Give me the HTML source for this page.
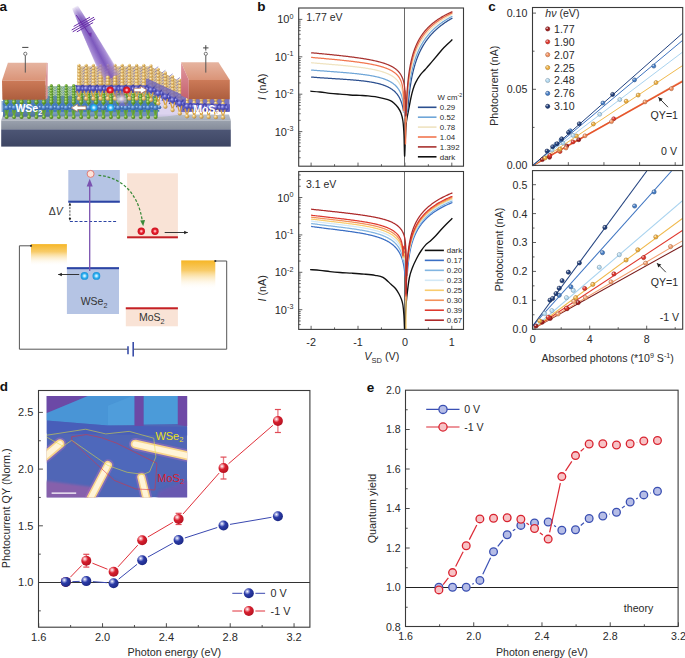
<!DOCTYPE html>
<html><head><meta charset="utf-8"><title>Figure</title>
<style>html,body{margin:0;padding:0;background:#fff;width:685px;height:658px;overflow:hidden}
text{font-family:"Liberation Sans", sans-serif}</style></head>
<body>
<svg width="685" height="658" viewBox="0 0 685 658" style="display:block;font-family:'Liberation Sans', sans-serif">
<defs>
<radialGradient id="sphR" cx="0.35" cy="0.32" r="0.75"><stop offset="0" stop-color="#ffffff"/><stop offset="0.18" stop-color="#f4a0a8"/><stop offset="0.42" stop-color="#d8202e"/><stop offset="1" stop-color="#b01020"/></radialGradient>
<radialGradient id="sphB" cx="0.35" cy="0.32" r="0.75"><stop offset="0" stop-color="#ffffff"/><stop offset="0.18" stop-color="#a0a8e0"/><stop offset="0.42" stop-color="#2c3ca8"/><stop offset="1" stop-color="#1a2680"/></radialGradient><filter id="blur1" x="-20%" y="-20%" width="140%" height="140%"><feGaussianBlur stdDeviation="1.2"/></filter><filter id="blur2" x="-30%" y="-30%" width="160%" height="160%"><feGaussianBlur stdDeviation="2.2"/></filter><filter id="blur05"><feGaussianBlur stdDeviation="0.5"/></filter><radialGradient id="gG" cx="0.35" cy="0.3" r="0.8"><stop offset="0" stop-color="#c4e88c"/><stop offset="0.45" stop-color="#6aa42e"/><stop offset="1" stop-color="#3e7418"/></radialGradient><radialGradient id="gB" cx="0.35" cy="0.3" r="0.8"><stop offset="0" stop-color="#b0d0f8"/><stop offset="0.45" stop-color="#4c82c8"/><stop offset="1" stop-color="#2a5090"/></radialGradient><radialGradient id="gO" cx="0.35" cy="0.3" r="0.8"><stop offset="0" stop-color="#fff2c8"/><stop offset="0.45" stop-color="#e2b866"/><stop offset="1" stop-color="#a87a30"/></radialGradient><radialGradient id="gM" cx="0.35" cy="0.3" r="0.8"><stop offset="0" stop-color="#c0c0f8"/><stop offset="0.45" stop-color="#5a5ac4"/><stop offset="1" stop-color="#3a3a9c"/></radialGradient><radialGradient id="gRed" cx="0.5" cy="0.5" r="0.5"><stop offset="0" stop-color="#ffe0e0"/><stop offset="0.25" stop-color="#ff9098"/><stop offset="0.5" stop-color="#e8202e"/><stop offset="1" stop-color="#c8101e"/></radialGradient><radialGradient id="gCy" cx="0.5" cy="0.5" r="0.5"><stop offset="0" stop-color="#f0fcff"/><stop offset="0.3" stop-color="#a0e0ff"/><stop offset="0.6" stop-color="#30b0f0"/><stop offset="1" stop-color="#1890d8"/></radialGradient><linearGradient id="subTop" x1="0" y1="0" x2="0" y2="1"><stop offset="0" stop-color="#b9bfca"/><stop offset="1" stop-color="#a6adb9"/></linearGradient>
<linearGradient id="subF1" x1="0" y1="0" x2="0" y2="1"><stop offset="0" stop-color="#9aa1ad"/><stop offset="1" stop-color="#868d9b"/></linearGradient>
<linearGradient id="subF2" x1="0" y1="0" x2="0" y2="1"><stop offset="0" stop-color="#4d5675"/><stop offset="1" stop-color="#3d4563"/></linearGradient>
<linearGradient id="elTop" x1="0" y1="0" x2="0" y2="1"><stop offset="0" stop-color="#e6b4a0"/><stop offset="1" stop-color="#da9478"/></linearGradient>
<linearGradient id="elFront" x1="0" y1="0" x2="0" y2="1"><stop offset="0" stop-color="#cc7a58"/><stop offset="1" stop-color="#ad5e3e"/></linearGradient>
<linearGradient id="elSide" x1="0" y1="0" x2="0" y2="1"><stop offset="0" stop-color="#e29aa0"/><stop offset="1" stop-color="#c4606e"/></linearGradient>
<linearGradient id="beam" x1="0" y1="0" x2="1" y2="0"><stop offset="0" stop-color="#c0a8e0" stop-opacity="0"/><stop offset="0.2" stop-color="#a084d2" stop-opacity="0.72"/><stop offset="0.5" stop-color="#7c58bc" stop-opacity="0.95"/><stop offset="0.8" stop-color="#a084d2" stop-opacity="0.72"/><stop offset="1" stop-color="#c0a8e0" stop-opacity="0"/></linearGradient>
<linearGradient id="beamFade" x1="0" y1="0" x2="0" y2="1"><stop offset="0" stop-color="#fff" stop-opacity="1"/><stop offset="0.12" stop-color="#fff" stop-opacity="0"/></linearGradient>
<radialGradient id="glow" cx="0.5" cy="0.5" r="0.5"><stop offset="0" stop-color="#f4f0ff" stop-opacity="0.95"/><stop offset="1" stop-color="#d8d0f0" stop-opacity="0"/></radialGradient>
<linearGradient id="elecL" x1="0" y1="0" x2="0" y2="1"><stop offset="0" stop-color="#f6b626"/><stop offset="0.35" stop-color="#f8cc6a"/><stop offset="1" stop-color="#ffffff" stop-opacity="0"/></linearGradient><linearGradient id="bmg" gradientUnits="userSpaceOnUse" x1="0" y1="-1" x2="0" y2="16"><stop offset="0" stop-color="#000"/><stop offset="1" stop-color="#fff"/></linearGradient><mask id="bmask" maskUnits="userSpaceOnUse" x="-30" y="-10" width="60" height="130"><rect x="-30" y="-10" width="60" height="130" fill="url(#bmg)"/></mask>
</defs>
<rect x="0" y="0" width="685" height="658" fill="#ffffff"/>
<text x="257.20" y="11.20" font-size="13.5" text-anchor="start" fill="#111" font-weight="bold" style="" >b</text>
<line x1="298.70" y1="157.74" x2="300.70" y2="157.74" stroke="#3a3a3a" stroke-width="0.8" />
<line x1="298.70" y1="151.16" x2="300.70" y2="151.16" stroke="#3a3a3a" stroke-width="0.8" />
<line x1="298.70" y1="146.48" x2="300.70" y2="146.48" stroke="#3a3a3a" stroke-width="0.8" />
<line x1="298.70" y1="142.86" x2="300.70" y2="142.86" stroke="#3a3a3a" stroke-width="0.8" />
<line x1="298.70" y1="139.90" x2="300.70" y2="139.90" stroke="#3a3a3a" stroke-width="0.8" />
<line x1="298.70" y1="137.39" x2="300.70" y2="137.39" stroke="#3a3a3a" stroke-width="0.8" />
<line x1="298.70" y1="135.22" x2="300.70" y2="135.22" stroke="#3a3a3a" stroke-width="0.8" />
<line x1="298.70" y1="133.31" x2="300.70" y2="133.31" stroke="#3a3a3a" stroke-width="0.8" />
<line x1="298.70" y1="131.60" x2="302.30" y2="131.60" stroke="#3a3a3a" stroke-width="0.8" />
<line x1="298.70" y1="120.34" x2="300.70" y2="120.34" stroke="#3a3a3a" stroke-width="0.8" />
<line x1="298.70" y1="113.76" x2="300.70" y2="113.76" stroke="#3a3a3a" stroke-width="0.8" />
<line x1="298.70" y1="109.08" x2="300.70" y2="109.08" stroke="#3a3a3a" stroke-width="0.8" />
<line x1="298.70" y1="105.46" x2="300.70" y2="105.46" stroke="#3a3a3a" stroke-width="0.8" />
<line x1="298.70" y1="102.50" x2="300.70" y2="102.50" stroke="#3a3a3a" stroke-width="0.8" />
<line x1="298.70" y1="99.99" x2="300.70" y2="99.99" stroke="#3a3a3a" stroke-width="0.8" />
<line x1="298.70" y1="97.82" x2="300.70" y2="97.82" stroke="#3a3a3a" stroke-width="0.8" />
<line x1="298.70" y1="95.91" x2="300.70" y2="95.91" stroke="#3a3a3a" stroke-width="0.8" />
<line x1="298.70" y1="94.20" x2="302.30" y2="94.20" stroke="#3a3a3a" stroke-width="0.8" />
<line x1="298.70" y1="82.94" x2="300.70" y2="82.94" stroke="#3a3a3a" stroke-width="0.8" />
<line x1="298.70" y1="76.36" x2="300.70" y2="76.36" stroke="#3a3a3a" stroke-width="0.8" />
<line x1="298.70" y1="71.68" x2="300.70" y2="71.68" stroke="#3a3a3a" stroke-width="0.8" />
<line x1="298.70" y1="68.06" x2="300.70" y2="68.06" stroke="#3a3a3a" stroke-width="0.8" />
<line x1="298.70" y1="65.10" x2="300.70" y2="65.10" stroke="#3a3a3a" stroke-width="0.8" />
<line x1="298.70" y1="62.59" x2="300.70" y2="62.59" stroke="#3a3a3a" stroke-width="0.8" />
<line x1="298.70" y1="60.42" x2="300.70" y2="60.42" stroke="#3a3a3a" stroke-width="0.8" />
<line x1="298.70" y1="58.51" x2="300.70" y2="58.51" stroke="#3a3a3a" stroke-width="0.8" />
<line x1="298.70" y1="56.80" x2="302.30" y2="56.80" stroke="#3a3a3a" stroke-width="0.8" />
<line x1="298.70" y1="45.54" x2="300.70" y2="45.54" stroke="#3a3a3a" stroke-width="0.8" />
<line x1="298.70" y1="38.96" x2="300.70" y2="38.96" stroke="#3a3a3a" stroke-width="0.8" />
<line x1="298.70" y1="34.28" x2="300.70" y2="34.28" stroke="#3a3a3a" stroke-width="0.8" />
<line x1="298.70" y1="30.66" x2="300.70" y2="30.66" stroke="#3a3a3a" stroke-width="0.8" />
<line x1="298.70" y1="27.70" x2="300.70" y2="27.70" stroke="#3a3a3a" stroke-width="0.8" />
<line x1="298.70" y1="25.19" x2="300.70" y2="25.19" stroke="#3a3a3a" stroke-width="0.8" />
<line x1="298.70" y1="23.02" x2="300.70" y2="23.02" stroke="#3a3a3a" stroke-width="0.8" />
<line x1="298.70" y1="21.11" x2="300.70" y2="21.11" stroke="#3a3a3a" stroke-width="0.8" />
<line x1="298.70" y1="19.40" x2="302.30" y2="19.40" stroke="#3a3a3a" stroke-width="0.8" />
<text x="293.4" y="23.40" font-size="11" text-anchor="end" fill="#2a2a2a">10<tspan dy="-4.6" font-size="7.2">0</tspan></text>
<text x="293.4" y="60.80" font-size="11" text-anchor="end" fill="#2a2a2a">10<tspan dy="-4.6" font-size="7.2">-1</tspan></text>
<text x="293.4" y="98.20" font-size="11" text-anchor="end" fill="#2a2a2a">10<tspan dy="-4.6" font-size="7.2">-2</tspan></text>
<text x="293.4" y="135.60" font-size="11" text-anchor="end" fill="#2a2a2a">10<tspan dy="-4.6" font-size="7.2">-3</tspan></text>
<line x1="311.10" y1="166.20" x2="311.10" y2="162.60" stroke="#3a3a3a" stroke-width="0.8" />
<line x1="334.55" y1="166.20" x2="334.55" y2="164.20" stroke="#3a3a3a" stroke-width="0.8" />
<line x1="358.00" y1="166.20" x2="358.00" y2="162.60" stroke="#3a3a3a" stroke-width="0.8" />
<line x1="381.45" y1="166.20" x2="381.45" y2="164.20" stroke="#3a3a3a" stroke-width="0.8" />
<line x1="404.90" y1="166.20" x2="404.90" y2="162.60" stroke="#3a3a3a" stroke-width="0.8" />
<line x1="428.35" y1="166.20" x2="428.35" y2="164.20" stroke="#3a3a3a" stroke-width="0.8" />
<line x1="451.80" y1="166.20" x2="451.80" y2="162.60" stroke="#3a3a3a" stroke-width="0.8" />
<line x1="404.50" y1="8.00" x2="404.50" y2="166.20" stroke="#6a6a6a" stroke-width="1.0" />
<line x1="298.70" y1="324.58" x2="300.70" y2="324.58" stroke="#3a3a3a" stroke-width="0.8" />
<line x1="298.70" y1="320.96" x2="300.70" y2="320.96" stroke="#3a3a3a" stroke-width="0.8" />
<line x1="298.70" y1="318.00" x2="300.70" y2="318.00" stroke="#3a3a3a" stroke-width="0.8" />
<line x1="298.70" y1="315.49" x2="300.70" y2="315.49" stroke="#3a3a3a" stroke-width="0.8" />
<line x1="298.70" y1="313.32" x2="300.70" y2="313.32" stroke="#3a3a3a" stroke-width="0.8" />
<line x1="298.70" y1="311.41" x2="300.70" y2="311.41" stroke="#3a3a3a" stroke-width="0.8" />
<line x1="298.70" y1="309.70" x2="302.30" y2="309.70" stroke="#3a3a3a" stroke-width="0.8" />
<line x1="298.70" y1="298.44" x2="300.70" y2="298.44" stroke="#3a3a3a" stroke-width="0.8" />
<line x1="298.70" y1="291.86" x2="300.70" y2="291.86" stroke="#3a3a3a" stroke-width="0.8" />
<line x1="298.70" y1="287.18" x2="300.70" y2="287.18" stroke="#3a3a3a" stroke-width="0.8" />
<line x1="298.70" y1="283.56" x2="300.70" y2="283.56" stroke="#3a3a3a" stroke-width="0.8" />
<line x1="298.70" y1="280.60" x2="300.70" y2="280.60" stroke="#3a3a3a" stroke-width="0.8" />
<line x1="298.70" y1="278.09" x2="300.70" y2="278.09" stroke="#3a3a3a" stroke-width="0.8" />
<line x1="298.70" y1="275.92" x2="300.70" y2="275.92" stroke="#3a3a3a" stroke-width="0.8" />
<line x1="298.70" y1="274.01" x2="300.70" y2="274.01" stroke="#3a3a3a" stroke-width="0.8" />
<line x1="298.70" y1="272.30" x2="302.30" y2="272.30" stroke="#3a3a3a" stroke-width="0.8" />
<line x1="298.70" y1="261.04" x2="300.70" y2="261.04" stroke="#3a3a3a" stroke-width="0.8" />
<line x1="298.70" y1="254.46" x2="300.70" y2="254.46" stroke="#3a3a3a" stroke-width="0.8" />
<line x1="298.70" y1="249.78" x2="300.70" y2="249.78" stroke="#3a3a3a" stroke-width="0.8" />
<line x1="298.70" y1="246.16" x2="300.70" y2="246.16" stroke="#3a3a3a" stroke-width="0.8" />
<line x1="298.70" y1="243.20" x2="300.70" y2="243.20" stroke="#3a3a3a" stroke-width="0.8" />
<line x1="298.70" y1="240.69" x2="300.70" y2="240.69" stroke="#3a3a3a" stroke-width="0.8" />
<line x1="298.70" y1="238.52" x2="300.70" y2="238.52" stroke="#3a3a3a" stroke-width="0.8" />
<line x1="298.70" y1="236.61" x2="300.70" y2="236.61" stroke="#3a3a3a" stroke-width="0.8" />
<line x1="298.70" y1="234.90" x2="302.30" y2="234.90" stroke="#3a3a3a" stroke-width="0.8" />
<line x1="298.70" y1="223.64" x2="300.70" y2="223.64" stroke="#3a3a3a" stroke-width="0.8" />
<line x1="298.70" y1="217.06" x2="300.70" y2="217.06" stroke="#3a3a3a" stroke-width="0.8" />
<line x1="298.70" y1="212.38" x2="300.70" y2="212.38" stroke="#3a3a3a" stroke-width="0.8" />
<line x1="298.70" y1="208.76" x2="300.70" y2="208.76" stroke="#3a3a3a" stroke-width="0.8" />
<line x1="298.70" y1="205.80" x2="300.70" y2="205.80" stroke="#3a3a3a" stroke-width="0.8" />
<line x1="298.70" y1="203.29" x2="300.70" y2="203.29" stroke="#3a3a3a" stroke-width="0.8" />
<line x1="298.70" y1="201.12" x2="300.70" y2="201.12" stroke="#3a3a3a" stroke-width="0.8" />
<line x1="298.70" y1="199.21" x2="300.70" y2="199.21" stroke="#3a3a3a" stroke-width="0.8" />
<line x1="298.70" y1="197.50" x2="302.30" y2="197.50" stroke="#3a3a3a" stroke-width="0.8" />
<line x1="298.70" y1="186.24" x2="300.70" y2="186.24" stroke="#3a3a3a" stroke-width="0.8" />
<line x1="298.70" y1="179.66" x2="300.70" y2="179.66" stroke="#3a3a3a" stroke-width="0.8" />
<line x1="298.70" y1="174.98" x2="300.70" y2="174.98" stroke="#3a3a3a" stroke-width="0.8" />
<text x="293.4" y="201.50" font-size="11" text-anchor="end" fill="#2a2a2a">10<tspan dy="-4.6" font-size="7.2">0</tspan></text>
<text x="293.4" y="238.90" font-size="11" text-anchor="end" fill="#2a2a2a">10<tspan dy="-4.6" font-size="7.2">-1</tspan></text>
<text x="293.4" y="276.30" font-size="11" text-anchor="end" fill="#2a2a2a">10<tspan dy="-4.6" font-size="7.2">-2</tspan></text>
<text x="293.4" y="313.70" font-size="11" text-anchor="end" fill="#2a2a2a">10<tspan dy="-4.6" font-size="7.2">-3</tspan></text>
<line x1="311.10" y1="329.40" x2="311.10" y2="325.80" stroke="#3a3a3a" stroke-width="0.8" />
<line x1="334.55" y1="329.40" x2="334.55" y2="327.40" stroke="#3a3a3a" stroke-width="0.8" />
<line x1="358.00" y1="329.40" x2="358.00" y2="325.80" stroke="#3a3a3a" stroke-width="0.8" />
<line x1="381.45" y1="329.40" x2="381.45" y2="327.40" stroke="#3a3a3a" stroke-width="0.8" />
<line x1="404.90" y1="329.40" x2="404.90" y2="325.80" stroke="#3a3a3a" stroke-width="0.8" />
<line x1="428.35" y1="329.40" x2="428.35" y2="327.40" stroke="#3a3a3a" stroke-width="0.8" />
<line x1="451.80" y1="329.40" x2="451.80" y2="325.80" stroke="#3a3a3a" stroke-width="0.8" />
<line x1="404.50" y1="171.50" x2="404.50" y2="329.40" stroke="#6a6a6a" stroke-width="1.0" />
<path d="M310.30,91.20 C311.92,91.33 316.72,91.65 320.00,92.00 C323.28,92.35 326.67,92.93 330.00,93.30 C333.33,93.67 336.67,93.92 340.00,94.20 C343.33,94.48 346.67,94.80 350.00,95.00 C353.33,95.20 357.00,95.27 360.00,95.40 C363.00,95.53 365.50,95.58 368.00,95.80 C370.50,96.02 372.33,96.23 375.00,96.70 C377.67,97.17 381.43,97.95 384.00,98.60 C386.57,99.25 388.72,99.83 390.40,100.60 C392.08,101.37 392.83,102.05 394.10,103.20 C395.37,104.35 396.85,105.87 398.00,107.50 C399.15,109.13 400.18,110.75 401.00,113.00 C401.82,115.25 402.40,117.33 402.90,121.00 C403.40,124.67 403.72,129.17 404.00,135.00 C404.28,140.83 404.38,155.17 404.60,156.00 C404.82,156.83 405.00,145.67 405.30,140.00 C405.60,134.33 405.85,127.00 406.40,122.00 C406.95,117.00 407.87,113.92 408.60,110.00 C409.33,106.08 410.07,101.92 410.80,98.50 C411.53,95.08 412.20,92.15 413.00,89.50 C413.80,86.85 414.35,85.07 415.60,82.60 C416.85,80.13 418.93,76.83 420.50,74.70 C422.07,72.57 423.75,71.22 425.00,69.80 C426.25,68.38 426.80,67.60 428.00,66.20 C429.20,64.80 430.60,63.27 432.20,61.40 C433.80,59.53 435.63,57.32 437.60,55.00 C439.57,52.68 441.53,50.07 444.00,47.50 C446.47,44.93 451.00,40.92 452.40,39.60" stroke="#111" stroke-width="1.35" fill="none" />
<path d="M311.10,77.07 L312.19,77.15 L313.27,77.23 L314.34,77.31 L315.40,77.39 L316.46,77.47 L317.50,77.54 L318.54,77.62 L319.57,77.69 L320.59,77.76 L321.61,77.83 L322.61,77.90 L323.61,77.96 L324.60,78.03 L325.58,78.10 L326.56,78.16 L327.52,78.22 L328.48,78.29 L329.43,78.35 L330.38,78.41 L331.31,78.47 L332.24,78.53 L333.16,78.59 L334.07,78.64 L334.97,78.70 L335.87,78.76 L336.76,78.82 L337.64,78.87 L338.51,78.93 L339.38,78.99 L340.24,79.05 L341.09,79.10 L341.93,79.16 L342.77,79.21 L343.60,79.27 L344.42,79.33 L345.23,79.38 L346.04,79.44 L346.84,79.50 L347.63,79.56 L348.42,79.61 L349.20,79.67 L349.97,79.73 L350.73,79.79 L351.49,79.85 L352.24,79.91 L352.98,79.97 L353.72,80.03 L354.45,80.10 L355.17,80.16 L355.89,80.22 L356.60,80.29 L357.30,80.36 L358.00,80.42 L358.68,80.49 L359.37,80.56 L360.04,80.63 L360.71,80.70 L361.37,80.77 L362.03,80.84 L362.68,80.92 L363.32,80.99 L363.96,81.07 L364.59,81.15 L365.21,81.22 L365.83,81.30 L366.44,81.39 L367.05,81.47 L367.65,81.55 L368.24,81.64 L368.83,81.73 L369.41,81.82 L369.98,81.91 L370.55,82.00 L371.11,82.09 L371.67,82.19 L372.22,82.29 L372.76,82.38 L373.30,82.48 L373.83,82.59 L374.36,82.69 L374.88,82.80 L375.39,82.91 L375.90,83.02 L376.41,83.13 L376.90,83.24 L377.40,83.36 L377.88,83.47 L378.36,83.59 L378.84,83.72 L379.31,83.84 L379.77,83.97 L380.23,84.09 L380.68,84.22 L381.13,84.36 L381.57,84.49 L382.01,84.63 L382.44,84.77 L382.87,84.91 L383.29,85.05 L383.71,85.20 L384.12,85.35 L384.53,85.50 L384.93,85.65 L385.32,85.81 L385.71,85.97 L386.10,86.13 L386.48,86.30 L386.85,86.46 L387.23,86.63 L387.59,86.80 L387.95,86.98 L388.31,87.15 L388.66,87.33 L389.01,87.52 L389.35,87.70 L389.69,87.89 L390.02,88.08 L390.35,88.28 L390.67,88.47 L390.99,88.67 L391.30,88.88 L391.61,89.08 L391.92,89.29 L392.22,89.50 L392.51,89.72 L392.80,89.94 L393.09,90.16 L393.37,90.38 L393.65,90.61 L393.93,90.84 L394.20,91.08 L394.46,91.32 L394.73,91.56 L394.98,91.80 L395.24,92.05 L395.49,92.30 L395.73,92.56 L395.97,92.82 L396.21,93.08 L396.44,93.35 L396.67,93.62 L396.90,93.89 L397.12,94.17 L397.34,94.45 L397.55,94.74 L397.76,95.03 L397.96,95.32 L398.17,95.62 L398.37,95.92 L398.56,96.22 L398.75,96.53 L398.94,96.85 L399.12,97.17 L399.30,97.49 L399.48,97.82 L399.65,98.15 L399.82,98.49 L399.99,98.83 L400.15,99.17 L400.31,99.52 L400.47,99.88 L400.62,100.24 L400.77,100.61 L400.92,100.98 L401.06,101.35 L401.20,101.73 L401.34,102.12 L401.47,102.51 L401.60,102.91 L401.73,103.31 L401.86,103.72 L401.98,104.14 L402.10,104.56 L402.21,104.98 L402.33,105.42 L402.44,105.86 L402.55,106.30 L402.65,106.75 L402.75,107.21 L402.85,107.68 L402.95,108.15 L403.04,108.63 L403.14,109.12 L403.23,109.61 L403.31,110.11 L403.40,110.63 L403.48,111.14 L403.56,111.67 L405.40,112.00 L407.74,111.26 L407.82,110.18 L407.89,109.12 L407.97,108.06 L408.05,107.02 L408.13,105.99 L408.21,104.97 L408.30,103.96 L408.38,102.96 L408.47,101.97 L408.56,100.99 L408.65,100.02 L408.75,99.06 L408.84,98.11 L408.94,97.18 L409.04,96.25 L409.14,95.33 L409.24,94.42 L409.35,93.51 L409.45,92.62 L409.56,91.74 L409.67,90.86 L409.78,90.00 L409.90,89.14 L410.01,88.29 L410.13,87.45 L410.25,86.61 L410.37,85.79 L410.50,84.97 L410.63,84.16 L410.75,83.35 L410.89,82.56 L411.02,81.77 L411.15,80.99 L411.29,80.22 L411.43,79.45 L411.57,78.69 L411.72,77.94 L411.86,77.19 L412.01,76.45 L412.16,75.72 L412.32,74.99 L412.47,74.27 L412.63,73.56 L412.79,72.85 L412.95,72.15 L413.12,71.45 L413.28,70.77 L413.45,70.08 L413.63,69.40 L413.80,68.73 L413.98,68.07 L414.16,67.41 L414.34,66.75 L414.52,66.10 L414.71,65.46 L414.90,64.82 L415.09,64.19 L415.29,63.56 L415.48,62.94 L415.68,62.32 L415.89,61.71 L416.09,61.10 L416.30,60.50 L416.51,59.90 L416.72,59.30 L416.94,58.72 L417.15,58.13 L417.38,57.55 L417.60,56.98 L417.82,56.41 L418.05,55.84 L418.29,55.28 L418.52,54.72 L418.76,54.17 L419.00,53.62 L419.24,53.08 L419.49,52.54 L419.74,52.00 L419.99,51.47 L420.24,50.95 L420.50,50.42 L420.76,49.90 L421.02,49.39 L421.29,48.88 L421.56,48.37 L421.83,47.86 L422.11,47.36 L422.38,46.87 L422.66,46.37 L422.95,45.88 L423.24,45.40 L423.53,44.91 L423.82,44.44 L424.12,43.96 L424.42,43.49 L424.72,43.02 L425.02,42.55 L425.33,42.09 L425.64,41.63 L425.96,41.18 L426.28,40.73 L426.60,40.28 L426.93,39.83 L427.25,39.39 L427.59,38.95 L427.92,38.51 L428.26,38.08 L428.60,37.65 L428.94,37.22 L429.29,36.79 L429.64,36.37 L430.00,35.95 L430.36,35.53 L430.72,35.12 L431.08,34.71 L431.45,34.30 L431.82,33.90 L432.20,33.49 L432.58,33.09 L432.96,32.70 L433.35,32.30 L433.74,31.91 L434.13,31.52 L434.53,31.13 L434.93,30.75 L435.33,30.36 L435.74,29.98 L436.15,29.60 L436.56,29.23 L436.98,28.86 L437.41,28.49 L437.83,28.12 L438.26,27.75 L438.69,27.39 L439.13,27.03 L439.57,26.67 L440.02,26.31 L440.46,25.95 L440.92,25.60 L441.37,25.25 L441.83,24.90 L442.30,24.56 L442.76,24.21 L443.24,23.87 L443.71,23.53 L444.19,23.19 L444.67,22.85 L445.16,22.52 L445.65,22.19 L446.15,21.86 L446.65,21.53 L447.15,21.20 L447.66,20.88 L448.17,20.55 L448.69,20.23 L449.21,19.91 L449.73,19.60 L450.26,19.28 L450.79,18.97 L451.32,18.65 L451.87,18.34 L452.41,18.03" stroke="#2b4f8f" stroke-width="1.25" fill="none" stroke-linejoin="round"/>
<path d="M311.10,70.02 L312.19,70.11 L313.27,70.19 L314.34,70.28 L315.40,70.36 L316.46,70.44 L317.50,70.53 L318.54,70.61 L319.57,70.69 L320.59,70.76 L321.61,70.84 L322.61,70.92 L323.61,70.99 L324.60,71.07 L325.58,71.14 L326.56,71.21 L327.52,71.29 L328.48,71.36 L329.43,71.43 L330.38,71.50 L331.31,71.57 L332.24,71.64 L333.16,71.71 L334.07,71.78 L334.97,71.85 L335.87,71.92 L336.76,71.98 L337.64,72.05 L338.51,72.12 L339.38,72.19 L340.24,72.25 L341.09,72.32 L341.93,72.39 L342.77,72.46 L343.60,72.52 L344.42,72.59 L345.23,72.66 L346.04,72.73 L346.84,72.80 L347.63,72.86 L348.42,72.93 L349.20,73.00 L349.97,73.07 L350.73,73.14 L351.49,73.21 L352.24,73.28 L352.98,73.36 L353.72,73.43 L354.45,73.50 L355.17,73.57 L355.89,73.65 L356.60,73.72 L357.30,73.80 L358.00,73.87 L358.68,73.95 L359.37,74.03 L360.04,74.11 L360.71,74.18 L361.37,74.27 L362.03,74.35 L362.68,74.43 L363.32,74.51 L363.96,74.60 L364.59,74.68 L365.21,74.77 L365.83,74.85 L366.44,74.94 L367.05,75.03 L367.65,75.12 L368.24,75.21 L368.83,75.31 L369.41,75.40 L369.98,75.50 L370.55,75.60 L371.11,75.69 L371.67,75.79 L372.22,75.89 L372.76,76.00 L373.30,76.10 L373.83,76.21 L374.36,76.31 L374.88,76.42 L375.39,76.53 L375.90,76.64 L376.41,76.76 L376.90,76.87 L377.40,76.99 L377.88,77.11 L378.36,77.23 L378.84,77.35 L379.31,77.47 L379.77,77.60 L380.23,77.73 L380.68,77.85 L381.13,77.98 L381.57,78.12 L382.01,78.25 L382.44,78.39 L382.87,78.53 L383.29,78.67 L383.71,78.81 L384.12,78.95 L384.53,79.10 L384.93,79.25 L385.32,79.40 L385.71,79.55 L386.10,79.71 L386.48,79.87 L386.85,80.03 L387.23,80.19 L387.59,80.35 L387.95,80.52 L388.31,80.69 L388.66,80.86 L389.01,81.03 L389.35,81.21 L389.69,81.39 L390.02,81.57 L390.35,81.75 L390.67,81.94 L390.99,82.13 L391.30,82.32 L391.61,82.51 L391.92,82.71 L392.22,82.91 L392.51,83.11 L392.80,83.31 L393.09,83.52 L393.37,83.73 L393.65,83.95 L393.93,84.16 L394.20,84.38 L394.46,84.61 L394.73,84.83 L394.98,85.06 L395.24,85.29 L395.49,85.53 L395.73,85.77 L395.97,86.01 L396.21,86.26 L396.44,86.51 L396.67,86.76 L396.90,87.02 L397.12,87.28 L397.34,87.54 L397.55,87.81 L397.76,88.08 L397.96,88.36 L398.17,88.64 L398.37,88.92 L398.56,89.21 L398.75,89.50 L398.94,89.80 L399.12,90.10 L399.30,90.41 L399.48,90.72 L399.65,91.03 L399.82,91.36 L399.99,91.68 L400.15,92.02 L400.31,92.35 L400.47,92.70 L400.62,93.05 L400.77,93.40 L400.92,93.76 L401.06,94.13 L401.20,94.51 L401.34,94.89 L401.47,95.28 L401.60,95.68 L401.73,96.09 L401.86,96.51 L401.98,96.94 L402.10,97.37 L402.21,97.82 L402.33,98.28 L402.44,98.76 L402.55,99.24 L402.65,99.75 L402.75,100.27 L402.85,100.82 L402.95,101.38 L403.04,101.98 L403.14,102.61 L403.23,103.29 L403.31,104.02 L403.40,104.83 L403.48,105.76 L403.56,106.90 L403.64,108.47 L403.71,111.95 L403.79,110.45 L403.86,109.13 L403.92,108.64 L403.99,108.45 L404.18,108.63 L404.24,108.82 L404.29,109.05 L404.35,109.32 L404.40,109.62 L404.45,109.94 L404.50,110.29 L404.55,110.66 L404.59,111.05 L404.64,111.46 L404.68,111.89 L404.72,112.33 L404.76,112.79 L404.80,113.27 L404.83,113.77 L404.87,114.28 L404.90,114.82 L404.93,115.36 L404.96,115.93 L404.99,116.51 L405.02,117.11 L405.04,117.73 L405.40,118.00 L406.34,117.97 L406.38,117.17 L406.43,116.36 L406.47,115.56 L406.52,114.75 L406.56,113.95 L406.61,113.14 L406.66,112.34 L406.71,111.54 L406.76,110.74 L406.82,109.93 L406.87,109.14 L406.93,108.34 L406.98,107.54 L407.04,106.75 L407.10,105.95 L407.16,105.16 L407.23,104.37 L407.29,103.59 L407.35,102.80 L407.42,102.02 L407.49,101.24 L407.56,100.46 L407.63,99.69 L407.70,98.91 L407.77,98.14 L407.85,97.38 L407.93,96.61 L408.01,95.85 L408.08,95.10 L408.17,94.34 L408.25,93.59 L408.33,92.85 L408.42,92.10 L408.51,91.36 L408.59,90.63 L408.69,89.89 L408.78,89.16 L408.87,88.44 L408.97,87.71 L409.06,87.00 L409.16,86.28 L409.26,85.57 L409.36,84.86 L409.47,84.16 L409.57,83.46 L409.68,82.77 L409.79,82.07 L409.90,81.39 L410.01,80.70 L410.12,80.02 L410.24,79.35 L410.36,78.67 L410.47,78.01 L410.60,77.34 L410.72,76.68 L410.84,76.03 L410.97,75.37 L411.10,74.73 L411.23,74.08 L411.36,73.44 L411.49,72.81 L411.63,72.17 L411.77,71.55 L411.90,70.92 L412.05,70.30 L412.19,69.68 L412.33,69.07 L412.48,68.46 L412.63,67.86 L412.78,67.26 L412.94,66.66 L413.09,66.07 L413.25,65.48 L413.41,64.89 L413.57,64.31 L413.73,63.73 L413.90,63.16 L414.07,62.59 L414.24,62.02 L414.41,61.46 L414.59,60.90 L414.76,60.34 L414.94,59.79 L415.12,59.24 L415.31,58.69 L415.49,58.15 L415.68,57.62 L415.87,57.08 L416.07,56.55 L416.26,56.02 L416.46,55.50 L416.66,54.98 L416.86,54.46 L417.07,53.95 L417.28,53.44 L417.49,52.93 L417.70,52.42 L417.91,51.92 L418.13,51.43 L418.35,50.93 L418.57,50.44 L418.80,49.95 L419.03,49.47 L419.26,48.99 L419.49,48.51 L419.73,48.03 L419.97,47.56 L420.21,47.09 L420.45,46.63 L420.70,46.16 L420.95,45.70 L421.20,45.25 L421.46,44.79 L421.71,44.34 L421.98,43.89 L422.24,43.45 L422.51,43.01 L422.78,42.57 L423.05,42.13 L423.32,41.69 L423.60,41.26 L423.88,40.83 L424.17,40.41 L424.45,39.99 L424.74,39.57 L425.04,39.15 L425.33,38.73 L425.63,38.32 L425.93,37.91 L426.24,37.50 L426.55,37.10 L426.86,36.69 L427.17,36.29 L427.49,35.90 L427.81,35.50 L428.14,35.11 L428.47,34.72 L428.80,34.33 L429.13,33.95 L429.47,33.56 L429.81,33.18 L430.15,32.80 L430.50,32.43 L430.85,32.05 L431.20,31.68 L431.56,31.31 L431.92,30.95 L432.28,30.58 L432.65,30.22 L433.02,29.86 L433.40,29.50 L433.77,29.15 L434.15,28.79 L434.54,28.44 L434.93,28.09 L435.32,27.74 L435.71,27.40 L436.11,27.05 L436.51,26.71 L436.92,26.37 L437.33,26.03 L437.74,25.70 L438.16,25.36 L438.58,25.03 L439.00,24.70 L439.43,24.37 L439.86,24.05 L440.29,23.72 L440.73,23.40 L441.17,23.08 L441.62,22.76 L442.07,22.44 L442.52,22.13 L442.98,21.82 L443.44,21.50 L443.91,21.19 L444.37,20.89 L444.85,20.58 L445.32,20.28 L445.80,19.97 L446.29,19.67 L446.78,19.37 L447.27,19.07 L447.76,18.78 L448.26,18.48 L448.77,18.19 L449.28,17.90 L449.79,17.61 L450.30,17.32 L450.82,17.03 L451.35,16.75 L451.88,16.46 L452.41,16.18" stroke="#6fa6d8" stroke-width="1.25" fill="none" stroke-linejoin="round"/>
<path d="M311.10,62.72 L312.19,62.82 L313.27,62.91 L314.34,63.00 L315.40,63.09 L316.46,63.18 L317.50,63.27 L318.54,63.35 L319.57,63.44 L320.59,63.53 L321.61,63.61 L322.61,63.70 L323.61,63.78 L324.60,63.86 L325.58,63.95 L326.56,64.03 L327.52,64.11 L328.48,64.19 L329.43,64.27 L330.38,64.36 L331.31,64.44 L332.24,64.52 L333.16,64.60 L334.07,64.68 L334.97,64.75 L335.87,64.83 L336.76,64.91 L337.64,64.99 L338.51,65.07 L339.38,65.15 L340.24,65.23 L341.09,65.31 L341.93,65.39 L342.77,65.47 L343.60,65.54 L344.42,65.62 L345.23,65.70 L346.04,65.78 L346.84,65.86 L347.63,65.94 L348.42,66.02 L349.20,66.10 L349.97,66.18 L350.73,66.26 L351.49,66.35 L352.24,66.43 L352.98,66.51 L353.72,66.59 L354.45,66.67 L355.17,66.76 L355.89,66.84 L356.60,66.93 L357.30,67.01 L358.00,67.10 L358.68,67.18 L359.37,67.27 L360.04,67.36 L360.71,67.45 L361.37,67.54 L362.03,67.63 L362.68,67.72 L363.32,67.81 L363.96,67.90 L364.59,67.99 L365.21,68.09 L365.83,68.18 L366.44,68.28 L367.05,68.37 L367.65,68.47 L368.24,68.57 L368.83,68.67 L369.41,68.77 L369.98,68.87 L370.55,68.97 L371.11,69.07 L371.67,69.18 L372.22,69.28 L372.76,69.39 L373.30,69.50 L373.83,69.61 L374.36,69.72 L374.88,69.83 L375.39,69.94 L375.90,70.05 L376.41,70.17 L376.90,70.28 L377.40,70.40 L377.88,70.52 L378.36,70.64 L378.84,70.76 L379.31,70.89 L379.77,71.01 L380.23,71.14 L380.68,71.26 L381.13,71.39 L381.57,71.52 L382.01,71.65 L382.44,71.79 L382.87,71.92 L383.29,72.06 L383.71,72.20 L384.12,72.34 L384.53,72.48 L384.93,72.62 L385.32,72.77 L385.71,72.92 L386.10,73.06 L386.48,73.21 L386.85,73.37 L387.23,73.52 L387.59,73.68 L387.95,73.84 L388.31,74.00 L388.66,74.16 L389.01,74.32 L389.35,74.49 L389.69,74.66 L390.02,74.83 L390.35,75.00 L390.67,75.17 L390.99,75.35 L391.30,75.53 L391.61,75.71 L391.92,75.90 L392.22,76.08 L392.51,76.27 L392.80,76.46 L393.09,76.66 L393.37,76.85 L393.65,77.05 L393.93,77.25 L394.20,77.46 L394.46,77.66 L394.73,77.87 L394.98,78.09 L395.24,78.30 L395.49,78.52 L395.73,78.74 L395.97,78.97 L396.21,79.20 L396.44,79.43 L396.67,79.67 L396.90,79.90 L397.12,80.15 L397.34,80.39 L397.55,80.64 L397.76,80.90 L397.96,81.15 L398.17,81.42 L398.37,81.68 L398.56,81.95 L398.75,82.23 L398.94,82.51 L399.12,82.79 L399.30,83.08 L399.48,83.38 L399.65,83.68 L399.82,83.98 L399.99,84.29 L400.15,84.61 L400.31,84.94 L400.47,85.27 L400.62,85.61 L400.77,85.95 L400.92,86.30 L401.06,86.67 L401.20,87.04 L401.34,87.42 L401.47,87.81 L401.60,88.21 L401.73,88.62 L401.86,89.05 L401.98,89.49 L402.10,89.94 L402.21,90.41 L402.33,90.90 L402.44,91.41 L402.55,91.94 L402.65,92.50 L402.75,93.09 L402.85,93.72 L402.95,94.38 L403.04,95.10 L403.14,95.88 L403.23,96.75 L403.31,97.72 L403.40,98.84 L403.48,100.20 L403.56,101.96 L403.64,104.60 L403.71,111.12 L403.79,107.50 L403.86,104.23 L403.92,102.65 L403.99,101.67 L404.06,100.99 L404.12,100.51 L404.18,100.16 L404.24,99.91 L404.29,99.73 L404.40,99.54 L404.59,99.61 L404.68,99.81 L404.76,100.09 L404.80,100.26 L404.83,100.45 L404.87,100.65 L404.90,100.87 L404.93,101.11 L404.96,101.36 L404.99,101.63 L405.02,101.91 L405.04,102.21 L405.07,102.52 L405.09,102.85 L405.11,103.19 L405.14,103.55 L405.16,103.92 L405.18,104.31 L405.19,104.72 L405.21,105.14 L405.23,105.58 L405.24,106.04 L405.26,106.52 L405.27,107.02 L405.28,107.54 L405.29,108.08 L405.31,108.65 L405.32,109.24 L405.33,109.85 L405.33,110.50 L405.34,111.17 L405.35,111.88 L405.36,112.63 L405.36,113.41 L405.37,114.24 L405.37,115.11 L405.38,116.04 L405.38,117.02 L405.38,118.07 L405.39,119.19 L405.39,120.40 L405.39,121.70 L405.40,122.00 L406.01,121.96 L406.05,120.97 L406.08,119.98 L406.11,119.00 L406.15,118.03 L406.19,117.07 L406.22,116.12 L406.26,115.17 L406.30,114.23 L406.34,113.30 L406.38,112.37 L406.43,111.45 L406.47,110.54 L406.52,109.63 L406.56,108.73 L406.61,107.84 L406.66,106.95 L406.71,106.07 L406.76,105.20 L406.82,104.33 L406.87,103.47 L406.93,102.61 L406.98,101.76 L407.04,100.92 L407.10,100.08 L407.16,99.25 L407.23,98.42 L407.29,97.60 L407.35,96.78 L407.42,95.97 L407.49,95.17 L407.56,94.37 L407.63,93.58 L407.70,92.79 L407.77,92.01 L407.85,91.23 L407.93,90.46 L408.01,89.70 L408.08,88.94 L408.17,88.18 L408.25,87.43 L408.33,86.69 L408.42,85.95 L408.51,85.21 L408.59,84.48 L408.69,83.76 L408.78,83.04 L408.87,82.33 L408.97,81.62 L409.06,80.92 L409.16,80.22 L409.26,79.53 L409.36,78.84 L409.47,78.15 L409.57,77.47 L409.68,76.80 L409.79,76.13 L409.90,75.47 L410.01,74.81 L410.12,74.15 L410.24,73.50 L410.36,72.86 L410.47,72.22 L410.60,71.58 L410.72,70.95 L410.84,70.32 L410.97,69.70 L411.10,69.08 L411.23,68.46 L411.36,67.85 L411.49,67.25 L411.63,66.65 L411.77,66.05 L411.90,65.46 L412.05,64.87 L412.19,64.28 L412.33,63.70 L412.48,63.13 L412.63,62.55 L412.78,61.99 L412.94,61.42 L413.09,60.86 L413.25,60.30 L413.41,59.75 L413.57,59.20 L413.73,58.66 L413.90,58.12 L414.07,57.58 L414.24,57.05 L414.41,56.52 L414.59,55.99 L414.76,55.47 L414.94,54.95 L415.12,54.43 L415.31,53.92 L415.49,53.41 L415.68,52.91 L415.87,52.41 L416.07,51.91 L416.26,51.42 L416.46,50.92 L416.66,50.44 L416.86,49.95 L417.07,49.47 L417.28,48.99 L417.49,48.52 L417.70,48.05 L417.91,47.58 L418.13,47.11 L418.35,46.65 L418.57,46.19 L418.80,45.74 L419.03,45.28 L419.26,44.83 L419.49,44.39 L419.73,43.94 L419.97,43.50 L420.21,43.06 L420.45,42.63 L420.70,42.20 L420.95,41.77 L421.20,41.34 L421.46,40.92 L421.71,40.49 L421.98,40.08 L422.24,39.66 L422.51,39.25 L422.78,38.84 L423.05,38.43 L423.32,38.02 L423.60,37.62 L423.88,37.22 L424.17,36.83 L424.45,36.43 L424.74,36.04 L425.04,35.65 L425.33,35.26 L425.63,34.88 L425.93,34.49 L426.24,34.11 L426.55,33.74 L426.86,33.36 L427.17,32.99 L427.49,32.62 L427.81,32.25 L428.14,31.88 L428.47,31.52 L428.80,31.16 L429.13,30.80 L429.47,30.44 L429.81,30.09 L430.15,29.74 L430.50,29.38 L430.85,29.04 L431.20,28.69 L431.56,28.35 L431.92,28.00 L432.28,27.66 L432.65,27.33 L433.02,26.99 L433.40,26.66 L433.77,26.32 L434.15,26.00 L434.54,25.67 L434.93,25.34 L435.32,25.02 L435.71,24.70 L436.11,24.38 L436.51,24.06 L436.92,23.74 L437.33,23.43 L437.74,23.11 L438.16,22.80 L438.58,22.49 L439.00,22.19 L439.43,21.88 L439.86,21.58 L440.29,21.28 L440.73,20.98 L441.17,20.68 L441.62,20.38 L442.07,20.09 L442.52,19.79 L442.98,19.50 L443.44,19.21 L443.91,18.92 L444.37,18.64 L444.85,18.35 L445.32,18.07 L445.80,17.78 L446.29,17.50 L446.78,17.23 L447.27,16.95 L447.76,16.67 L448.26,16.40 L448.77,16.13 L449.28,15.85 L449.79,15.59 L450.30,15.32 L450.82,15.05 L451.35,14.79 L451.88,14.52 L452.41,14.26" stroke="#efe3c0" stroke-width="1.25" fill="none" stroke-linejoin="round"/>
<path d="M311.10,57.38 L312.19,57.47 L313.27,57.57 L314.34,57.66 L315.40,57.76 L316.46,57.85 L317.50,57.94 L318.54,58.04 L319.57,58.13 L320.59,58.22 L321.61,58.31 L322.61,58.40 L323.61,58.49 L324.60,58.58 L325.58,58.67 L326.56,58.76 L327.52,58.85 L328.48,58.94 L329.43,59.03 L330.38,59.12 L331.31,59.20 L332.24,59.29 L333.16,59.38 L334.07,59.47 L334.97,59.55 L335.87,59.64 L336.76,59.73 L337.64,59.82 L338.51,59.90 L339.38,59.99 L340.24,60.08 L341.09,60.16 L341.93,60.25 L342.77,60.34 L343.60,60.43 L344.42,60.51 L345.23,60.60 L346.04,60.69 L346.84,60.78 L347.63,60.86 L348.42,60.95 L349.20,61.04 L349.97,61.13 L350.73,61.22 L351.49,61.31 L352.24,61.40 L352.98,61.49 L353.72,61.58 L354.45,61.67 L355.17,61.76 L355.89,61.85 L356.60,61.94 L357.30,62.04 L358.00,62.13 L358.68,62.22 L359.37,62.32 L360.04,62.41 L360.71,62.51 L361.37,62.60 L362.03,62.70 L362.68,62.79 L363.32,62.89 L363.96,62.99 L364.59,63.09 L365.21,63.19 L365.83,63.29 L366.44,63.39 L367.05,63.49 L367.65,63.59 L368.24,63.69 L368.83,63.80 L369.41,63.90 L369.98,64.01 L370.55,64.11 L371.11,64.22 L371.67,64.33 L372.22,64.44 L372.76,64.54 L373.30,64.65 L373.83,64.77 L374.36,64.88 L374.88,64.99 L375.39,65.11 L375.90,65.22 L376.41,65.34 L376.90,65.45 L377.40,65.57 L377.88,65.69 L378.36,65.81 L378.84,65.93 L379.31,66.06 L379.77,66.18 L380.23,66.30 L380.68,66.43 L381.13,66.56 L381.57,66.69 L382.01,66.82 L382.44,66.95 L382.87,67.08 L383.29,67.21 L383.71,67.35 L384.12,67.49 L384.53,67.62 L384.93,67.76 L385.32,67.91 L385.71,68.05 L386.10,68.19 L386.48,68.34 L386.85,68.48 L387.23,68.63 L387.59,68.78 L387.95,68.94 L388.31,69.09 L388.66,69.24 L389.01,69.40 L389.35,69.56 L389.69,69.72 L390.02,69.88 L390.35,70.05 L390.67,70.21 L390.99,70.38 L391.30,70.55 L391.61,70.73 L391.92,70.90 L392.22,71.08 L392.51,71.26 L392.80,71.44 L393.09,71.62 L393.37,71.81 L393.65,71.99 L393.93,72.18 L394.20,72.38 L394.46,72.57 L394.73,72.77 L394.98,72.97 L395.24,73.18 L395.49,73.38 L395.73,73.59 L395.97,73.81 L396.21,74.02 L396.44,74.24 L396.67,74.46 L396.90,74.69 L397.12,74.92 L397.34,75.15 L397.55,75.39 L397.76,75.63 L397.96,75.87 L398.17,76.12 L398.37,76.37 L398.56,76.63 L398.75,76.89 L398.94,77.16 L399.12,77.43 L399.30,77.71 L399.48,77.99 L399.65,78.28 L399.82,78.57 L399.99,78.87 L400.15,79.18 L400.31,79.50 L400.47,79.82 L400.62,80.15 L400.77,80.49 L400.92,80.83 L401.06,81.19 L401.20,81.56 L401.34,81.94 L401.47,82.33 L401.60,82.73 L401.73,83.14 L401.86,83.58 L401.98,84.03 L402.10,84.49 L402.21,84.98 L402.33,85.49 L402.44,86.03 L402.55,86.59 L402.65,87.19 L402.75,87.83 L402.85,88.51 L402.95,89.25 L403.04,90.06 L403.14,90.95 L403.23,91.95 L403.31,93.09 L403.40,94.45 L403.48,96.12 L403.56,98.34 L403.64,101.77 L403.71,110.52 L403.79,105.34 L403.86,100.64 L403.92,98.26 L403.99,96.69 L404.06,95.55 L404.12,94.66 L404.18,93.96 L404.24,93.38 L404.29,92.89 L404.35,92.49 L404.40,92.15 L404.45,91.86 L404.50,91.61 L404.55,91.40 L404.59,91.22 L404.68,90.95 L404.76,90.78 L404.93,90.66 L405.04,90.82 L405.09,90.98 L405.14,91.18 L405.18,91.43 L405.21,91.72 L405.23,91.88 L405.24,92.06 L405.26,92.24 L405.27,92.44 L405.28,92.65 L405.29,92.87 L405.31,93.11 L405.32,93.36 L405.33,93.62 L405.33,93.90 L405.34,94.19 L405.35,94.50 L405.36,94.83 L405.36,95.18 L405.37,95.55 L405.37,95.94 L405.38,96.36 L405.38,96.81 L405.38,97.29 L405.39,97.80 L405.39,98.35 L405.39,98.95 L405.39,99.61 L405.40,100.32 L405.40,101.12 L405.40,102.01 L405.40,103.02 L405.40,104.18 L405.40,105.56 L405.40,107.24 L405.40,109.38 L405.40,112.28 L405.40,116.22 L405.40,106.47 L405.40,144.00 L405.60,143.48 L405.62,141.94 L405.64,140.42 L405.65,138.93 L405.67,137.48 L405.69,136.05 L405.71,134.65 L405.73,133.28 L405.75,131.93 L405.77,130.60 L405.80,129.30 L405.82,128.02 L405.84,126.76 L405.87,125.52 L405.90,124.29 L405.93,123.09 L405.95,121.90 L405.98,120.73 L406.01,119.58 L406.05,118.44 L406.08,117.32 L406.11,116.22 L406.15,115.12 L406.19,114.04 L406.22,112.98 L406.26,111.93 L406.30,110.89 L406.34,109.86 L406.38,108.85 L406.43,107.85 L406.47,106.86 L406.52,105.88 L406.56,104.91 L406.61,103.95 L406.66,103.00 L406.71,102.07 L406.76,101.14 L406.82,100.22 L406.87,99.31 L406.93,98.41 L406.98,97.52 L407.04,96.64 L407.10,95.77 L407.16,94.91 L407.23,94.06 L407.29,93.21 L407.35,92.37 L407.42,91.54 L407.49,90.72 L407.56,89.91 L407.63,89.10 L407.70,88.30 L407.77,87.51 L407.85,86.73 L407.93,85.95 L408.01,85.18 L408.08,84.42 L408.17,83.66 L408.25,82.91 L408.33,82.17 L408.42,81.43 L408.51,80.70 L408.59,79.98 L408.69,79.26 L408.78,78.55 L408.87,77.85 L408.97,77.15 L409.06,76.46 L409.16,75.77 L409.26,75.09 L409.36,74.42 L409.47,73.75 L409.57,73.08 L409.68,72.43 L409.79,71.77 L409.90,71.13 L410.01,70.48 L410.12,69.85 L410.24,69.22 L410.36,68.59 L410.47,67.97 L410.60,67.35 L410.72,66.74 L410.84,66.13 L410.97,65.53 L411.10,64.93 L411.23,64.34 L411.36,63.75 L411.49,63.17 L411.63,62.59 L411.77,62.02 L411.90,61.45 L412.05,60.88 L412.19,60.32 L412.33,59.76 L412.48,59.21 L412.63,58.66 L412.78,58.12 L412.94,57.58 L413.09,57.04 L413.25,56.51 L413.41,55.98 L413.57,55.46 L413.73,54.94 L413.90,54.42 L414.07,53.91 L414.24,53.40 L414.41,52.89 L414.59,52.39 L414.76,51.90 L414.94,51.40 L415.12,50.91 L415.31,50.42 L415.49,49.94 L415.68,49.46 L415.87,48.98 L416.07,48.51 L416.26,48.04 L416.46,47.57 L416.66,47.11 L416.86,46.65 L417.07,46.19 L417.28,45.74 L417.49,45.28 L417.70,44.84 L417.91,44.39 L418.13,43.95 L418.35,43.51 L418.57,43.08 L418.80,42.64 L419.03,42.21 L419.26,41.79 L419.49,41.36 L419.73,40.94 L419.97,40.52 L420.21,40.11 L420.45,39.70 L420.70,39.29 L420.95,38.88 L421.20,38.47 L421.46,38.07 L421.71,37.67 L421.98,37.28 L422.24,36.88 L422.51,36.49 L422.78,36.10 L423.05,35.72 L423.32,35.33 L423.60,34.95 L423.88,34.57 L424.17,34.20 L424.45,33.82 L424.74,33.45 L425.04,33.08 L425.33,32.72 L425.63,32.35 L425.93,31.99 L426.24,31.63 L426.55,31.27 L426.86,30.92 L427.17,30.56 L427.49,30.21 L427.81,29.86 L428.14,29.52 L428.47,29.17 L428.80,28.83 L429.13,28.49 L429.47,28.15 L429.81,27.82 L430.15,27.48 L430.50,27.15 L430.85,26.82 L431.20,26.49 L431.56,26.17 L431.92,25.85 L432.28,25.52 L432.65,25.20 L433.02,24.89 L433.40,24.57 L433.77,24.26 L434.15,23.94 L434.54,23.63 L434.93,23.33 L435.32,23.02 L435.71,22.71 L436.11,22.41 L436.51,22.11 L436.92,21.81 L437.33,21.51 L437.74,21.22 L438.16,20.92 L438.58,20.63 L439.00,20.34 L439.43,20.05 L439.86,19.77 L440.29,19.48 L440.73,19.20 L441.17,18.91 L441.62,18.63 L442.07,18.35 L442.52,18.08 L442.98,17.80 L443.44,17.53 L443.91,17.26 L444.37,16.98 L444.85,16.71 L445.32,16.45 L445.80,16.18 L446.29,15.92 L446.78,15.65 L447.27,15.39 L447.76,15.13 L448.26,14.87 L448.77,14.61 L449.28,14.36 L449.79,14.10 L450.30,13.85 L450.82,13.60 L451.35,13.35 L451.88,13.10 L452.41,12.85" stroke="#f2764f" stroke-width="1.25" fill="none" stroke-linejoin="round"/>
<path d="M311.10,52.76 L312.17,52.85 L313.23,52.95 L314.28,53.05 L315.32,53.14 L316.35,53.24 L317.38,53.33 L318.40,53.43 L319.41,53.52 L320.41,53.62 L321.41,53.71 L322.39,53.81 L323.37,53.90 L324.34,54.00 L325.31,54.09 L326.26,54.18 L327.21,54.27 L328.15,54.37 L329.08,54.46 L330.00,54.55 L330.92,54.65 L331.83,54.74 L332.73,54.83 L333.62,54.92 L334.51,55.01 L335.39,55.11 L336.26,55.20 L337.13,55.29 L337.98,55.38 L338.83,55.47 L339.67,55.57 L340.51,55.66 L341.34,55.75 L342.16,55.84 L342.97,55.93 L343.77,56.03 L344.57,56.12 L345.36,56.21 L346.15,56.30 L346.93,56.40 L347.70,56.49 L348.46,56.58 L349.22,56.67 L349.97,56.77 L350.71,56.86 L351.45,56.95 L352.18,57.05 L352.90,57.14 L353.61,57.24 L354.32,57.33 L355.02,57.43 L355.72,57.52 L356.41,57.62 L357.09,57.71 L357.77,57.81 L358.44,57.90 L359.10,58.00 L359.76,58.10 L360.41,58.19 L361.05,58.29 L361.69,58.39 L362.32,58.49 L362.94,58.59 L363.56,58.68 L364.17,58.78 L364.78,58.88 L365.38,58.98 L365.97,59.08 L366.56,59.19 L367.14,59.29 L367.71,59.39 L368.28,59.49 L368.85,59.59 L369.40,59.70 L369.95,59.80 L370.50,59.91 L371.04,60.01 L371.57,60.12 L372.10,60.22 L372.62,60.33 L373.14,60.44 L373.65,60.55 L374.15,60.66 L374.65,60.76 L375.15,60.87 L375.64,60.99 L376.12,61.10 L376.59,61.21 L377.07,61.32 L377.53,61.43 L377.99,61.55 L378.45,61.66 L378.90,61.78 L379.34,61.89 L379.78,62.01 L380.22,62.13 L380.65,62.25 L381.07,62.37 L381.49,62.49 L381.90,62.61 L382.31,62.73 L382.71,62.85 L383.11,62.97 L383.51,63.10 L383.89,63.22 L384.28,63.35 L384.66,63.47 L385.03,63.60 L385.40,63.73 L385.76,63.86 L386.12,63.99 L386.48,64.12 L386.83,64.25 L387.17,64.39 L387.52,64.52 L387.85,64.66 L388.18,64.79 L388.51,64.93 L388.84,65.07 L389.15,65.21 L389.47,65.35 L389.78,65.49 L390.08,65.64 L390.39,65.78 L390.68,65.92 L390.98,66.07 L391.27,66.22 L391.55,66.37 L391.83,66.52 L392.11,66.67 L392.38,66.82 L392.65,66.98 L392.92,67.13 L393.18,67.29 L393.44,67.45 L393.69,67.61 L393.94,67.77 L394.19,67.93 L394.43,68.09 L394.67,68.26 L394.91,68.42 L395.14,68.59 L395.37,68.76 L395.60,68.93 L395.82,69.11 L396.04,69.28 L396.25,69.46 L396.47,69.63 L396.68,69.81 L396.88,69.99 L397.09,70.18 L397.29,70.36 L397.48,70.55 L397.68,70.74 L397.87,70.93 L398.06,71.12 L398.24,71.31 L398.42,71.51 L398.60,71.71 L398.78,71.91 L398.95,72.11 L399.13,72.32 L399.29,72.52 L399.46,72.73 L399.62,72.94 L399.78,73.16 L399.94,73.37 L400.10,73.59 L400.25,73.81 L400.40,74.04 L400.54,74.26 L400.69,74.49 L400.83,74.72 L400.97,74.96 L401.11,75.20 L401.24,75.44 L401.38,75.68 L401.50,75.92 L401.63,76.17 L401.76,76.43 L401.88,76.68 L402.00,76.94 L402.12,77.20 L402.23,77.47 L402.34,77.74 L402.45,78.01 L402.56,78.29 L402.67,78.57 L402.77,78.85 L402.87,79.14 L402.97,79.43 L403.07,79.73 L403.16,80.03 L403.25,80.34 L403.34,80.65 L403.43,80.96 L403.51,81.28 L403.60,81.61 L403.68,81.94 L403.76,82.28 L403.83,82.62 L403.91,82.97 L403.98,83.32 L404.05,83.68 L404.11,84.05 L404.18,84.42 L404.24,84.80 L404.30,85.19 L404.36,85.59 L404.42,85.99 L404.47,86.40 L404.53,86.82 L404.58,87.25 L404.63,87.68 L404.68,88.13 L404.72,88.59 L404.76,89.05 L404.81,89.53 L404.85,90.02 L404.88,90.52 L404.92,91.03 L404.95,91.56 L404.99,92.10 L405.02,92.65 L405.05,93.22 L405.08,93.81 L405.10,94.41 L405.13,95.03 L405.15,95.67 L405.17,96.33 L405.20,97.01 L405.22,97.72 L405.23,98.45 L405.25,99.20 L405.27,99.99 L405.28,100.81 L405.29,101.65 L405.31,102.54 L405.32,103.46 L405.33,104.43 L405.34,105.45 L405.35,106.51 L405.36,107.64 L405.36,108.83 L405.37,110.09 L405.37,111.43 L405.38,112.87 L405.38,114.41 L405.40,116.00 L406.08,115.03 L406.11,113.81 L406.15,112.61 L406.19,111.43 L406.22,110.27 L406.26,109.13 L406.30,108.01 L406.34,106.90 L406.38,105.81 L406.43,104.74 L406.47,103.68 L406.52,102.63 L406.56,101.61 L406.61,100.59 L406.66,99.59 L406.71,98.60 L406.76,97.63 L406.82,96.67 L406.87,95.72 L406.93,94.79 L406.98,93.87 L407.04,92.95 L407.10,92.05 L407.16,91.16 L407.23,90.29 L407.29,89.42 L407.35,88.56 L407.42,87.71 L407.49,86.88 L407.56,86.05 L407.63,85.23 L407.70,84.42 L407.77,83.62 L407.85,82.83 L407.93,82.05 L408.01,81.28 L408.08,80.51 L408.17,79.76 L408.25,79.01 L408.33,78.27 L408.42,77.54 L408.51,76.81 L408.59,76.09 L408.69,75.38 L408.78,74.68 L408.87,73.98 L408.97,73.29 L409.06,72.61 L409.16,71.93 L409.26,71.26 L409.36,70.60 L409.47,69.94 L409.57,69.29 L409.68,68.65 L409.79,68.01 L409.90,67.38 L410.01,66.75 L410.12,66.13 L410.24,65.51 L410.36,64.90 L410.47,64.30 L410.60,63.70 L410.72,63.11 L410.84,62.52 L410.97,61.93 L411.10,61.36 L411.23,60.78 L411.36,60.21 L411.49,59.65 L411.63,59.09 L411.77,58.54 L411.90,57.99 L412.05,57.44 L412.19,56.90 L412.33,56.36 L412.48,55.83 L412.63,55.30 L412.78,54.78 L412.94,54.26 L413.09,53.75 L413.25,53.23 L413.41,52.73 L413.57,52.22 L413.73,51.73 L413.90,51.23 L414.07,50.74 L414.24,50.25 L414.41,49.77 L414.59,49.29 L414.76,48.81 L414.94,48.34 L415.12,47.87 L415.31,47.40 L415.49,46.94 L415.68,46.48 L415.87,46.02 L416.07,45.57 L416.26,45.12 L416.46,44.67 L416.66,44.23 L416.86,43.79 L417.07,43.36 L417.28,42.92 L417.49,42.49 L417.70,42.06 L417.91,41.64 L418.13,41.22 L418.35,40.80 L418.57,40.39 L418.80,39.97 L419.03,39.56 L419.26,39.16 L419.49,38.75 L419.73,38.35 L419.97,37.95 L420.21,37.56 L420.45,37.16 L420.70,36.77 L420.95,36.39 L421.20,36.00 L421.46,35.62 L421.71,35.24 L421.98,34.86 L422.24,34.48 L422.51,34.11 L422.78,33.74 L423.05,33.37 L423.32,33.01 L423.60,32.65 L423.88,32.29 L424.17,31.93 L424.45,31.57 L424.74,31.22 L425.04,30.87 L425.33,30.52 L425.63,30.17 L425.93,29.83 L426.24,29.48 L426.55,29.14 L426.86,28.81 L427.17,28.47 L427.49,28.14 L427.81,27.80 L428.14,27.47 L428.47,27.15 L428.80,26.82 L429.13,26.50 L429.47,26.18 L429.81,25.86 L430.15,25.54 L430.50,25.22 L430.85,24.91 L431.20,24.60 L431.56,24.29 L431.92,23.98 L432.28,23.68 L432.65,23.37 L433.02,23.07 L433.40,22.77 L433.77,22.47 L434.15,22.17 L434.54,21.88 L434.93,21.59 L435.32,21.29 L435.71,21.00 L436.11,20.72 L436.51,20.43 L436.92,20.15 L437.33,19.86 L437.74,19.58 L438.16,19.30 L438.58,19.02 L439.00,18.75 L439.43,18.47 L439.86,18.20 L440.29,17.93 L440.73,17.66 L441.17,17.39 L441.62,17.13 L442.07,16.86 L442.52,16.60 L442.98,16.34 L443.44,16.07 L443.91,15.82 L444.37,15.56 L444.85,15.30 L445.32,15.05 L445.80,14.80 L446.29,14.54 L446.78,14.29 L447.27,14.04 L447.76,13.80 L448.26,13.55 L448.77,13.31 L449.28,13.06 L449.79,12.82 L450.30,12.58 L450.82,12.34 L451.35,12.11 L451.88,11.87 L452.41,11.64" stroke="#a8322f" stroke-width="1.25" fill="none" stroke-linejoin="round"/>
<path d="M310.10,269.60 C311.75,269.72 316.68,269.97 320.00,270.30 C323.32,270.63 326.67,271.23 330.00,271.60 C333.33,271.97 336.33,272.23 340.00,272.50 C343.67,272.77 348.00,272.93 352.00,273.20 C356.00,273.47 360.17,273.75 364.00,274.10 C367.83,274.45 371.83,274.77 375.00,275.30 C378.17,275.83 380.33,275.80 383.00,277.30 C385.67,278.80 388.92,282.43 391.00,284.30 C393.08,286.17 394.18,286.92 395.50,288.50 C396.82,290.08 397.90,291.97 398.90,293.80 C399.90,295.63 400.83,297.63 401.50,299.50 C402.17,301.37 402.50,302.42 402.90,305.00 C403.30,307.58 403.63,311.00 403.90,315.00 C404.17,319.00 404.40,326.67 404.50,329.00" stroke="#111" stroke-width="1.35" fill="none" />
<path d="M405.00,329.00 C405.10,326.17 405.30,317.33 405.60,312.00 C405.90,306.67 406.18,302.67 406.80,297.00 C407.42,291.33 408.35,282.92 409.30,278.00 C410.25,273.08 411.30,270.72 412.50,267.50 C413.70,264.28 415.08,261.45 416.50,258.70 C417.92,255.95 419.40,253.38 421.00,251.00 C422.60,248.62 424.58,246.03 426.10,244.40 C427.62,242.77 428.62,242.52 430.10,241.20 C431.58,239.88 433.28,238.28 435.00,236.50 C436.72,234.72 438.57,232.50 440.40,230.50 C442.23,228.50 444.00,226.53 446.00,224.50 C448.00,222.47 451.33,219.33 452.40,218.30" stroke="#111" stroke-width="1.35" fill="none" />
<path d="M311.10,226.45 L312.21,226.60 L313.32,226.75 L314.41,226.90 L315.50,227.04 L316.57,227.18 L317.64,227.32 L318.71,227.46 L319.76,227.60 L320.80,227.74 L321.84,227.87 L322.87,228.00 L323.89,228.13 L324.90,228.26 L325.90,228.39 L326.90,228.51 L327.88,228.64 L328.86,228.76 L329.83,228.88 L330.80,229.00 L331.75,229.12 L332.70,229.24 L333.64,229.36 L334.57,229.47 L335.49,229.59 L336.41,229.70 L337.32,229.82 L338.22,229.93 L339.11,230.05 L339.99,230.16 L340.87,230.27 L341.74,230.38 L342.60,230.49 L343.46,230.61 L344.31,230.72 L345.15,230.83 L345.98,230.94 L346.80,231.05 L347.62,231.16 L348.43,231.27 L349.23,231.38 L350.03,231.50 L350.82,231.61 L351.60,231.72 L352.37,231.83 L353.14,231.95 L353.90,232.06 L354.65,232.17 L355.40,232.29 L356.14,232.40 L356.87,232.52 L357.59,232.64 L358.31,232.75 L359.02,232.87 L359.73,232.99 L360.42,233.11 L361.11,233.23 L361.80,233.35 L362.47,233.48 L363.14,233.60 L363.81,233.72 L364.47,233.85 L365.12,233.98 L365.76,234.11 L366.40,234.24 L367.03,234.37 L367.65,234.50 L368.27,234.64 L368.88,234.77 L369.49,234.91 L370.09,235.05 L370.68,235.19 L371.27,235.33 L371.85,235.47 L372.42,235.62 L372.99,235.77 L373.55,235.91 L374.11,236.06 L374.66,236.22 L375.20,236.37 L375.74,236.53 L376.27,236.69 L376.80,236.85 L377.32,237.01 L377.83,237.17 L378.34,237.34 L378.85,237.51 L379.34,237.68 L379.83,237.85 L380.32,238.03 L380.80,238.21 L381.27,238.39 L381.74,238.57 L382.21,238.75 L382.66,238.94 L383.12,239.13 L383.56,239.32 L384.00,239.52 L384.44,239.71 L384.87,239.91 L385.29,240.12 L385.71,240.32 L386.13,240.53 L386.54,240.74 L386.94,240.95 L387.34,241.17 L387.73,241.39 L388.12,241.61 L388.51,241.83 L388.89,242.06 L389.26,242.29 L389.63,242.53 L389.99,242.76 L390.35,243.00 L390.70,243.25 L391.05,243.49 L391.39,243.74 L391.73,244.00 L392.07,244.25 L392.40,244.51 L392.72,244.77 L393.04,245.04 L393.35,245.31 L393.66,245.58 L393.97,245.86 L394.27,246.14 L394.57,246.42 L394.86,246.71 L395.14,247.00 L395.43,247.30 L395.70,247.59 L395.98,247.90 L396.24,248.20 L396.51,248.51 L396.77,248.83 L397.02,249.15 L397.27,249.47 L397.52,249.79 L397.76,250.13 L398.00,250.46 L398.23,250.80 L398.46,251.14 L398.68,251.49 L398.90,251.84 L399.12,252.20 L399.33,252.56 L399.53,252.93 L399.74,253.30 L399.93,253.67 L400.13,254.05 L400.32,254.44 L400.50,254.83 L400.69,255.22 L400.86,255.62 L401.04,256.03 L401.21,256.44 L401.37,256.85 L401.53,257.28 L401.69,257.70 L401.84,258.14 L401.99,258.57 L402.14,259.02 L402.28,259.47 L402.42,259.92 L402.55,260.38 L402.69,260.85 L402.81,261.33 L402.94,261.81 L403.06,262.29 L403.17,262.79 L403.29,263.29 L403.40,263.79 L403.50,264.31 L403.61,264.83 L403.71,265.36 L403.80,265.89 L403.90,266.44 L403.99,266.99 L404.08,267.55 L404.16,268.11 L404.24,268.69 L404.32,269.27 L404.40,269.87 L404.47,270.47 L404.54,271.08 L404.61,271.70 L404.68,272.32 L404.74,272.96 L404.80,273.61 L404.86,274.27 L404.92,274.94 L404.97,275.62 L406.00,276.00 L407.27,275.28 L407.32,274.48 L407.37,273.69 L407.42,272.92 L407.48,272.15 L407.53,271.39 L407.59,270.64 L407.64,269.89 L407.70,269.16 L407.76,268.43 L407.82,267.72 L407.89,267.01 L407.95,266.30 L408.02,265.61 L408.08,264.92 L408.15,264.24 L408.22,263.57 L408.29,262.90 L408.37,262.24 L408.44,261.59 L408.52,260.95 L408.60,260.31 L408.68,259.67 L408.76,259.05 L408.85,258.43 L408.93,257.81 L409.02,257.20 L409.11,256.60 L409.20,256.00 L409.29,255.41 L409.39,254.83 L409.49,254.24 L409.58,253.67 L409.68,253.10 L409.79,252.53 L409.89,251.97 L410.00,251.42 L410.11,250.87 L410.22,250.32 L410.33,249.78 L410.45,249.25 L410.56,248.72 L410.68,248.19 L410.80,247.67 L410.93,247.15 L411.05,246.63 L411.18,246.13 L411.31,245.62 L411.44,245.12 L411.58,244.62 L411.71,244.13 L411.85,243.64 L411.99,243.16 L412.14,242.67 L412.28,242.20 L412.43,241.72 L412.58,241.25 L412.74,240.79 L412.89,240.32 L413.05,239.87 L413.21,239.41 L413.37,238.96 L413.54,238.51 L413.70,238.06 L413.87,237.62 L414.05,237.18 L414.22,236.75 L414.40,236.32 L414.58,235.89 L414.76,235.46 L414.94,235.04 L415.13,234.62 L415.32,234.20 L415.51,233.79 L415.71,233.38 L415.91,232.97 L416.11,232.56 L416.31,232.16 L416.52,231.76 L416.72,231.37 L416.93,230.97 L417.15,230.58 L417.36,230.19 L417.58,229.81 L417.81,229.42 L418.03,229.04 L418.26,228.66 L418.49,228.29 L418.72,227.92 L418.96,227.55 L419.19,227.18 L419.44,226.81 L419.68,226.45 L419.93,226.09 L420.18,225.73 L420.43,225.38 L420.68,225.02 L420.94,224.67 L421.20,224.32 L421.47,223.98 L421.74,223.63 L422.01,223.29 L422.28,222.95 L422.56,222.61 L422.84,222.27 L423.12,221.94 L423.40,221.61 L423.69,221.28 L423.98,220.95 L424.28,220.63 L424.58,220.30 L424.88,219.98 L425.18,219.66 L425.49,219.35 L425.80,219.03 L426.11,218.72 L426.43,218.41 L426.75,218.10 L427.07,217.79 L427.40,217.48 L427.73,217.18 L428.06,216.88 L428.40,216.58 L428.74,216.28 L429.08,215.98 L429.42,215.69 L429.77,215.40 L430.13,215.11 L430.48,214.82 L430.84,214.53 L431.21,214.24 L431.57,213.96 L431.94,213.68 L432.32,213.39 L432.69,213.12 L433.07,212.84 L433.46,212.56 L433.84,212.29 L434.23,212.01 L434.63,211.74 L435.03,211.47 L435.43,211.21 L435.83,210.94 L436.24,210.67 L436.66,210.41 L437.07,210.15 L437.49,209.89 L437.91,209.63 L438.34,209.37 L438.77,209.12 L439.21,208.86 L439.65,208.61 L440.09,208.36 L440.53,208.11 L440.98,207.86 L441.44,207.61 L441.89,207.36 L442.35,207.12 L442.82,206.88 L443.29,206.64 L443.76,206.39 L444.24,206.16 L444.72,205.92 L445.20,205.68 L445.69,205.45 L446.18,205.21 L446.68,204.98 L447.18,204.75 L447.69,204.52 L448.19,204.29 L448.71,204.06 L449.22,203.84 L449.74,203.61 L450.27,203.39 L450.80,203.17 L451.33,202.95 L451.87,202.73 L452.41,202.51" stroke="#3b6fc4" stroke-width="1.25" fill="none" stroke-linejoin="round"/>
<path d="M311.10,223.51 L312.21,223.66 L313.32,223.80 L314.41,223.95 L315.50,224.09 L316.57,224.23 L317.64,224.36 L318.71,224.50 L319.76,224.63 L320.80,224.76 L321.84,224.89 L322.87,225.02 L323.89,225.14 L324.90,225.27 L325.90,225.39 L326.90,225.52 L327.88,225.64 L328.86,225.76 L329.83,225.88 L330.80,225.99 L331.75,226.11 L332.70,226.23 L333.64,226.34 L334.57,226.46 L335.49,226.57 L336.41,226.68 L337.32,226.79 L338.22,226.91 L339.11,227.02 L339.99,227.13 L340.87,227.24 L341.74,227.35 L342.60,227.46 L343.46,227.57 L344.31,227.68 L345.15,227.78 L345.98,227.89 L346.80,228.00 L347.62,228.11 L348.43,228.22 L349.23,228.33 L350.03,228.44 L350.82,228.55 L351.60,228.66 L352.37,228.77 L353.14,228.88 L353.90,228.99 L354.65,229.10 L355.40,229.21 L356.14,229.32 L356.87,229.43 L357.59,229.55 L358.31,229.66 L359.02,229.78 L359.73,229.89 L360.42,230.01 L361.11,230.12 L361.80,230.24 L362.47,230.36 L363.14,230.48 L363.81,230.60 L364.47,230.72 L365.12,230.85 L365.76,230.97 L366.40,231.09 L367.03,231.22 L367.65,231.35 L368.27,231.48 L368.88,231.61 L369.49,231.74 L370.09,231.87 L370.68,232.00 L371.27,232.14 L371.85,232.28 L372.42,232.41 L372.99,232.55 L373.55,232.70 L374.11,232.84 L374.66,232.98 L375.20,233.13 L375.74,233.28 L376.27,233.43 L376.80,233.58 L377.32,233.73 L377.83,233.89 L378.34,234.05 L378.85,234.21 L379.34,234.37 L379.83,234.53 L380.32,234.69 L380.80,234.86 L381.27,235.03 L381.74,235.20 L382.21,235.38 L382.66,235.55 L383.12,235.73 L383.56,235.91 L384.00,236.09 L384.44,236.28 L384.87,236.47 L385.29,236.66 L385.71,236.85 L386.13,237.04 L386.54,237.24 L386.94,237.44 L387.34,237.64 L387.73,237.85 L388.12,238.06 L388.51,238.27 L388.89,238.48 L389.26,238.70 L389.63,238.92 L389.99,239.14 L390.35,239.36 L390.70,239.59 L391.05,239.82 L391.39,240.05 L391.73,240.29 L392.07,240.53 L392.40,240.77 L392.72,241.02 L393.04,241.27 L393.35,241.52 L393.66,241.78 L393.97,242.04 L394.27,242.30 L394.57,242.57 L394.86,242.84 L395.14,243.12 L395.43,243.40 L395.70,243.68 L395.98,243.96 L396.24,244.25 L396.51,244.55 L396.77,244.85 L397.02,245.15 L397.27,245.46 L397.52,245.77 L397.76,246.08 L398.00,246.40 L398.23,246.73 L398.46,247.06 L398.68,247.39 L398.90,247.73 L399.12,248.08 L399.33,248.43 L399.53,248.79 L399.74,249.15 L399.93,249.52 L400.13,249.90 L400.32,250.28 L400.50,250.68 L400.69,251.07 L400.86,251.48 L401.04,251.90 L401.21,252.32 L401.37,252.76 L401.53,253.21 L401.69,253.67 L401.84,254.15 L401.99,254.65 L402.14,255.17 L402.28,255.72 L402.42,256.30 L402.55,256.94 L402.69,257.67 L402.81,258.58 L402.94,260.06 L403.06,260.51 L403.17,259.83 L403.40,259.85 L403.50,260.04 L403.61,260.28 L403.71,260.56 L403.80,260.88 L403.90,261.21 L403.99,261.57 L404.08,261.95 L404.16,262.34 L404.24,262.74 L404.32,263.16 L404.40,263.59 L404.47,264.04 L404.54,264.49 L404.61,264.96 L404.68,265.44 L404.74,265.93 L404.80,266.43 L404.86,266.94 L404.92,267.46 L404.97,267.99 L405.02,268.53 L405.07,269.08 L405.12,269.65 L405.17,270.23 L405.21,270.81 L405.25,271.41 L405.29,272.02 L405.33,272.65 L405.37,273.28 L405.41,273.93 L405.44,274.59 L405.47,275.27 L405.50,275.96 L405.53,276.66 L405.56,277.38 L406.00,278.00 L406.37,277.76 L406.39,277.33 L406.42,276.88 L406.44,276.44 L406.47,276.00 L406.49,275.55 L406.52,275.10 L406.55,274.64 L406.58,274.18 L406.61,273.73 L406.64,273.26 L406.67,272.80 L406.70,272.33 L406.74,271.86 L406.77,271.39 L406.81,270.92 L406.84,270.45 L406.88,269.97 L406.92,269.49 L406.96,269.01 L407.01,268.53 L407.05,268.05 L407.09,267.56 L407.14,267.08 L407.19,266.59 L407.23,266.10 L407.28,265.62 L407.33,265.13 L407.38,264.64 L407.44,264.15 L407.49,263.66 L407.55,263.17 L407.60,262.68 L407.66,262.19 L407.72,261.70 L407.78,261.21 L407.84,260.72 L407.91,260.23 L407.97,259.74 L408.04,259.25 L408.11,258.76 L408.18,258.28 L408.25,257.79 L408.32,257.31 L408.39,256.82 L408.47,256.34 L408.54,255.86 L408.62,255.38 L408.70,254.90 L408.78,254.42 L408.86,253.94 L408.95,253.47 L409.03,252.99 L409.12,252.52 L409.21,252.05 L409.30,251.58 L409.39,251.11 L409.49,250.65 L409.58,250.18 L409.68,249.72 L409.78,249.26 L409.88,248.80 L409.98,248.34 L410.08,247.89 L410.19,247.43 L410.30,246.98 L410.41,246.53 L410.52,246.08 L410.63,245.64 L410.74,245.19 L410.86,244.75 L410.98,244.31 L411.10,243.87 L411.22,243.44 L411.34,243.01 L411.47,242.57 L411.59,242.14 L411.72,241.72 L411.85,241.29 L411.99,240.87 L412.12,240.45 L412.26,240.03 L412.40,239.61 L412.54,239.19 L412.68,238.78 L412.82,238.37 L412.97,237.96 L413.12,237.56 L413.27,237.15 L413.42,236.75 L413.58,236.35 L413.74,235.95 L413.90,235.55 L414.06,235.16 L414.22,234.77 L414.39,234.38 L414.55,233.99 L414.72,233.60 L414.90,233.22 L415.07,232.84 L415.25,232.46 L415.43,232.08 L415.61,231.70 L415.79,231.33 L415.98,230.96 L416.17,230.59 L416.36,230.22 L416.55,229.85 L416.75,229.49 L416.95,229.13 L417.15,228.76 L417.35,228.41 L417.56,228.05 L417.76,227.70 L417.98,227.34 L418.19,226.99 L418.40,226.64 L418.62,226.30 L418.84,225.95 L419.07,225.61 L419.29,225.27 L419.52,224.93 L419.75,224.59 L419.99,224.25 L420.22,223.92 L420.46,223.59 L420.70,223.26 L420.95,222.93 L421.20,222.60 L421.45,222.28 L421.70,221.95 L421.96,221.63 L422.21,221.31 L422.48,220.99 L422.74,220.68 L423.01,220.36 L423.28,220.05 L423.55,219.74 L423.83,219.43 L424.11,219.12 L424.39,218.81 L424.67,218.51 L424.96,218.20 L425.25,217.90 L425.54,217.60 L425.84,217.30 L426.14,217.00 L426.44,216.71 L426.75,216.42 L427.06,216.12 L427.37,215.83 L427.69,215.54 L428.01,215.26 L428.33,214.97 L428.65,214.68 L428.98,214.40 L429.31,214.12 L429.65,213.84 L429.98,213.56 L430.32,213.28 L430.67,213.01 L431.02,212.73 L431.37,212.46 L431.72,212.19 L432.08,211.92 L432.44,211.65 L432.80,211.38 L433.17,211.11 L433.54,210.85 L433.92,210.59 L434.30,210.32 L434.68,210.06 L435.06,209.81 L435.45,209.55 L435.84,209.29 L436.24,209.04 L436.64,208.78 L437.04,208.53 L437.44,208.28 L437.85,208.03 L438.27,207.78 L438.68,207.53 L439.10,207.28 L439.53,207.04 L439.96,206.80 L440.39,206.55 L440.82,206.31 L441.26,206.07 L441.70,205.83 L442.15,205.59 L442.60,205.36 L443.05,205.12 L443.51,204.89 L443.97,204.66 L444.44,204.42 L444.91,204.19 L445.38,203.96 L445.86,203.74 L446.34,203.51 L446.82,203.28 L447.31,203.06 L447.80,202.83 L448.30,202.61 L448.80,202.39 L449.30,202.17 L449.81,201.95 L450.32,201.73 L450.84,201.51 L451.36,201.30 L451.88,201.08 L452.41,200.87" stroke="#82b5e1" stroke-width="1.25" fill="none" stroke-linejoin="round"/>
<path d="M311.10,221.10 L312.21,221.24 L313.32,221.38 L314.41,221.52 L315.50,221.66 L316.57,221.79 L317.64,221.92 L318.71,222.05 L319.76,222.18 L320.80,222.31 L321.84,222.44 L322.87,222.56 L323.89,222.69 L324.90,222.81 L325.90,222.93 L326.90,223.05 L327.88,223.17 L328.86,223.29 L329.83,223.40 L330.80,223.52 L331.75,223.63 L332.70,223.75 L333.64,223.86 L334.57,223.97 L335.49,224.08 L336.41,224.19 L337.32,224.30 L338.22,224.41 L339.11,224.52 L339.99,224.63 L340.87,224.74 L341.74,224.85 L342.60,224.96 L343.46,225.06 L344.31,225.17 L345.15,225.28 L345.98,225.38 L346.80,225.49 L347.62,225.60 L348.43,225.70 L349.23,225.81 L350.03,225.92 L350.82,226.03 L351.60,226.13 L352.37,226.24 L353.14,226.35 L353.90,226.46 L354.65,226.57 L355.40,226.67 L356.14,226.78 L356.87,226.89 L357.59,227.00 L358.31,227.12 L359.02,227.23 L359.73,227.34 L360.42,227.45 L361.11,227.57 L361.80,227.68 L362.47,227.80 L363.14,227.91 L363.81,228.03 L364.47,228.15 L365.12,228.27 L365.76,228.38 L366.40,228.51 L367.03,228.63 L367.65,228.75 L368.27,228.87 L368.88,229.00 L369.49,229.13 L370.09,229.25 L370.68,229.38 L371.27,229.51 L371.85,229.64 L372.42,229.78 L372.99,229.91 L373.55,230.04 L374.11,230.18 L374.66,230.32 L375.20,230.46 L375.74,230.60 L376.27,230.74 L376.80,230.89 L377.32,231.04 L377.83,231.18 L378.34,231.33 L378.85,231.48 L379.34,231.64 L379.83,231.79 L380.32,231.95 L380.80,232.11 L381.27,232.27 L381.74,232.43 L382.21,232.60 L382.66,232.76 L383.12,232.93 L383.56,233.10 L384.00,233.28 L384.44,233.45 L384.87,233.63 L385.29,233.81 L385.71,233.99 L386.13,234.17 L386.54,234.36 L386.94,234.55 L387.34,234.74 L387.73,234.93 L388.12,235.13 L388.51,235.33 L388.89,235.53 L389.26,235.74 L389.63,235.94 L389.99,236.15 L390.35,236.36 L390.70,236.58 L391.05,236.80 L391.39,237.02 L391.73,237.24 L392.07,237.47 L392.40,237.70 L392.72,237.93 L393.04,238.17 L393.35,238.41 L393.66,238.65 L393.97,238.90 L394.27,239.15 L394.57,239.40 L394.86,239.66 L395.14,239.92 L395.43,240.18 L395.70,240.45 L395.98,240.72 L396.24,241.00 L396.51,241.28 L396.77,241.57 L397.02,241.86 L397.27,242.15 L397.52,242.45 L397.76,242.75 L398.00,243.06 L398.23,243.38 L398.46,243.70 L398.68,244.02 L398.90,244.35 L399.12,244.69 L399.33,245.03 L399.53,245.38 L399.74,245.74 L399.93,246.11 L400.13,246.48 L400.32,246.86 L400.50,247.26 L400.69,247.66 L400.86,248.07 L401.04,248.50 L401.21,248.94 L401.37,249.39 L401.53,249.86 L401.69,250.35 L401.84,250.87 L401.99,251.42 L402.14,252.00 L402.28,252.63 L402.42,253.32 L402.55,254.11 L402.69,255.05 L402.81,256.32 L402.94,258.63 L403.06,259.04 L403.17,257.40 L403.29,256.84 L403.40,256.60 L403.61,256.53 L403.80,256.74 L403.90,256.91 L403.99,257.11 L404.08,257.34 L404.16,257.58 L404.24,257.85 L404.32,258.13 L404.40,258.43 L404.47,258.74 L404.54,259.07 L404.61,259.41 L404.68,259.77 L404.74,260.13 L404.80,260.51 L404.86,260.90 L404.92,261.30 L404.97,261.71 L405.02,262.13 L405.07,262.56 L405.12,263.00 L405.17,263.46 L405.21,263.92 L405.25,264.40 L405.29,264.88 L405.33,265.38 L405.37,265.89 L405.41,266.41 L405.44,266.94 L405.47,267.49 L405.50,268.05 L405.53,268.62 L405.56,269.20 L405.59,269.79 L405.61,270.40 L405.64,271.03 L405.66,271.66 L405.68,272.32 L405.70,272.98 L405.72,273.67 L405.74,274.37 L405.76,275.08 L405.78,275.82 L405.79,276.57 L405.81,277.35 L405.82,278.14 L405.84,278.95 L405.85,279.79 L405.86,280.65 L405.87,281.53 L405.88,282.44 L405.89,283.38 L405.90,284.34 L406.00,285.00 L406.19,284.75 L406.20,284.17 L406.22,283.60 L406.24,283.03 L406.25,282.46 L406.27,281.89 L406.29,281.33 L406.31,280.77 L406.33,280.21 L406.35,279.66 L406.37,279.11 L406.39,278.55 L406.42,278.00 L406.44,277.45 L406.47,276.91 L406.49,276.36 L406.52,275.81 L406.55,275.27 L406.58,274.72 L406.61,274.18 L406.64,273.63 L406.67,273.09 L406.70,272.55 L406.74,272.01 L406.77,271.47 L406.81,270.93 L406.84,270.39 L406.88,269.85 L406.92,269.31 L406.96,268.77 L407.01,268.23 L407.05,267.70 L407.09,267.16 L407.14,266.63 L407.19,266.09 L407.23,265.56 L407.28,265.03 L407.33,264.50 L407.38,263.97 L407.44,263.44 L407.49,262.92 L407.55,262.39 L407.60,261.87 L407.66,261.34 L407.72,260.82 L407.78,260.30 L407.84,259.78 L407.91,259.27 L407.97,258.75 L408.04,258.24 L408.11,257.73 L408.18,257.22 L408.25,256.71 L408.32,256.20 L408.39,255.70 L408.47,255.20 L408.54,254.70 L408.62,254.20 L408.70,253.70 L408.78,253.21 L408.86,252.72 L408.95,252.23 L409.03,251.74 L409.12,251.26 L409.21,250.77 L409.30,250.29 L409.39,249.81 L409.49,249.34 L409.58,248.86 L409.68,248.39 L409.78,247.92 L409.88,247.45 L409.98,246.99 L410.08,246.52 L410.19,246.06 L410.30,245.60 L410.41,245.15 L410.52,244.69 L410.63,244.24 L410.74,243.79 L410.86,243.35 L410.98,242.90 L411.10,242.46 L411.22,242.02 L411.34,241.58 L411.47,241.15 L411.59,240.72 L411.72,240.28 L411.85,239.86 L411.99,239.43 L412.12,239.01 L412.26,238.59 L412.40,238.17 L412.54,237.75 L412.68,237.34 L412.82,236.92 L412.97,236.51 L413.12,236.11 L413.27,235.70 L413.42,235.30 L413.58,234.90 L413.74,234.50 L413.90,234.10 L414.06,233.71 L414.22,233.31 L414.39,232.92 L414.55,232.54 L414.72,232.15 L414.90,231.77 L415.07,231.38 L415.25,231.00 L415.43,230.63 L415.61,230.25 L415.79,229.88 L415.98,229.51 L416.17,229.14 L416.36,228.77 L416.55,228.41 L416.75,228.04 L416.95,227.68 L417.15,227.32 L417.35,226.97 L417.56,226.61 L417.76,226.26 L417.98,225.91 L418.19,225.56 L418.40,225.21 L418.62,224.86 L418.84,224.52 L419.07,224.18 L419.29,223.84 L419.52,223.50 L419.75,223.17 L419.99,222.83 L420.22,222.50 L420.46,222.17 L420.70,221.84 L420.95,221.51 L421.20,221.19 L421.45,220.86 L421.70,220.54 L421.96,220.22 L422.21,219.90 L422.48,219.59 L422.74,219.27 L423.01,218.96 L423.28,218.65 L423.55,218.34 L423.83,218.03 L424.11,217.72 L424.39,217.42 L424.67,217.11 L424.96,216.81 L425.25,216.51 L425.54,216.21 L425.84,215.91 L426.14,215.62 L426.44,215.33 L426.75,215.03 L427.06,214.74 L427.37,214.45 L427.69,214.16 L428.01,213.88 L428.33,213.59 L428.65,213.31 L428.98,213.03 L429.31,212.75 L429.65,212.47 L429.98,212.19 L430.32,211.91 L430.67,211.64 L431.02,211.37 L431.37,211.09 L431.72,210.82 L432.08,210.56 L432.44,210.29 L432.80,210.02 L433.17,209.76 L433.54,209.49 L433.92,209.23 L434.30,208.97 L434.68,208.71 L435.06,208.45 L435.45,208.19 L435.84,207.94 L436.24,207.68 L436.64,207.43 L437.04,207.18 L437.44,206.93 L437.85,206.68 L438.27,206.43 L438.68,206.18 L439.10,205.94 L439.53,205.69 L439.96,205.45 L440.39,205.21 L440.82,204.97 L441.26,204.73 L441.70,204.49 L442.15,204.25 L442.60,204.01 L443.05,203.78 L443.51,203.54 L443.97,203.31 L444.44,203.08 L444.91,202.85 L445.38,202.62 L445.86,202.39 L446.34,202.16 L446.82,201.94 L447.31,201.71 L447.80,201.49 L448.30,201.27 L448.80,201.04 L449.30,200.82 L449.81,200.60 L450.32,200.39 L450.84,200.17 L451.36,199.95 L451.88,199.74 L452.41,199.52" stroke="#d2e8f6" stroke-width="1.25" fill="none" stroke-linejoin="round"/>
<path d="M311.10,219.03 L312.21,219.17 L313.32,219.30 L314.41,219.44 L315.50,219.57 L316.57,219.70 L317.64,219.83 L318.71,219.96 L319.76,220.09 L320.80,220.21 L321.84,220.33 L322.87,220.46 L323.89,220.58 L324.90,220.70 L325.90,220.82 L326.90,220.93 L327.88,221.05 L328.86,221.17 L329.83,221.28 L330.80,221.39 L331.75,221.51 L332.70,221.62 L333.64,221.73 L334.57,221.84 L335.49,221.95 L336.41,222.06 L337.32,222.17 L338.22,222.28 L339.11,222.38 L339.99,222.49 L340.87,222.60 L341.74,222.70 L342.60,222.81 L343.46,222.92 L344.31,223.02 L345.15,223.13 L345.98,223.23 L346.80,223.34 L347.62,223.44 L348.43,223.55 L349.23,223.65 L350.03,223.76 L350.82,223.87 L351.60,223.97 L352.37,224.08 L353.14,224.18 L353.90,224.29 L354.65,224.40 L355.40,224.50 L356.14,224.61 L356.87,224.72 L357.59,224.83 L358.31,224.93 L359.02,225.04 L359.73,225.15 L360.42,225.26 L361.11,225.37 L361.80,225.49 L362.47,225.60 L363.14,225.71 L363.81,225.82 L364.47,225.94 L365.12,226.05 L365.76,226.17 L366.40,226.29 L367.03,226.40 L367.65,226.52 L368.27,226.64 L368.88,226.76 L369.49,226.89 L370.09,227.01 L370.68,227.13 L371.27,227.26 L371.85,227.39 L372.42,227.51 L372.99,227.64 L373.55,227.77 L374.11,227.90 L374.66,228.04 L375.20,228.17 L375.74,228.31 L376.27,228.44 L376.80,228.58 L377.32,228.72 L377.83,228.86 L378.34,229.01 L378.85,229.15 L379.34,229.30 L379.83,229.45 L380.32,229.60 L380.80,229.75 L381.27,229.90 L381.74,230.06 L382.21,230.21 L382.66,230.37 L383.12,230.53 L383.56,230.70 L384.00,230.86 L384.44,231.03 L384.87,231.20 L385.29,231.37 L385.71,231.54 L386.13,231.71 L386.54,231.89 L386.94,232.07 L387.34,232.25 L387.73,232.44 L388.12,232.62 L388.51,232.81 L388.89,233.00 L389.26,233.20 L389.63,233.39 L389.99,233.59 L390.35,233.79 L390.70,234.00 L391.05,234.20 L391.39,234.41 L391.73,234.63 L392.07,234.84 L392.40,235.06 L392.72,235.28 L393.04,235.51 L393.35,235.74 L393.66,235.97 L393.97,236.20 L394.27,236.44 L394.57,236.68 L394.86,236.93 L395.14,237.18 L395.43,237.43 L395.70,237.69 L395.98,237.95 L396.24,238.21 L396.51,238.48 L396.77,238.76 L397.02,239.03 L397.27,239.32 L397.52,239.61 L397.76,239.90 L398.00,240.20 L398.23,240.50 L398.46,240.81 L398.68,241.13 L398.90,241.45 L399.12,241.78 L399.33,242.12 L399.53,242.46 L399.74,242.82 L399.93,243.18 L400.13,243.55 L400.32,243.93 L400.50,244.32 L400.69,244.73 L400.86,245.15 L401.04,245.58 L401.21,246.03 L401.37,246.50 L401.53,246.99 L401.69,247.51 L401.84,248.06 L401.99,248.64 L402.14,249.28 L402.28,249.98 L402.42,250.76 L402.55,251.68 L402.69,252.81 L402.81,254.38 L402.94,257.40 L403.06,257.78 L403.17,255.31 L403.29,254.34 L403.40,253.81 L403.50,253.50 L403.61,253.32 L403.80,253.20 L403.99,253.29 L404.16,253.50 L404.32,253.82 L404.40,254.00 L404.47,254.21 L404.54,254.42 L404.61,254.66 L404.68,254.90 L404.74,255.16 L404.80,255.44 L404.86,255.72 L404.92,256.02 L404.97,256.32 L405.02,256.64 L405.07,256.97 L405.12,257.31 L405.17,257.65 L405.21,258.01 L405.25,258.38 L405.29,258.76 L405.33,259.15 L405.37,259.56 L405.41,259.97 L405.44,260.39 L405.47,260.82 L405.50,261.27 L405.53,261.72 L405.56,262.19 L405.59,262.67 L405.61,263.16 L405.64,263.66 L405.66,264.17 L405.68,264.70 L405.70,265.24 L405.72,265.80 L405.74,266.36 L405.76,266.95 L405.78,267.55 L405.79,268.16 L405.81,268.79 L405.82,269.44 L405.84,270.10 L405.85,270.79 L405.86,271.49 L405.87,272.22 L405.88,272.96 L405.89,273.73 L405.90,274.52 L405.91,275.34 L405.92,276.18 L405.93,277.05 L405.93,277.95 L405.94,278.89 L405.95,279.85 L405.95,280.86 L405.96,281.90 L405.96,282.98 L405.97,284.11 L405.97,285.29 L405.97,286.52 L405.98,287.81 L405.98,289.16 L405.98,290.59 L405.99,292.09 L405.99,293.67 L405.99,295.36 L405.99,297.15 L405.99,299.07 L405.99,301.13 L406.00,303.36 L406.00,305.78 L406.00,308.43 L406.00,311.36 L406.00,314.63 L406.00,318.34 L406.00,322.62 L406.00,327.67 L406.00,329.00 L406.00,327.79 L406.00,324.93 L406.00,322.37 L406.00,320.06 L406.01,317.94 L406.01,315.99 L406.01,314.18 L406.01,312.49 L406.01,310.90 L406.01,309.41 L406.02,308.00 L406.02,306.66 L406.02,305.39 L406.03,304.17 L406.03,303.01 L406.04,301.89 L406.04,300.81 L406.05,299.77 L406.05,298.77 L406.06,297.79 L406.07,296.85 L406.07,295.93 L406.08,295.04 L406.09,294.17 L406.10,293.32 L406.11,292.49 L406.12,291.68 L406.13,290.89 L406.14,290.10 L406.15,289.34 L406.16,288.58 L406.18,287.84 L406.19,287.11 L406.20,286.39 L406.22,285.68 L406.24,284.97 L406.25,284.28 L406.27,283.59 L406.29,282.91 L406.31,282.24 L406.33,281.57 L406.35,280.91 L406.37,280.26 L406.39,279.61 L406.42,278.96 L406.44,278.32 L406.47,277.69 L406.49,277.05 L406.52,276.43 L406.55,275.80 L406.58,275.18 L406.61,274.56 L406.64,273.95 L406.67,273.34 L406.70,272.73 L406.74,272.13 L406.77,271.53 L406.81,270.93 L406.84,270.33 L406.88,269.74 L406.92,269.15 L406.96,268.56 L407.01,267.98 L407.05,267.40 L407.09,266.82 L407.14,266.24 L407.19,265.67 L407.23,265.10 L407.28,264.53 L407.33,263.96 L407.38,263.40 L407.44,262.84 L407.49,262.28 L407.55,261.72 L407.60,261.17 L407.66,260.62 L407.72,260.07 L407.78,259.53 L407.84,258.98 L407.91,258.44 L407.97,257.91 L408.04,257.37 L408.11,256.84 L408.18,256.31 L408.25,255.78 L408.32,255.26 L408.39,254.74 L408.47,254.22 L408.54,253.71 L408.62,253.19 L408.70,252.68 L408.78,252.17 L408.86,251.67 L408.95,251.17 L409.03,250.67 L409.12,250.17 L409.21,249.68 L409.30,249.19 L409.39,248.70 L409.49,248.21 L409.58,247.73 L409.68,247.25 L409.78,246.77 L409.88,246.30 L409.98,245.82 L410.08,245.35 L410.19,244.89 L410.30,244.42 L410.41,243.96 L410.52,243.50 L410.63,243.05 L410.74,242.59 L410.86,242.14 L410.98,241.69 L411.10,241.25 L411.22,240.80 L411.34,240.36 L411.47,239.93 L411.59,239.49 L411.72,239.06 L411.85,238.63 L411.99,238.20 L412.12,237.77 L412.26,237.35 L412.40,236.93 L412.54,236.51 L412.68,236.10 L412.82,235.68 L412.97,235.27 L413.12,234.86 L413.27,234.46 L413.42,234.05 L413.58,233.65 L413.74,233.25 L413.90,232.85 L414.06,232.46 L414.22,232.07 L414.39,231.68 L414.55,231.29 L414.72,230.90 L414.90,230.52 L415.07,230.14 L415.25,229.76 L415.43,229.38 L415.61,229.01 L415.79,228.64 L415.98,228.27 L416.17,227.90 L416.36,227.53 L416.55,227.17 L416.75,226.81 L416.95,226.45 L417.15,226.09 L417.35,225.73 L417.56,225.38 L417.76,225.03 L417.98,224.68 L418.19,224.33 L418.40,223.98 L418.62,223.64 L418.84,223.30 L419.07,222.95 L419.29,222.62 L419.52,222.28 L419.75,221.94 L419.99,221.61 L420.22,221.28 L420.46,220.95 L420.70,220.62 L420.95,220.30 L421.20,219.97 L421.45,219.65 L421.70,219.33 L421.96,219.01 L422.21,218.70 L422.48,218.38 L422.74,218.07 L423.01,217.76 L423.28,217.45 L423.55,217.14 L423.83,216.83 L424.11,216.52 L424.39,216.22 L424.67,215.92 L424.96,215.62 L425.25,215.32 L425.54,215.02 L425.84,214.73 L426.14,214.43 L426.44,214.14 L426.75,213.85 L427.06,213.56 L427.37,213.27 L427.69,212.98 L428.01,212.70 L428.33,212.41 L428.65,212.13 L428.98,211.85 L429.31,211.57 L429.65,211.29 L429.98,211.02 L430.32,210.74 L430.67,210.47 L431.02,210.20 L431.37,209.93 L431.72,209.66 L432.08,209.39 L432.44,209.12 L432.80,208.86 L433.17,208.59 L433.54,208.33 L433.92,208.07 L434.30,207.81 L434.68,207.55 L435.06,207.29 L435.45,207.03 L435.84,206.78 L436.24,206.52 L436.64,206.27 L437.04,206.02 L437.44,205.77 L437.85,205.52 L438.27,205.27 L438.68,205.03 L439.10,204.78 L439.53,204.54 L439.96,204.29 L440.39,204.05 L440.82,203.81 L441.26,203.57 L441.70,203.33 L442.15,203.10 L442.60,202.86 L443.05,202.63 L443.51,202.39 L443.97,202.16 L444.44,201.93 L444.91,201.70 L445.38,201.47 L445.86,201.24 L446.34,201.01 L446.82,200.79 L447.31,200.56 L447.80,200.34 L448.30,200.11 L448.80,199.89 L449.30,199.67 L449.81,199.45 L450.32,199.23 L450.84,199.01 L451.36,198.80 L451.88,198.58 L452.41,198.37" stroke="#f9cc6e" stroke-width="1.25" fill="none" stroke-linejoin="round"/>
<path d="M311.10,217.13 L312.21,217.27 L313.32,217.40 L314.41,217.53 L315.50,217.66 L316.57,217.79 L317.64,217.91 L318.71,218.04 L319.76,218.16 L320.80,218.29 L321.84,218.41 L322.87,218.53 L323.89,218.65 L324.90,218.76 L325.90,218.88 L326.90,219.00 L327.88,219.11 L328.86,219.22 L329.83,219.34 L330.80,219.45 L331.75,219.56 L332.70,219.67 L333.64,219.78 L334.57,219.89 L335.49,220.00 L336.41,220.10 L337.32,220.21 L338.22,220.32 L339.11,220.42 L339.99,220.53 L340.87,220.64 L341.74,220.74 L342.60,220.85 L343.46,220.95 L344.31,221.05 L345.15,221.16 L345.98,221.26 L346.80,221.37 L347.62,221.47 L348.43,221.57 L349.23,221.68 L350.03,221.78 L350.82,221.88 L351.60,221.99 L352.37,222.09 L353.14,222.20 L353.90,222.30 L354.65,222.41 L355.40,222.51 L356.14,222.62 L356.87,222.72 L357.59,222.83 L358.31,222.93 L359.02,223.04 L359.73,223.15 L360.42,223.26 L361.11,223.36 L361.80,223.47 L362.47,223.58 L363.14,223.69 L363.81,223.80 L364.47,223.91 L365.12,224.03 L365.76,224.14 L366.40,224.25 L367.03,224.37 L367.65,224.48 L368.27,224.60 L368.88,224.72 L369.49,224.83 L370.09,224.95 L370.68,225.07 L371.27,225.20 L371.85,225.32 L372.42,225.44 L372.99,225.56 L373.55,225.69 L374.11,225.82 L374.66,225.95 L375.20,226.07 L375.74,226.20 L376.27,226.34 L376.80,226.47 L377.32,226.60 L377.83,226.74 L378.34,226.88 L378.85,227.02 L379.34,227.16 L379.83,227.30 L380.32,227.44 L380.80,227.59 L381.27,227.73 L381.74,227.88 L382.21,228.03 L382.66,228.18 L383.12,228.33 L383.56,228.49 L384.00,228.65 L384.44,228.80 L384.87,228.97 L385.29,229.13 L385.71,229.29 L386.13,229.46 L386.54,229.63 L386.94,229.80 L387.34,229.97 L387.73,230.15 L388.12,230.32 L388.51,230.50 L388.89,230.69 L389.26,230.87 L389.63,231.06 L389.99,231.25 L390.35,231.44 L390.70,231.63 L391.05,231.83 L391.39,232.03 L391.73,232.23 L392.07,232.44 L392.40,232.64 L392.72,232.86 L393.04,233.07 L393.35,233.29 L393.66,233.51 L393.97,233.73 L394.27,233.96 L394.57,234.19 L394.86,234.42 L395.14,234.66 L395.43,234.91 L395.70,235.15 L395.98,235.40 L396.24,235.66 L396.51,235.92 L396.77,236.18 L397.02,236.45 L397.27,236.72 L397.52,237.00 L397.76,237.28 L398.00,237.57 L398.23,237.87 L398.46,238.17 L398.68,238.48 L398.90,238.79 L399.12,239.12 L399.33,239.45 L399.53,239.79 L399.74,240.14 L399.93,240.49 L400.13,240.86 L400.32,241.24 L400.50,241.64 L400.69,242.04 L400.86,242.47 L401.04,242.91 L401.21,243.37 L401.37,243.85 L401.53,244.36 L401.69,244.90 L401.84,245.48 L401.99,246.10 L402.14,246.79 L402.28,247.55 L402.42,248.42 L402.55,249.45 L402.69,250.75 L402.81,252.60 L402.94,256.27 L403.06,256.63 L403.17,253.40 L403.29,252.05 L403.40,251.26 L403.50,250.74 L403.61,250.38 L403.71,250.13 L403.80,249.96 L403.99,249.78 L404.16,249.77 L404.32,249.86 L404.47,250.05 L404.61,250.30 L404.74,250.61 L404.80,250.79 L404.86,250.98 L404.92,251.18 L404.97,251.39 L405.02,251.61 L405.07,251.84 L405.12,252.08 L405.17,252.34 L405.21,252.60 L405.25,252.87 L405.29,253.15 L405.33,253.45 L405.37,253.75 L405.41,254.06 L405.44,254.38 L405.47,254.71 L405.50,255.05 L405.53,255.40 L405.56,255.76 L405.59,256.13 L405.61,256.51 L405.64,256.90 L405.66,257.31 L405.68,257.72 L405.70,258.14 L405.72,258.58 L405.74,259.03 L405.76,259.49 L405.78,259.96 L405.79,260.45 L405.81,260.95 L405.82,261.46 L405.84,261.99 L405.85,262.54 L405.86,263.10 L405.87,263.68 L405.88,264.27 L405.89,264.89 L405.90,265.52 L405.91,266.17 L405.92,266.85 L405.93,267.55 L405.93,268.27 L405.94,269.02 L405.95,269.80 L405.95,270.60 L405.96,271.44 L405.96,272.31 L405.97,273.22 L405.97,274.17 L405.97,275.16 L405.98,276.20 L405.98,277.29 L405.98,278.43 L405.99,279.64 L405.99,280.92 L405.99,282.28 L405.99,283.73 L405.99,285.28 L405.99,286.94 L406.00,288.73 L406.00,290.69 L406.00,292.82 L406.00,295.19 L406.00,297.83 L406.00,300.00 L406.08,298.80 L406.09,297.74 L406.10,296.71 L406.11,295.70 L406.12,294.72 L406.13,293.77 L406.14,292.83 L406.15,291.91 L406.16,291.01 L406.18,290.13 L406.19,289.27 L406.20,288.42 L406.22,287.58 L406.24,286.76 L406.25,285.95 L406.27,285.15 L406.29,284.36 L406.31,283.58 L406.33,282.82 L406.35,282.06 L406.37,281.31 L406.39,280.57 L406.42,279.84 L406.44,279.12 L406.47,278.40 L406.49,277.69 L406.52,276.99 L406.55,276.29 L406.58,275.60 L406.61,274.92 L406.64,274.24 L406.67,273.57 L406.70,272.90 L406.74,272.24 L406.77,271.58 L406.81,270.93 L406.84,270.29 L406.88,269.64 L406.92,269.01 L406.96,268.37 L407.01,267.75 L407.05,267.12 L407.09,266.50 L407.14,265.89 L407.19,265.28 L407.23,264.67 L407.28,264.07 L407.33,263.47 L407.38,262.87 L407.44,262.28 L407.49,261.69 L407.55,261.11 L407.60,260.53 L407.66,259.96 L407.72,259.38 L407.78,258.81 L407.84,258.25 L407.91,257.69 L407.97,257.13 L408.04,256.58 L408.11,256.03 L408.18,255.48 L408.25,254.94 L408.32,254.39 L408.39,253.86 L408.47,253.32 L408.54,252.79 L408.62,252.27 L408.70,251.74 L408.78,251.23 L408.86,250.71 L408.95,250.20 L409.03,249.69 L409.12,249.18 L409.21,248.67 L409.30,248.17 L409.39,247.68 L409.49,247.18 L409.58,246.69 L409.68,246.20 L409.78,245.72 L409.88,245.24 L409.98,244.76 L410.08,244.28 L410.19,243.81 L410.30,243.34 L410.41,242.88 L410.52,242.41 L410.63,241.95 L410.74,241.49 L410.86,241.04 L410.98,240.59 L411.10,240.14 L411.22,239.69 L411.34,239.25 L411.47,238.81 L411.59,238.37 L411.72,237.93 L411.85,237.50 L411.99,237.07 L412.12,236.64 L412.26,236.22 L412.40,235.80 L412.54,235.38 L412.68,234.96 L412.82,234.54 L412.97,234.13 L413.12,233.72 L413.27,233.32 L413.42,232.91 L413.58,232.51 L413.74,232.11 L413.90,231.71 L414.06,231.32 L414.22,230.93 L414.39,230.54 L414.55,230.15 L414.72,229.76 L414.90,229.38 L415.07,229.00 L415.25,228.62 L415.43,228.24 L415.61,227.87 L415.79,227.50 L415.98,227.13 L416.17,226.76 L416.36,226.40 L416.55,226.03 L416.75,225.67 L416.95,225.31 L417.15,224.96 L417.35,224.60 L417.56,224.25 L417.76,223.90 L417.98,223.55 L418.19,223.20 L418.40,222.86 L418.62,222.51 L418.84,222.17 L419.07,221.83 L419.29,221.49 L419.52,221.16 L419.75,220.83 L419.99,220.49 L420.22,220.16 L420.46,219.84 L420.70,219.51 L420.95,219.19 L421.20,218.86 L421.45,218.54 L421.70,218.22 L421.96,217.91 L422.21,217.59 L422.48,217.28 L422.74,216.96 L423.01,216.65 L423.28,216.34 L423.55,216.04 L423.83,215.73 L424.11,215.43 L424.39,215.12 L424.67,214.82 L424.96,214.52 L425.25,214.23 L425.54,213.93 L425.84,213.64 L426.14,213.34 L426.44,213.05 L426.75,212.76 L427.06,212.47 L427.37,212.19 L427.69,211.90 L428.01,211.62 L428.33,211.33 L428.65,211.05 L428.98,210.77 L429.31,210.49 L429.65,210.22 L429.98,209.94 L430.32,209.67 L430.67,209.40 L431.02,209.12 L431.37,208.85 L431.72,208.59 L432.08,208.32 L432.44,208.05 L432.80,207.79 L433.17,207.52 L433.54,207.26 L433.92,207.00 L434.30,206.74 L434.68,206.48 L435.06,206.23 L435.45,205.97 L435.84,205.72 L436.24,205.46 L436.64,205.21 L437.04,204.96 L437.44,204.71 L437.85,204.46 L438.27,204.21 L438.68,203.97 L439.10,203.72 L439.53,203.48 L439.96,203.24 L440.39,202.99 L440.82,202.75 L441.26,202.52 L441.70,202.28 L442.15,202.04 L442.60,201.80 L443.05,201.57 L443.51,201.34 L443.97,201.10 L444.44,200.87 L444.91,200.64 L445.38,200.41 L445.86,200.18 L446.34,199.96 L446.82,199.73 L447.31,199.50 L447.80,199.28 L448.30,199.06 L448.80,198.83 L449.30,198.61 L449.81,198.39 L450.32,198.17 L450.84,197.96 L451.36,197.74 L451.88,197.52 L452.41,197.31" stroke="#f3915a" stroke-width="1.25" fill="none" stroke-linejoin="round"/>
<path d="M311.10,215.24 L312.21,215.37 L313.32,215.50 L314.41,215.62 L315.50,215.75 L316.57,215.87 L317.64,216.00 L318.71,216.12 L319.76,216.24 L320.80,216.36 L321.84,216.48 L322.87,216.60 L323.89,216.71 L324.90,216.83 L325.90,216.94 L326.90,217.06 L327.88,217.17 L328.86,217.28 L329.83,217.39 L330.80,217.50 L331.75,217.61 L332.70,217.72 L333.64,217.83 L334.57,217.94 L335.49,218.04 L336.41,218.15 L337.32,218.25 L338.22,218.36 L339.11,218.46 L339.99,218.57 L340.87,218.67 L341.74,218.78 L342.60,218.88 L343.46,218.98 L344.31,219.09 L345.15,219.19 L345.98,219.29 L346.80,219.39 L347.62,219.50 L348.43,219.60 L349.23,219.70 L350.03,219.80 L350.82,219.90 L351.60,220.01 L352.37,220.11 L353.14,220.21 L353.90,220.31 L354.65,220.42 L355.40,220.52 L356.14,220.62 L356.87,220.73 L357.59,220.83 L358.31,220.93 L359.02,221.04 L359.73,221.14 L360.42,221.25 L361.11,221.35 L361.80,221.46 L362.47,221.57 L363.14,221.67 L363.81,221.78 L364.47,221.89 L365.12,222.00 L365.76,222.11 L366.40,222.22 L367.03,222.33 L367.65,222.44 L368.27,222.56 L368.88,222.67 L369.49,222.78 L370.09,222.90 L370.68,223.01 L371.27,223.13 L371.85,223.25 L372.42,223.37 L372.99,223.49 L373.55,223.61 L374.11,223.73 L374.66,223.85 L375.20,223.98 L375.74,224.10 L376.27,224.23 L376.80,224.36 L377.32,224.48 L377.83,224.61 L378.34,224.75 L378.85,224.88 L379.34,225.01 L379.83,225.15 L380.32,225.28 L380.80,225.42 L381.27,225.56 L381.74,225.70 L382.21,225.85 L382.66,225.99 L383.12,226.14 L383.56,226.28 L384.00,226.43 L384.44,226.58 L384.87,226.74 L385.29,226.89 L385.71,227.05 L386.13,227.20 L386.54,227.36 L386.94,227.53 L387.34,227.69 L387.73,227.86 L388.12,228.02 L388.51,228.20 L388.89,228.37 L389.26,228.54 L389.63,228.72 L389.99,228.90 L390.35,229.08 L390.70,229.27 L391.05,229.45 L391.39,229.64 L391.73,229.83 L392.07,230.03 L392.40,230.23 L392.72,230.43 L393.04,230.63 L393.35,230.84 L393.66,231.05 L393.97,231.26 L394.27,231.48 L394.57,231.70 L394.86,231.92 L395.14,232.15 L395.43,232.38 L395.70,232.62 L395.98,232.86 L396.24,233.10 L396.51,233.35 L396.77,233.60 L397.02,233.86 L397.27,234.12 L397.52,234.39 L397.76,234.67 L398.00,234.95 L398.23,235.23 L398.46,235.53 L398.68,235.83 L398.90,236.14 L399.12,236.45 L399.33,236.78 L399.53,237.11 L399.74,237.46 L399.93,237.81 L400.13,238.18 L400.32,238.56 L400.50,238.95 L400.69,239.36 L400.86,239.79 L401.04,240.24 L401.21,240.71 L401.37,241.20 L401.53,241.73 L401.69,242.29 L401.84,242.90 L401.99,243.56 L402.14,244.30 L402.28,245.12 L402.42,246.08 L402.55,247.22 L402.69,248.69 L402.81,250.82 L402.94,255.14 L403.06,255.47 L403.17,251.49 L403.29,249.76 L403.40,248.70 L403.50,247.97 L403.61,247.43 L403.71,247.02 L403.80,246.71 L403.90,246.47 L403.99,246.28 L404.16,246.03 L404.32,245.91 L404.47,245.89 L404.68,245.99 L404.86,246.23 L404.97,246.45 L405.07,246.71 L405.17,247.02 L405.21,247.18 L405.25,247.36 L405.29,247.54 L405.33,247.74 L405.37,247.94 L405.41,248.15 L405.44,248.37 L405.47,248.60 L405.50,248.84 L405.53,249.08 L405.56,249.33 L405.59,249.60 L405.61,249.87 L405.64,250.15 L405.66,250.44 L405.68,250.74 L405.70,251.05 L405.72,251.36 L405.74,251.69 L405.76,252.03 L405.78,252.38 L405.79,252.74 L405.81,253.11 L405.82,253.49 L405.84,253.88 L405.85,254.29 L405.86,254.70 L405.87,255.14 L405.88,255.58 L405.89,256.04 L405.90,256.52 L405.91,257.01 L405.92,257.52 L405.93,258.04 L405.93,258.59 L405.94,259.15 L405.95,259.74 L405.95,260.35 L405.96,260.98 L405.96,261.64 L405.97,262.33 L405.97,263.05 L405.97,263.80 L405.98,264.59 L405.98,265.41 L405.98,266.28 L405.99,267.20 L405.99,268.17 L405.99,269.21 L405.99,270.31 L405.99,271.48 L405.99,272.75 L406.00,274.11 L406.00,275.60 L406.00,277.22 L406.00,279.02 L406.00,281.03 L406.00,283.31 L406.00,285.93 L406.00,289.04 L406.00,292.81 L406.00,296.00 L406.14,295.55 L406.15,294.49 L406.16,293.44 L406.18,292.42 L406.19,291.42 L406.20,290.44 L406.22,289.48 L406.24,288.54 L406.25,287.61 L406.27,286.70 L406.29,285.81 L406.31,284.93 L406.33,284.06 L406.35,283.21 L406.37,282.37 L406.39,281.54 L406.42,280.72 L406.44,279.91 L406.47,279.11 L406.49,278.33 L406.52,277.55 L406.55,276.78 L406.58,276.02 L406.61,275.27 L406.64,274.53 L406.67,273.80 L406.70,273.07 L406.74,272.35 L406.77,271.64 L406.81,270.94 L406.84,270.24 L406.88,269.55 L406.92,268.86 L406.96,268.19 L407.01,267.51 L407.05,266.85 L407.09,266.19 L407.14,265.53 L407.19,264.89 L407.23,264.24 L407.28,263.61 L407.33,262.98 L407.38,262.35 L407.44,261.73 L407.49,261.11 L407.55,260.50 L407.60,259.89 L407.66,259.29 L407.72,258.70 L407.78,258.10 L407.84,257.52 L407.91,256.93 L407.97,256.36 L408.04,255.78 L408.11,255.21 L408.18,254.65 L408.25,254.09 L408.32,253.53 L408.39,252.98 L408.47,252.43 L408.54,251.88 L408.62,251.34 L408.70,250.81 L408.78,250.28 L408.86,249.75 L408.95,249.22 L409.03,248.70 L409.12,248.18 L409.21,247.67 L409.30,247.16 L409.39,246.66 L409.49,246.15 L409.58,245.65 L409.68,245.16 L409.78,244.67 L409.88,244.18 L409.98,243.69 L410.08,243.21 L410.19,242.73 L410.30,242.26 L410.41,241.79 L410.52,241.32 L410.63,240.85 L410.74,240.39 L410.86,239.93 L410.98,239.48 L411.10,239.03 L411.22,238.58 L411.34,238.13 L411.47,237.69 L411.59,237.24 L411.72,236.81 L411.85,236.37 L411.99,235.94 L412.12,235.51 L412.26,235.08 L412.40,234.66 L412.54,234.24 L412.68,233.82 L412.82,233.41 L412.97,232.99 L413.12,232.58 L413.27,232.18 L413.42,231.77 L413.58,231.37 L413.74,230.97 L413.90,230.57 L414.06,230.18 L414.22,229.78 L414.39,229.39 L414.55,229.01 L414.72,228.62 L414.90,228.24 L415.07,227.86 L415.25,227.48 L415.43,227.11 L415.61,226.73 L415.79,226.36 L415.98,225.99 L416.17,225.62 L416.36,225.26 L416.55,224.90 L416.75,224.54 L416.95,224.18 L417.15,223.82 L417.35,223.47 L417.56,223.12 L417.76,222.77 L417.98,222.42 L418.19,222.07 L418.40,221.73 L418.62,221.39 L418.84,221.05 L419.07,220.71 L419.29,220.37 L419.52,220.04 L419.75,219.71 L419.99,219.38 L420.22,219.05 L420.46,218.72 L420.70,218.40 L420.95,218.07 L421.20,217.75 L421.45,217.43 L421.70,217.11 L421.96,216.80 L422.21,216.48 L422.48,216.17 L422.74,215.86 L423.01,215.55 L423.28,215.24 L423.55,214.94 L423.83,214.63 L424.11,214.33 L424.39,214.03 L424.67,213.73 L424.96,213.43 L425.25,213.13 L425.54,212.84 L425.84,212.55 L426.14,212.25 L426.44,211.96 L426.75,211.68 L427.06,211.39 L427.37,211.10 L427.69,210.82 L428.01,210.53 L428.33,210.25 L428.65,209.97 L428.98,209.69 L429.31,209.42 L429.65,209.14 L429.98,208.87 L430.32,208.59 L430.67,208.32 L431.02,208.05 L431.37,207.78 L431.72,207.51 L432.08,207.25 L432.44,206.98 L432.80,206.72 L433.17,206.46 L433.54,206.19 L433.92,205.93 L434.30,205.68 L434.68,205.42 L435.06,205.16 L435.45,204.91 L435.84,204.65 L436.24,204.40 L436.64,204.15 L437.04,203.90 L437.44,203.65 L437.85,203.40 L438.27,203.15 L438.68,202.91 L439.10,202.66 L439.53,202.42 L439.96,202.18 L440.39,201.94 L440.82,201.70 L441.26,201.46 L441.70,201.22 L442.15,200.98 L442.60,200.75 L443.05,200.51 L443.51,200.28 L443.97,200.05 L444.44,199.82 L444.91,199.58 L445.38,199.36 L445.86,199.13 L446.34,198.90 L446.82,198.67 L447.31,198.45 L447.80,198.22 L448.30,198.00 L448.80,197.78 L449.30,197.56 L449.81,197.34 L450.32,197.12 L450.84,196.90 L451.36,196.68 L451.88,196.46 L452.41,196.25" stroke="#de3a2e" stroke-width="1.25" fill="none" stroke-linejoin="round"/>
<path d="M311.10,209.20 L312.16,209.31 L313.22,209.43 L314.26,209.54 L315.30,209.65 L316.33,209.76 L317.35,209.87 L318.36,209.98 L319.37,210.08 L320.37,210.19 L321.36,210.30 L322.34,210.40 L323.31,210.50 L324.28,210.61 L325.23,210.71 L326.19,210.81 L327.13,210.91 L328.06,211.01 L328.99,211.12 L329.91,211.21 L330.82,211.31 L331.73,211.41 L332.62,211.51 L333.51,211.61 L334.40,211.70 L335.27,211.80 L336.14,211.90 L337.00,211.99 L337.85,212.09 L338.69,212.18 L339.53,212.28 L340.36,212.37 L341.19,212.46 L342.00,212.56 L342.81,212.65 L343.61,212.74 L344.41,212.83 L345.20,212.93 L345.98,213.02 L346.75,213.11 L347.52,213.20 L348.28,213.29 L349.03,213.38 L349.78,213.47 L350.51,213.56 L351.25,213.65 L351.97,213.74 L352.69,213.84 L353.40,213.93 L354.11,214.02 L354.81,214.11 L355.50,214.20 L356.18,214.29 L356.86,214.37 L357.54,214.46 L358.20,214.55 L358.86,214.64 L359.51,214.73 L360.16,214.82 L360.80,214.91 L361.44,215.00 L362.06,215.10 L362.68,215.19 L363.30,215.28 L363.91,215.37 L364.51,215.46 L365.11,215.55 L365.70,215.64 L366.28,215.73 L366.86,215.82 L367.43,215.91 L368.00,216.01 L368.56,216.10 L369.11,216.19 L369.66,216.28 L370.21,216.38 L370.74,216.47 L371.27,216.56 L371.80,216.66 L372.32,216.75 L372.83,216.85 L373.34,216.94 L373.84,217.04 L374.34,217.13 L374.83,217.23 L375.32,217.32 L375.80,217.42 L376.27,217.52 L376.74,217.62 L377.20,217.72 L377.66,217.81 L378.12,217.91 L378.56,218.01 L379.01,218.11 L379.44,218.21 L379.88,218.32 L380.30,218.42 L380.72,218.52 L381.14,218.62 L381.55,218.73 L381.96,218.83 L382.36,218.93 L382.76,219.04 L383.15,219.15 L383.54,219.25 L383.92,219.36 L384.30,219.47 L384.67,219.58 L385.04,219.69 L385.40,219.80 L385.76,219.91 L386.11,220.02 L386.46,220.13 L386.81,220.24 L387.15,220.36 L387.48,220.47 L387.81,220.59 L388.14,220.71 L388.46,220.82 L388.78,220.94 L389.09,221.06 L389.40,221.18 L389.71,221.30 L390.01,221.42 L390.31,221.54 L390.60,221.67 L390.89,221.79 L391.18,221.92 L391.46,222.04 L391.74,222.17 L392.01,222.30 L392.28,222.43 L392.55,222.56 L392.81,222.69 L393.07,222.83 L393.33,222.96 L393.58,223.10 L393.83,223.23 L394.08,223.37 L394.32,223.51 L394.56,223.65 L394.80,223.79 L395.03,223.93 L395.26,224.08 L395.49,224.22 L395.71,224.37 L395.93,224.52 L396.15,224.66 L396.37,224.82 L396.58,224.97 L396.79,225.12 L397.00,225.28 L397.20,225.43 L397.40,225.59 L397.60,225.75 L397.80,225.91 L397.99,226.07 L398.18,226.24 L398.37,226.41 L398.55,226.57 L398.74,226.74 L398.92,226.92 L399.10,227.09 L399.27,227.26 L399.45,227.44 L399.62,227.62 L399.79,227.80 L399.95,227.98 L400.12,228.17 L400.28,228.36 L400.44,228.55 L400.59,228.74 L400.75,228.93 L400.90,229.13 L401.05,229.33 L401.20,229.53 L401.34,229.73 L401.49,229.94 L401.63,230.15 L401.77,230.36 L401.90,230.57 L402.04,230.79 L402.17,231.01 L402.30,231.23 L402.42,231.46 L402.55,231.69 L402.67,231.92 L402.79,232.15 L402.91,232.39 L403.02,232.63 L403.13,232.88 L403.25,233.13 L403.35,233.38 L403.46,233.64 L403.56,233.90 L403.66,234.16 L403.76,234.43 L403.86,234.71 L403.95,234.98 L404.04,235.27 L404.13,235.55 L404.22,235.84 L404.30,236.14 L404.38,236.44 L404.46,236.75 L404.54,237.06 L404.61,237.38 L404.68,237.71 L404.75,238.04 L404.82,238.38 L404.89,238.72 L404.95,239.07 L405.01,239.43 L405.07,239.80 L405.13,240.17 L405.18,240.55 L405.23,240.95 L405.28,241.35 L405.33,241.76 L405.38,242.18 L405.42,242.61 L405.46,243.05 L405.50,243.50 L405.54,243.96 L405.57,244.44 L405.61,244.93 L405.64,245.44 L405.67,245.96 L405.70,246.50 L405.73,247.05 L405.75,247.62 L405.78,248.21 L405.80,248.82 L405.82,249.46 L405.84,250.12 L405.86,250.80 L405.87,251.51 L405.89,252.26 L405.90,253.03 L405.91,253.84 L405.93,254.69 L405.94,255.59 L405.95,256.53 L405.95,257.53 L405.96,258.59 L405.97,259.71 L405.97,260.92 L405.98,262.21 L405.98,263.60 L405.99,265.12 L405.99,266.78 L405.99,268.62 L406.00,270.67 L406.00,273.00 L406.00,275.68 L406.00,278.84 L406.00,282.70 L406.00,287.61 L406.00,294.00 L406.25,292.92 L406.27,291.66 L406.29,290.42 L406.31,289.21 L406.33,288.02 L406.35,286.86 L406.37,285.72 L406.39,284.61 L406.42,283.51 L406.44,282.44 L406.47,281.39 L406.49,280.36 L406.52,279.34 L406.55,278.34 L406.58,277.36 L406.61,276.40 L406.64,275.46 L406.67,274.52 L406.70,273.61 L406.74,272.71 L406.77,271.82 L406.81,270.95 L406.84,270.09 L406.88,269.24 L406.92,268.41 L406.96,267.58 L407.01,266.77 L407.05,265.98 L407.09,265.19 L407.14,264.41 L407.19,263.64 L407.23,262.89 L407.28,262.14 L407.33,261.41 L407.38,260.68 L407.44,259.96 L407.49,259.25 L407.55,258.55 L407.60,257.86 L407.66,257.18 L407.72,256.51 L407.78,255.84 L407.84,255.18 L407.91,254.53 L407.97,253.89 L408.04,253.25 L408.11,252.62 L408.18,252.00 L408.25,251.38 L408.32,250.77 L408.39,250.17 L408.47,249.58 L408.54,248.99 L408.62,248.40 L408.70,247.83 L408.78,247.25 L408.86,246.69 L408.95,246.13 L409.03,245.57 L409.12,245.02 L409.21,244.48 L409.30,243.94 L409.39,243.41 L409.49,242.88 L409.58,242.35 L409.68,241.83 L409.78,241.32 L409.88,240.81 L409.98,240.31 L410.08,239.81 L410.19,239.31 L410.30,238.82 L410.41,238.33 L410.52,237.85 L410.63,237.37 L410.74,236.89 L410.86,236.42 L410.98,235.95 L411.10,235.49 L411.22,235.03 L411.34,234.57 L411.47,234.12 L411.59,233.67 L411.72,233.23 L411.85,232.79 L411.99,232.35 L412.12,231.91 L412.26,231.48 L412.40,231.05 L412.54,230.63 L412.68,230.21 L412.82,229.79 L412.97,229.37 L413.12,228.96 L413.27,228.55 L413.42,228.14 L413.58,227.74 L413.74,227.34 L413.90,226.94 L414.06,226.55 L414.22,226.15 L414.39,225.76 L414.55,225.38 L414.72,224.99 L414.90,224.61 L415.07,224.23 L415.25,223.85 L415.43,223.48 L415.61,223.11 L415.79,222.74 L415.98,222.37 L416.17,222.01 L416.36,221.65 L416.55,221.29 L416.75,220.93 L416.95,220.57 L417.15,220.22 L417.35,219.87 L417.56,219.52 L417.76,219.17 L417.98,218.83 L418.19,218.49 L418.40,218.15 L418.62,217.81 L418.84,217.47 L419.07,217.14 L419.29,216.81 L419.52,216.47 L419.75,216.15 L419.99,215.82 L420.22,215.50 L420.46,215.17 L420.70,214.85 L420.95,214.53 L421.20,214.22 L421.45,213.90 L421.70,213.59 L421.96,213.27 L422.21,212.96 L422.48,212.66 L422.74,212.35 L423.01,212.04 L423.28,211.74 L423.55,211.44 L423.83,211.14 L424.11,210.84 L424.39,210.54 L424.67,210.25 L424.96,209.95 L425.25,209.66 L425.54,209.37 L425.84,209.08 L426.14,208.79 L426.44,208.50 L426.75,208.22 L427.06,207.94 L427.37,207.65 L427.69,207.37 L428.01,207.09 L428.33,206.81 L428.65,206.54 L428.98,206.26 L429.31,205.99 L429.65,205.72 L429.98,205.44 L430.32,205.17 L430.67,204.91 L431.02,204.64 L431.37,204.37 L431.72,204.11 L432.08,203.84 L432.44,203.58 L432.80,203.32 L433.17,203.06 L433.54,202.80 L433.92,202.54 L434.30,202.29 L434.68,202.03 L435.06,201.78 L435.45,201.52 L435.84,201.27 L436.24,201.02 L436.64,200.77 L437.04,200.52 L437.44,200.27 L437.85,200.03 L438.27,199.78 L438.68,199.54 L439.10,199.29 L439.53,199.05 L439.96,198.81 L440.39,198.57 L440.82,198.33 L441.26,198.09 L441.70,197.86 L442.15,197.62 L442.60,197.39 L443.05,197.15 L443.51,196.92 L443.97,196.69 L444.44,196.45 L444.91,196.22 L445.38,195.99 L445.86,195.77 L446.34,195.54 L446.82,195.31 L447.31,195.09 L447.80,194.86 L448.30,194.64 L448.80,194.41 L449.30,194.19 L449.81,193.97 L450.32,193.75 L450.84,193.53 L451.36,193.31 L451.88,193.09 L452.41,192.88" stroke="#ad2a2a" stroke-width="1.25" fill="none" stroke-linejoin="round"/>
<rect x="298.70" y="8.00" width="164.80" height="158.20" fill="none" stroke="#3a3a3a" stroke-width="1.1" />
<rect x="298.70" y="171.50" width="164.80" height="157.90" fill="none" stroke="#3a3a3a" stroke-width="1.1" />
<text x="306.30" y="20.50" font-size="10.5" text-anchor="start" fill="#2a2a2a" font-weight="normal" style="" >1.77 eV</text>
<text x="306.00" y="188.30" font-size="10.5" text-anchor="start" fill="#2a2a2a" font-weight="normal" style="" >3.1 eV</text>
<text transform="translate(266.0,86.9) rotate(-90)" font-size="10.8" text-anchor="middle" fill="#2a2a2a"><tspan font-style="italic">I</tspan> (nA)</text>
<text transform="translate(266.0,288.3) rotate(-90)" font-size="10.8" text-anchor="middle" fill="#2a2a2a"><tspan font-style="italic">I</tspan> (nA)</text>
<text x="311.10" y="345.60" font-size="10.8" text-anchor="middle" fill="#2a2a2a" font-weight="normal" style="" >-2</text>
<text x="358.00" y="345.60" font-size="10.8" text-anchor="middle" fill="#2a2a2a" font-weight="normal" style="" >-1</text>
<text x="404.90" y="345.60" font-size="10.8" text-anchor="middle" fill="#2a2a2a" font-weight="normal" style="" >0</text>
<text x="451.80" y="345.60" font-size="10.8" text-anchor="middle" fill="#2a2a2a" font-weight="normal" style="" >1</text>
<text x="381.8" y="360.4" font-size="10.8" text-anchor="middle" fill="#2a2a2a"><tspan font-style="italic">V</tspan><tspan font-size="7.5" dy="2.5">SD</tspan><tspan dy="-2.5"> (V)</tspan></text>
<text x="437.50" y="100.20" font-size="7.8" text-anchor="start" fill="#2a2a2a" font-weight="normal" style="" >W cm<tspan font-size="5.3" dy="-3">-2</tspan></text>
<line x1="417.90" y1="107.30" x2="436.50" y2="107.30" stroke="#2b4f8f" stroke-width="1.6" />
<text x="439.80" y="110.20" font-size="7.9" text-anchor="start" fill="#2a2a2a" font-weight="normal" style="" >0.29</text>
<line x1="417.90" y1="117.20" x2="436.50" y2="117.20" stroke="#6fa6d8" stroke-width="1.6" />
<text x="439.80" y="120.10" font-size="7.9" text-anchor="start" fill="#2a2a2a" font-weight="normal" style="" >0.52</text>
<line x1="417.90" y1="127.10" x2="436.50" y2="127.10" stroke="#efe3c0" stroke-width="1.6" />
<text x="439.80" y="130.00" font-size="7.9" text-anchor="start" fill="#2a2a2a" font-weight="normal" style="" >0.78</text>
<line x1="417.90" y1="137.00" x2="436.50" y2="137.00" stroke="#f2764f" stroke-width="1.6" />
<text x="439.80" y="139.90" font-size="7.9" text-anchor="start" fill="#2a2a2a" font-weight="normal" style="" >1.04</text>
<line x1="417.90" y1="146.90" x2="436.50" y2="146.90" stroke="#a8322f" stroke-width="1.6" />
<text x="439.80" y="149.80" font-size="7.9" text-anchor="start" fill="#2a2a2a" font-weight="normal" style="" >1.392</text>
<line x1="417.90" y1="156.80" x2="436.50" y2="156.80" stroke="#111" stroke-width="1.6" />
<text x="439.80" y="159.70" font-size="7.9" text-anchor="start" fill="#2a2a2a" font-weight="normal" style="" >dark</text>
<line x1="424.80" y1="250.40" x2="443.90" y2="250.40" stroke="#111" stroke-width="1.6" />
<text x="446.80" y="253.30" font-size="7.9" text-anchor="start" fill="#2a2a2a" font-weight="normal" style="" >dark</text>
<line x1="424.80" y1="260.37" x2="443.90" y2="260.37" stroke="#3b6fc4" stroke-width="1.6" />
<text x="446.80" y="263.27" font-size="7.9" text-anchor="start" fill="#2a2a2a" font-weight="normal" style="" >0.17</text>
<line x1="424.80" y1="270.34" x2="443.90" y2="270.34" stroke="#82b5e1" stroke-width="1.6" />
<text x="446.80" y="273.24" font-size="7.9" text-anchor="start" fill="#2a2a2a" font-weight="normal" style="" >0.20</text>
<line x1="424.80" y1="280.31" x2="443.90" y2="280.31" stroke="#d2e8f6" stroke-width="1.6" />
<text x="446.80" y="283.21" font-size="7.9" text-anchor="start" fill="#2a2a2a" font-weight="normal" style="" >0.23</text>
<line x1="424.80" y1="290.28" x2="443.90" y2="290.28" stroke="#f9cc6e" stroke-width="1.6" />
<text x="446.80" y="293.18" font-size="7.9" text-anchor="start" fill="#2a2a2a" font-weight="normal" style="" >0.25</text>
<line x1="424.80" y1="300.25" x2="443.90" y2="300.25" stroke="#f3915a" stroke-width="1.6" />
<text x="446.80" y="303.15" font-size="7.9" text-anchor="start" fill="#2a2a2a" font-weight="normal" style="" >0.30</text>
<line x1="424.80" y1="310.22" x2="443.90" y2="310.22" stroke="#de3a2e" stroke-width="1.6" />
<text x="446.80" y="313.12" font-size="7.9" text-anchor="start" fill="#2a2a2a" font-weight="normal" style="" >0.39</text>
<line x1="424.80" y1="320.19" x2="443.90" y2="320.19" stroke="#ad2a2a" stroke-width="1.6" />
<text x="446.80" y="323.09" font-size="7.9" text-anchor="start" fill="#2a2a2a" font-weight="normal" style="" >0.67</text>
<text x="488.20" y="11.40" font-size="13.5" text-anchor="start" fill="#111" font-weight="bold" style="" >c</text>
<line x1="532.50" y1="165.50" x2="536.00" y2="165.50" stroke="#3a3a3a" stroke-width="0.8" />
<line x1="532.50" y1="127.40" x2="534.50" y2="127.40" stroke="#3a3a3a" stroke-width="0.8" />
<line x1="532.50" y1="89.30" x2="536.00" y2="89.30" stroke="#3a3a3a" stroke-width="0.8" />
<line x1="532.50" y1="51.20" x2="534.50" y2="51.20" stroke="#3a3a3a" stroke-width="0.8" />
<line x1="532.50" y1="13.10" x2="536.00" y2="13.10" stroke="#3a3a3a" stroke-width="0.8" />
<text x="527.30" y="169.40" font-size="10.6" text-anchor="end" fill="#2a2a2a" font-weight="normal" style="" >0.00</text>
<text x="527.30" y="93.20" font-size="10.6" text-anchor="end" fill="#2a2a2a" font-weight="normal" style="" >0.05</text>
<text x="527.30" y="17.00" font-size="10.6" text-anchor="end" fill="#2a2a2a" font-weight="normal" style="" >0.10</text>
<line x1="532.70" y1="165.35" x2="532.70" y2="162.15" stroke="#3a3a3a" stroke-width="0.8" />
<line x1="568.33" y1="165.35" x2="568.33" y2="162.15" stroke="#3a3a3a" stroke-width="0.8" />
<line x1="603.95" y1="165.35" x2="603.95" y2="162.15" stroke="#3a3a3a" stroke-width="0.8" />
<line x1="639.58" y1="165.35" x2="639.58" y2="162.15" stroke="#3a3a3a" stroke-width="0.8" />
<line x1="675.20" y1="165.35" x2="675.20" y2="162.15" stroke="#3a3a3a" stroke-width="0.8" />
<line x1="532.70" y1="165.50" x2="682.70" y2="80.40" stroke="#f4a070" stroke-width="0.9" />
<line x1="532.70" y1="165.50" x2="682.70" y2="81.40" stroke="#e5552c" stroke-width="1.6" />
<line x1="532.70" y1="165.50" x2="682.70" y2="65.50" stroke="#f0b94c" stroke-width="1.0" />
<line x1="532.70" y1="165.50" x2="682.70" y2="52.00" stroke="#a9d3ef" stroke-width="1.0" />
<line x1="532.70" y1="165.50" x2="682.70" y2="40.30" stroke="#3e74c1" stroke-width="1.0" />
<line x1="532.70" y1="165.50" x2="682.70" y2="33.10" stroke="#22427f" stroke-width="1.0" />
<circle cx="542.40" cy="159.60" r="2.00" fill="#a01c1c" stroke="#701313" stroke-width="0.6" />
<circle cx="541.80" cy="158.90" r="0.80" fill="#ffffff" stroke="none" stroke-width="1" opacity="0.7"/>
<circle cx="566.70" cy="146.00" r="2.00" fill="#a01c1c" stroke="#701313" stroke-width="0.6" />
<circle cx="566.10" cy="145.30" r="0.80" fill="#ffffff" stroke="none" stroke-width="1" opacity="0.7"/>
<circle cx="578.70" cy="139.70" r="2.00" fill="#a01c1c" stroke="#701313" stroke-width="0.6" />
<circle cx="578.10" cy="139.00" r="0.80" fill="#ffffff" stroke="none" stroke-width="1" opacity="0.7"/>
<circle cx="549.50" cy="157.30" r="2.00" fill="#a01c1c" stroke="#701313" stroke-width="0.6" />
<circle cx="548.90" cy="156.60" r="0.80" fill="#ffffff" stroke="none" stroke-width="1" opacity="0.7"/>
<circle cx="549.90" cy="155.50" r="2.00" fill="#e0362c" stroke="#9c251e" stroke-width="0.6" />
<circle cx="549.30" cy="154.80" r="0.80" fill="#ffffff" stroke="none" stroke-width="1" opacity="0.7"/>
<circle cx="573.00" cy="141.90" r="2.00" fill="#e0362c" stroke="#9c251e" stroke-width="0.6" />
<circle cx="572.40" cy="141.20" r="0.80" fill="#ffffff" stroke="none" stroke-width="1" opacity="0.7"/>
<circle cx="613.70" cy="118.80" r="2.00" fill="#e0362c" stroke="#9c251e" stroke-width="0.6" />
<circle cx="613.10" cy="118.10" r="0.80" fill="#ffffff" stroke="none" stroke-width="1" opacity="0.7"/>
<circle cx="560.00" cy="151.50" r="2.00" fill="#e0362c" stroke="#9c251e" stroke-width="0.6" />
<circle cx="559.40" cy="150.80" r="0.80" fill="#ffffff" stroke="none" stroke-width="1" opacity="0.7"/>
<circle cx="559.00" cy="150.50" r="2.00" fill="#f4905d" stroke="#aa6441" stroke-width="0.6" />
<circle cx="558.40" cy="149.80" r="0.80" fill="#ffffff" stroke="none" stroke-width="1" opacity="0.7"/>
<circle cx="585.00" cy="135.80" r="2.00" fill="#f4905d" stroke="#aa6441" stroke-width="0.6" />
<circle cx="584.40" cy="135.10" r="0.80" fill="#ffffff" stroke="none" stroke-width="1" opacity="0.7"/>
<circle cx="611.50" cy="121.60" r="2.00" fill="#f4905d" stroke="#aa6441" stroke-width="0.6" />
<circle cx="610.90" cy="120.90" r="0.80" fill="#ffffff" stroke="none" stroke-width="1" opacity="0.7"/>
<circle cx="645.00" cy="101.90" r="2.00" fill="#f4905d" stroke="#aa6441" stroke-width="0.6" />
<circle cx="644.40" cy="101.20" r="0.80" fill="#ffffff" stroke="none" stroke-width="1" opacity="0.7"/>
<circle cx="671.40" cy="88.70" r="2.00" fill="#f4905d" stroke="#aa6441" stroke-width="0.6" />
<circle cx="670.80" cy="88.00" r="0.80" fill="#ffffff" stroke="none" stroke-width="1" opacity="0.7"/>
<circle cx="566.00" cy="148.00" r="2.00" fill="#f4905d" stroke="#aa6441" stroke-width="0.6" />
<circle cx="565.40" cy="147.30" r="0.80" fill="#ffffff" stroke="none" stroke-width="1" opacity="0.7"/>
<circle cx="576.40" cy="136.00" r="2.00" fill="#f0b040" stroke="#a87b2c" stroke-width="0.6" />
<circle cx="575.80" cy="135.30" r="0.80" fill="#ffffff" stroke="none" stroke-width="1" opacity="0.7"/>
<circle cx="593.40" cy="124.00" r="2.00" fill="#f0b040" stroke="#a87b2c" stroke-width="0.6" />
<circle cx="592.80" cy="123.30" r="0.80" fill="#ffffff" stroke="none" stroke-width="1" opacity="0.7"/>
<circle cx="626.20" cy="101.20" r="2.00" fill="#f0b040" stroke="#a87b2c" stroke-width="0.6" />
<circle cx="625.60" cy="100.50" r="0.80" fill="#ffffff" stroke="none" stroke-width="1" opacity="0.7"/>
<circle cx="638.20" cy="95.10" r="2.00" fill="#f0b040" stroke="#a87b2c" stroke-width="0.6" />
<circle cx="637.60" cy="94.40" r="0.80" fill="#ffffff" stroke="none" stroke-width="1" opacity="0.7"/>
<circle cx="656.00" cy="82.60" r="2.00" fill="#f0b040" stroke="#a87b2c" stroke-width="0.6" />
<circle cx="655.40" cy="81.90" r="0.80" fill="#ffffff" stroke="none" stroke-width="1" opacity="0.7"/>
<circle cx="545.00" cy="158.00" r="2.00" fill="#f0b040" stroke="#a87b2c" stroke-width="0.6" />
<circle cx="544.40" cy="157.30" r="0.80" fill="#ffffff" stroke="none" stroke-width="1" opacity="0.7"/>
<circle cx="560.00" cy="149.00" r="2.00" fill="#f0b040" stroke="#a87b2c" stroke-width="0.6" />
<circle cx="559.40" cy="148.30" r="0.80" fill="#ffffff" stroke="none" stroke-width="1" opacity="0.7"/>
<circle cx="573.00" cy="135.40" r="2.00" fill="#b3daf2" stroke="#7d98a9" stroke-width="0.6" />
<circle cx="572.40" cy="134.70" r="0.80" fill="#ffffff" stroke="none" stroke-width="1" opacity="0.7"/>
<circle cx="599.70" cy="114.30" r="2.00" fill="#b3daf2" stroke="#7d98a9" stroke-width="0.6" />
<circle cx="599.10" cy="113.60" r="0.80" fill="#ffffff" stroke="none" stroke-width="1" opacity="0.7"/>
<circle cx="619.80" cy="99.60" r="2.00" fill="#b3daf2" stroke="#7d98a9" stroke-width="0.6" />
<circle cx="619.20" cy="98.90" r="0.80" fill="#ffffff" stroke="none" stroke-width="1" opacity="0.7"/>
<circle cx="563.00" cy="143.00" r="2.00" fill="#b3daf2" stroke="#7d98a9" stroke-width="0.6" />
<circle cx="562.40" cy="142.30" r="0.80" fill="#ffffff" stroke="none" stroke-width="1" opacity="0.7"/>
<circle cx="552.00" cy="150.00" r="2.00" fill="#b3daf2" stroke="#7d98a9" stroke-width="0.6" />
<circle cx="551.40" cy="149.30" r="0.80" fill="#ffffff" stroke="none" stroke-width="1" opacity="0.7"/>
<circle cx="556.00" cy="144.20" r="2.00" fill="#477ec6" stroke="#31588a" stroke-width="0.6" />
<circle cx="555.40" cy="143.50" r="0.80" fill="#ffffff" stroke="none" stroke-width="1" opacity="0.7"/>
<circle cx="570.30" cy="130.80" r="2.00" fill="#477ec6" stroke="#31588a" stroke-width="0.6" />
<circle cx="569.70" cy="130.10" r="0.80" fill="#ffffff" stroke="none" stroke-width="1" opacity="0.7"/>
<circle cx="602.90" cy="103.00" r="2.00" fill="#477ec6" stroke="#31588a" stroke-width="0.6" />
<circle cx="602.30" cy="102.30" r="0.80" fill="#ffffff" stroke="none" stroke-width="1" opacity="0.7"/>
<circle cx="634.50" cy="79.90" r="2.00" fill="#477ec6" stroke="#31588a" stroke-width="0.6" />
<circle cx="633.90" cy="79.20" r="0.80" fill="#ffffff" stroke="none" stroke-width="1" opacity="0.7"/>
<circle cx="653.80" cy="66.10" r="2.00" fill="#477ec6" stroke="#31588a" stroke-width="0.6" />
<circle cx="653.20" cy="65.40" r="0.80" fill="#ffffff" stroke="none" stroke-width="1" opacity="0.7"/>
<circle cx="561.00" cy="140.00" r="2.00" fill="#477ec6" stroke="#31588a" stroke-width="0.6" />
<circle cx="560.40" cy="139.30" r="0.80" fill="#ffffff" stroke="none" stroke-width="1" opacity="0.7"/>
<circle cx="552.60" cy="146.70" r="2.00" fill="#1f3c78" stroke="#152a54" stroke-width="0.6" />
<circle cx="552.00" cy="146.00" r="0.80" fill="#ffffff" stroke="none" stroke-width="1" opacity="0.7"/>
<circle cx="557.20" cy="143.70" r="2.00" fill="#1f3c78" stroke="#152a54" stroke-width="0.6" />
<circle cx="556.60" cy="143.00" r="0.80" fill="#ffffff" stroke="none" stroke-width="1" opacity="0.7"/>
<circle cx="561.70" cy="138.80" r="2.00" fill="#1f3c78" stroke="#152a54" stroke-width="0.6" />
<circle cx="561.10" cy="138.10" r="0.80" fill="#ffffff" stroke="none" stroke-width="1" opacity="0.7"/>
<circle cx="568.50" cy="132.40" r="2.00" fill="#1f3c78" stroke="#152a54" stroke-width="0.6" />
<circle cx="567.90" cy="131.70" r="0.80" fill="#ffffff" stroke="none" stroke-width="1" opacity="0.7"/>
<circle cx="579.30" cy="123.80" r="2.00" fill="#1f3c78" stroke="#152a54" stroke-width="0.6" />
<circle cx="578.70" cy="123.10" r="0.80" fill="#ffffff" stroke="none" stroke-width="1" opacity="0.7"/>
<circle cx="612.60" cy="94.40" r="2.00" fill="#1f3c78" stroke="#152a54" stroke-width="0.6" />
<circle cx="612.00" cy="93.70" r="0.80" fill="#ffffff" stroke="none" stroke-width="1" opacity="0.7"/>
<circle cx="547.00" cy="151.00" r="2.00" fill="#1f3c78" stroke="#152a54" stroke-width="0.6" />
<circle cx="546.40" cy="150.30" r="0.80" fill="#ffffff" stroke="none" stroke-width="1" opacity="0.7"/>
<rect x="532.50" y="7.50" width="150.20" height="157.85" fill="none" stroke="#3a3a3a" stroke-width="1.1" />
<text x="545.3" y="17.2" font-size="10.6" fill="#2a2a2a"><tspan font-style="italic">hν</tspan> (eV)</text>
<circle cx="547.70" cy="28.90" r="2.10" fill="#a01c1c" stroke="#701313" stroke-width="0.6" />
<circle cx="547.07" cy="28.16" r="0.84" fill="#ffffff" stroke="none" stroke-width="1" opacity="0.7"/>
<text x="554.00" y="32.80" font-size="10.6" text-anchor="start" fill="#2a2a2a" font-weight="normal" style="" >1.77</text>
<circle cx="547.70" cy="41.80" r="2.10" fill="#e0362c" stroke="#9c251e" stroke-width="0.6" />
<circle cx="547.07" cy="41.06" r="0.84" fill="#ffffff" stroke="none" stroke-width="1" opacity="0.7"/>
<text x="554.00" y="45.70" font-size="10.6" text-anchor="start" fill="#2a2a2a" font-weight="normal" style="" >1.90</text>
<circle cx="547.70" cy="54.70" r="2.10" fill="#f4905d" stroke="#aa6441" stroke-width="0.6" />
<circle cx="547.07" cy="53.97" r="0.84" fill="#ffffff" stroke="none" stroke-width="1" opacity="0.7"/>
<text x="554.00" y="58.60" font-size="10.6" text-anchor="start" fill="#2a2a2a" font-weight="normal" style="" >2.07</text>
<circle cx="547.70" cy="67.60" r="2.10" fill="#f0b040" stroke="#a87b2c" stroke-width="0.6" />
<circle cx="547.07" cy="66.86" r="0.84" fill="#ffffff" stroke="none" stroke-width="1" opacity="0.7"/>
<text x="554.00" y="71.50" font-size="10.6" text-anchor="start" fill="#2a2a2a" font-weight="normal" style="" >2.25</text>
<circle cx="547.70" cy="80.50" r="2.10" fill="#b3daf2" stroke="#7d98a9" stroke-width="0.6" />
<circle cx="547.07" cy="79.77" r="0.84" fill="#ffffff" stroke="none" stroke-width="1" opacity="0.7"/>
<text x="554.00" y="84.40" font-size="10.6" text-anchor="start" fill="#2a2a2a" font-weight="normal" style="" >2.48</text>
<circle cx="547.70" cy="93.40" r="2.10" fill="#477ec6" stroke="#31588a" stroke-width="0.6" />
<circle cx="547.07" cy="92.67" r="0.84" fill="#ffffff" stroke="none" stroke-width="1" opacity="0.7"/>
<text x="554.00" y="97.30" font-size="10.6" text-anchor="start" fill="#2a2a2a" font-weight="normal" style="" >2.76</text>
<circle cx="547.70" cy="106.30" r="2.10" fill="#1f3c78" stroke="#152a54" stroke-width="0.6" />
<circle cx="547.07" cy="105.57" r="0.84" fill="#ffffff" stroke="none" stroke-width="1" opacity="0.7"/>
<text x="554.00" y="110.20" font-size="10.6" text-anchor="start" fill="#2a2a2a" font-weight="normal" style="" >3.10</text>
<text x="664.30" y="119.30" font-size="10.6" text-anchor="middle" fill="#2a2a2a" font-weight="normal" style="" >QY=1</text>
<text x="669.00" y="155.00" font-size="10.6" text-anchor="middle" fill="#2a2a2a" font-weight="normal" style="" >0 V</text>
<line x1="668.00" y1="107.20" x2="658.40" y2="97.30" stroke="#222" stroke-width="0.9" />
<polygon points="658.40,97.30 662.76,98.64 659.61,101.70" fill="#222"/>
<line x1="532.50" y1="329.20" x2="536.00" y2="329.20" stroke="#3a3a3a" stroke-width="0.8" />
<line x1="532.50" y1="314.75" x2="534.50" y2="314.75" stroke="#3a3a3a" stroke-width="0.8" />
<line x1="532.50" y1="300.30" x2="536.00" y2="300.30" stroke="#3a3a3a" stroke-width="0.8" />
<line x1="532.50" y1="285.85" x2="534.50" y2="285.85" stroke="#3a3a3a" stroke-width="0.8" />
<line x1="532.50" y1="271.40" x2="536.00" y2="271.40" stroke="#3a3a3a" stroke-width="0.8" />
<line x1="532.50" y1="256.95" x2="534.50" y2="256.95" stroke="#3a3a3a" stroke-width="0.8" />
<line x1="532.50" y1="242.50" x2="536.00" y2="242.50" stroke="#3a3a3a" stroke-width="0.8" />
<line x1="532.50" y1="228.05" x2="534.50" y2="228.05" stroke="#3a3a3a" stroke-width="0.8" />
<line x1="532.50" y1="213.60" x2="536.00" y2="213.60" stroke="#3a3a3a" stroke-width="0.8" />
<line x1="532.50" y1="199.15" x2="534.50" y2="199.15" stroke="#3a3a3a" stroke-width="0.8" />
<line x1="532.50" y1="184.70" x2="536.00" y2="184.70" stroke="#3a3a3a" stroke-width="0.8" />
<text x="527.30" y="333.10" font-size="10.6" text-anchor="end" fill="#2a2a2a" font-weight="normal" style="" >0.0</text>
<text x="527.30" y="304.20" font-size="10.6" text-anchor="end" fill="#2a2a2a" font-weight="normal" style="" >0.1</text>
<text x="527.30" y="275.30" font-size="10.6" text-anchor="end" fill="#2a2a2a" font-weight="normal" style="" >0.2</text>
<text x="527.30" y="246.40" font-size="10.6" text-anchor="end" fill="#2a2a2a" font-weight="normal" style="" >0.3</text>
<text x="527.30" y="217.50" font-size="10.6" text-anchor="end" fill="#2a2a2a" font-weight="normal" style="" >0.4</text>
<text x="527.30" y="188.60" font-size="10.6" text-anchor="end" fill="#2a2a2a" font-weight="normal" style="" >0.5</text>
<line x1="532.70" y1="329.20" x2="532.70" y2="325.70" stroke="#3a3a3a" stroke-width="0.8" />
<line x1="561.20" y1="329.20" x2="561.20" y2="327.20" stroke="#3a3a3a" stroke-width="0.8" />
<line x1="589.70" y1="329.20" x2="589.70" y2="325.70" stroke="#3a3a3a" stroke-width="0.8" />
<line x1="618.20" y1="329.20" x2="618.20" y2="327.20" stroke="#3a3a3a" stroke-width="0.8" />
<line x1="646.70" y1="329.20" x2="646.70" y2="325.70" stroke="#3a3a3a" stroke-width="0.8" />
<line x1="675.20" y1="329.20" x2="675.20" y2="327.20" stroke="#3a3a3a" stroke-width="0.8" />
<text x="532.70" y="343.40" font-size="10.6" text-anchor="middle" fill="#2a2a2a" font-weight="normal" style="" >0</text>
<text x="589.70" y="343.40" font-size="10.6" text-anchor="middle" fill="#2a2a2a" font-weight="normal" style="" >4</text>
<text x="646.70" y="343.40" font-size="10.6" text-anchor="middle" fill="#2a2a2a" font-weight="normal" style="" >8</text>
<text x="607.7" y="362.3" font-size="10.6" text-anchor="middle" fill="#2a2a2a">Absorbed photons (*10<tspan font-size="7.2" dy="-4.2">9</tspan><tspan dy="4.2"> S</tspan><tspan font-size="7.2" dy="-4.2">-1</tspan><tspan dy="4.2">)</tspan></text>
<clipPath id="cbclip"><rect x="532.6" y="171" width="150.2" height="158.3"/></clipPath>
<g clip-path="url(#cbclip)">
<line x1="532.70" y1="329.00" x2="682.80" y2="245.40" stroke="#7a1c1c" stroke-width="1.05" />
<line x1="532.70" y1="329.00" x2="682.80" y2="240.60" stroke="#f4a070" stroke-width="1.05" />
<line x1="532.70" y1="329.00" x2="682.80" y2="230.30" stroke="#e0362c" stroke-width="1.05" />
<line x1="532.70" y1="329.00" x2="682.80" y2="218.20" stroke="#f0b94c" stroke-width="1.05" />
<line x1="532.70" y1="329.00" x2="682.80" y2="200.40" stroke="#a9d3ef" stroke-width="1.05" />
<line x1="532.70" y1="326.00" x2="671.60" y2="171.00" stroke="#3e74c1" stroke-width="1.05" />
<line x1="532.70" y1="326.00" x2="646.80" y2="171.00" stroke="#22427f" stroke-width="1.05" />
<circle cx="542.20" cy="322.10" r="2.10" fill="#a01c1c" stroke="#701313" stroke-width="0.6" />
<circle cx="541.57" cy="321.37" r="0.84" fill="#ffffff" stroke="none" stroke-width="1" opacity="0.7"/>
<circle cx="550.20" cy="318.40" r="2.10" fill="#a01c1c" stroke="#701313" stroke-width="0.6" />
<circle cx="549.57" cy="317.66" r="0.84" fill="#ffffff" stroke="none" stroke-width="1" opacity="0.7"/>
<circle cx="567.00" cy="308.70" r="2.10" fill="#a01c1c" stroke="#701313" stroke-width="0.6" />
<circle cx="566.37" cy="307.96" r="0.84" fill="#ffffff" stroke="none" stroke-width="1" opacity="0.7"/>
<circle cx="578.20" cy="302.60" r="2.10" fill="#a01c1c" stroke="#701313" stroke-width="0.6" />
<circle cx="577.57" cy="301.87" r="0.84" fill="#ffffff" stroke="none" stroke-width="1" opacity="0.7"/>
<circle cx="536.00" cy="326.00" r="2.10" fill="#a01c1c" stroke="#701313" stroke-width="0.6" />
<circle cx="535.37" cy="325.26" r="0.84" fill="#ffffff" stroke="none" stroke-width="1" opacity="0.7"/>
<circle cx="558.00" cy="314.00" r="2.10" fill="#f4a070" stroke="#aa704e" stroke-width="0.6" />
<circle cx="557.37" cy="313.26" r="0.84" fill="#ffffff" stroke="none" stroke-width="1" opacity="0.7"/>
<circle cx="573.80" cy="301.40" r="2.10" fill="#f4a070" stroke="#aa704e" stroke-width="0.6" />
<circle cx="573.17" cy="300.66" r="0.84" fill="#ffffff" stroke="none" stroke-width="1" opacity="0.7"/>
<circle cx="585.50" cy="297.70" r="2.10" fill="#f4a070" stroke="#aa704e" stroke-width="0.6" />
<circle cx="584.87" cy="296.96" r="0.84" fill="#ffffff" stroke="none" stroke-width="1" opacity="0.7"/>
<circle cx="611.00" cy="281.90" r="2.10" fill="#f4a070" stroke="#aa704e" stroke-width="0.6" />
<circle cx="610.37" cy="281.16" r="0.84" fill="#ffffff" stroke="none" stroke-width="1" opacity="0.7"/>
<circle cx="645.60" cy="263.20" r="2.10" fill="#f4a070" stroke="#aa704e" stroke-width="0.6" />
<circle cx="644.97" cy="262.46" r="0.84" fill="#ffffff" stroke="none" stroke-width="1" opacity="0.7"/>
<circle cx="670.60" cy="246.60" r="2.10" fill="#f4a070" stroke="#aa704e" stroke-width="0.6" />
<circle cx="669.97" cy="245.86" r="0.84" fill="#ffffff" stroke="none" stroke-width="1" opacity="0.7"/>
<circle cx="548.20" cy="317.20" r="2.10" fill="#e0362c" stroke="#9c251e" stroke-width="0.6" />
<circle cx="547.57" cy="316.46" r="0.84" fill="#ffffff" stroke="none" stroke-width="1" opacity="0.7"/>
<circle cx="566.50" cy="308.20" r="2.10" fill="#e0362c" stroke="#9c251e" stroke-width="0.6" />
<circle cx="565.87" cy="307.46" r="0.84" fill="#ffffff" stroke="none" stroke-width="1" opacity="0.7"/>
<circle cx="584.70" cy="288.50" r="2.10" fill="#e0362c" stroke="#9c251e" stroke-width="0.6" />
<circle cx="584.07" cy="287.76" r="0.84" fill="#ffffff" stroke="none" stroke-width="1" opacity="0.7"/>
<circle cx="613.90" cy="273.90" r="2.10" fill="#e0362c" stroke="#9c251e" stroke-width="0.6" />
<circle cx="613.27" cy="273.16" r="0.84" fill="#ffffff" stroke="none" stroke-width="1" opacity="0.7"/>
<circle cx="643.60" cy="257.60" r="2.10" fill="#e0362c" stroke="#9c251e" stroke-width="0.6" />
<circle cx="642.97" cy="256.87" r="0.84" fill="#ffffff" stroke="none" stroke-width="1" opacity="0.7"/>
<circle cx="539.70" cy="320.90" r="2.10" fill="#f0b040" stroke="#a87b2c" stroke-width="0.6" />
<circle cx="539.07" cy="320.16" r="0.84" fill="#ffffff" stroke="none" stroke-width="1" opacity="0.7"/>
<circle cx="575.70" cy="297.70" r="2.10" fill="#f0b040" stroke="#a87b2c" stroke-width="0.6" />
<circle cx="575.07" cy="296.96" r="0.84" fill="#ffffff" stroke="none" stroke-width="1" opacity="0.7"/>
<circle cx="592.80" cy="284.40" r="2.10" fill="#f0b040" stroke="#a87b2c" stroke-width="0.6" />
<circle cx="592.17" cy="283.66" r="0.84" fill="#ffffff" stroke="none" stroke-width="1" opacity="0.7"/>
<circle cx="626.10" cy="260.00" r="2.10" fill="#f0b040" stroke="#a87b2c" stroke-width="0.6" />
<circle cx="625.47" cy="259.26" r="0.84" fill="#ffffff" stroke="none" stroke-width="1" opacity="0.7"/>
<circle cx="637.80" cy="249.80" r="2.10" fill="#f0b040" stroke="#a87b2c" stroke-width="0.6" />
<circle cx="637.17" cy="249.06" r="0.84" fill="#ffffff" stroke="none" stroke-width="1" opacity="0.7"/>
<circle cx="655.80" cy="236.90" r="2.10" fill="#f0b040" stroke="#a87b2c" stroke-width="0.6" />
<circle cx="655.17" cy="236.16" r="0.84" fill="#ffffff" stroke="none" stroke-width="1" opacity="0.7"/>
<circle cx="544.60" cy="313.60" r="2.10" fill="#b3daf2" stroke="#7d98a9" stroke-width="0.6" />
<circle cx="543.97" cy="312.87" r="0.84" fill="#ffffff" stroke="none" stroke-width="1" opacity="0.7"/>
<circle cx="551.90" cy="310.60" r="2.10" fill="#b3daf2" stroke="#7d98a9" stroke-width="0.6" />
<circle cx="551.27" cy="309.87" r="0.84" fill="#ffffff" stroke="none" stroke-width="1" opacity="0.7"/>
<circle cx="566.50" cy="297.70" r="2.10" fill="#b3daf2" stroke="#7d98a9" stroke-width="0.6" />
<circle cx="565.87" cy="296.96" r="0.84" fill="#ffffff" stroke="none" stroke-width="1" opacity="0.7"/>
<circle cx="573.30" cy="290.40" r="2.10" fill="#b3daf2" stroke="#7d98a9" stroke-width="0.6" />
<circle cx="572.67" cy="289.66" r="0.84" fill="#ffffff" stroke="none" stroke-width="1" opacity="0.7"/>
<circle cx="599.30" cy="267.30" r="2.10" fill="#b3daf2" stroke="#7d98a9" stroke-width="0.6" />
<circle cx="598.67" cy="266.56" r="0.84" fill="#ffffff" stroke="none" stroke-width="1" opacity="0.7"/>
<circle cx="619.30" cy="254.70" r="2.10" fill="#b3daf2" stroke="#7d98a9" stroke-width="0.6" />
<circle cx="618.67" cy="253.96" r="0.84" fill="#ffffff" stroke="none" stroke-width="1" opacity="0.7"/>
<circle cx="559.20" cy="295.30" r="2.10" fill="#477ec6" stroke="#31588a" stroke-width="0.6" />
<circle cx="558.57" cy="294.56" r="0.84" fill="#ffffff" stroke="none" stroke-width="1" opacity="0.7"/>
<circle cx="570.90" cy="286.80" r="2.10" fill="#477ec6" stroke="#31588a" stroke-width="0.6" />
<circle cx="570.27" cy="286.06" r="0.84" fill="#ffffff" stroke="none" stroke-width="1" opacity="0.7"/>
<circle cx="602.50" cy="252.70" r="2.10" fill="#477ec6" stroke="#31588a" stroke-width="0.6" />
<circle cx="601.87" cy="251.96" r="0.84" fill="#ffffff" stroke="none" stroke-width="1" opacity="0.7"/>
<circle cx="634.60" cy="206.00" r="2.10" fill="#477ec6" stroke="#31588a" stroke-width="0.6" />
<circle cx="633.97" cy="205.26" r="0.84" fill="#ffffff" stroke="none" stroke-width="1" opacity="0.7"/>
<circle cx="654.10" cy="191.90" r="2.10" fill="#477ec6" stroke="#31588a" stroke-width="0.6" />
<circle cx="653.47" cy="191.16" r="0.84" fill="#ffffff" stroke="none" stroke-width="1" opacity="0.7"/>
<circle cx="550.00" cy="300.20" r="2.10" fill="#1f3c78" stroke="#152a54" stroke-width="0.6" />
<circle cx="549.37" cy="299.46" r="0.84" fill="#ffffff" stroke="none" stroke-width="1" opacity="0.7"/>
<circle cx="552.60" cy="298.50" r="2.10" fill="#1f3c78" stroke="#152a54" stroke-width="0.6" />
<circle cx="551.97" cy="297.76" r="0.84" fill="#ffffff" stroke="none" stroke-width="1" opacity="0.7"/>
<circle cx="556.00" cy="293.60" r="2.10" fill="#1f3c78" stroke="#152a54" stroke-width="0.6" />
<circle cx="555.37" cy="292.87" r="0.84" fill="#ffffff" stroke="none" stroke-width="1" opacity="0.7"/>
<circle cx="559.20" cy="288.20" r="2.10" fill="#1f3c78" stroke="#152a54" stroke-width="0.6" />
<circle cx="558.57" cy="287.46" r="0.84" fill="#ffffff" stroke="none" stroke-width="1" opacity="0.7"/>
<circle cx="562.10" cy="280.70" r="2.10" fill="#1f3c78" stroke="#152a54" stroke-width="0.6" />
<circle cx="561.47" cy="279.96" r="0.84" fill="#ffffff" stroke="none" stroke-width="1" opacity="0.7"/>
<circle cx="568.40" cy="272.20" r="2.10" fill="#1f3c78" stroke="#152a54" stroke-width="0.6" />
<circle cx="567.77" cy="271.46" r="0.84" fill="#ffffff" stroke="none" stroke-width="1" opacity="0.7"/>
<circle cx="579.40" cy="262.90" r="2.10" fill="#1f3c78" stroke="#152a54" stroke-width="0.6" />
<circle cx="578.77" cy="262.16" r="0.84" fill="#ffffff" stroke="none" stroke-width="1" opacity="0.7"/>
<circle cx="604.90" cy="227.40" r="2.10" fill="#1f3c78" stroke="#152a54" stroke-width="0.6" />
<circle cx="604.27" cy="226.66" r="0.84" fill="#ffffff" stroke="none" stroke-width="1" opacity="0.7"/>
</g>
<rect x="532.50" y="170.60" width="150.20" height="158.60" fill="none" stroke="#3a3a3a" stroke-width="1.1" />
<text x="664.40" y="286.20" font-size="10.6" text-anchor="middle" fill="#2a2a2a" font-weight="normal" style="" >QY=1</text>
<text x="669.40" y="321.00" font-size="10.6" text-anchor="middle" fill="#2a2a2a" font-weight="normal" style="" >-1 V</text>
<line x1="665.80" y1="272.20" x2="657.00" y2="263.20" stroke="#222" stroke-width="0.9" />
<polygon points="657.00,263.20 661.37,264.52 658.22,267.60" fill="#222"/>
<text transform="translate(498.4,85.7) rotate(-90)" font-size="10.6" text-anchor="middle" fill="#2a2a2a">Photocurent (nA)</text>
<text transform="translate(503.4,249.5) rotate(-90)" font-size="10.6" text-anchor="middle" fill="#2a2a2a">Photocurrent (nA)</text>
<text x="-0.20" y="391.40" font-size="13.5" text-anchor="start" fill="#111" font-weight="bold" style="" >d</text>
<clipPath id="insclip"><rect x="46.6" y="396.0" width="140.60" height="101.40"/></clipPath>
<g clip-path="url(#insclip)">
<rect x="46.60" y="396.00" width="140.60" height="101.40" fill="#5066b6" stroke="none" stroke-width="1" />
<polygon points="44.00,393.00 95.15,393.00 44.00,414.31" fill="#6c4aa6" filter="url(#blur05)"/>
<polygon points="44.00,414.31 95.15,393.00 134.58,393.00 134.58,424.97 107.94,425.40 44.00,420.28" fill="#4a95d6" filter="url(#blur05)"/>
<polygon points="107.94,405.79 134.58,395.13 134.58,424.97 107.94,424.97" fill="#56a6e0" opacity="0.5"/>
<polygon points="134.58,393.00 143.74,393.00 143.74,426.03 134.58,426.03" fill="#6c4aa6" filter="url(#blur05)"/>
<polygon points="143.74,393.00 177.84,393.00 177.84,423.90 143.74,424.54" fill="#4b9bd9" filter="url(#blur05)"/>
<polygon points="177.84,393.00 193.19,393.00 193.19,427.10 177.84,424.97" fill="#6e4aa6" filter="url(#blur05)"/>
<polygon points="44.00,420.28 107.94,425.40 134.58,426.03 193.19,427.10 193.19,435.63 44.00,433.49" fill="#4358bb" opacity="0.6"/>
<polygon points="44.00,480.38 95.15,487.20 90.89,503.83 44.00,503.83" fill="#8660ab" filter="url(#blur1)"/>
<polygon points="159.09,491.04 193.19,478.25 193.19,503.83 154.83,503.83" fill="#6e56b0" filter="url(#blur1)" opacity="0.8"/>
<polygon points="71.71,440.31 86.63,434.56 102.61,437.76 133.51,451.61 156.96,463.33 154.83,489.97 135.65,488.91 107.94,473.99 86.63,456.94" fill="#4a6cc6" opacity="0.35"/>
<line x1="39.74" y1="460.77" x2="59.98" y2="443.72" stroke="#b070c0" stroke-width="12.50" stroke-linecap="round" opacity="0.45"/>
<line x1="39.74" y1="460.77" x2="59.98" y2="443.72" stroke="#f8d48a" stroke-width="9.00" stroke-linecap="round"/>
<line x1="39.74" y1="460.77" x2="59.98" y2="443.72" stroke="#fff4d8" stroke-width="5.58" stroke-linecap="round"/>
<line x1="87.69" y1="503.83" x2="107.94" y2="465.04" stroke="#b070c0" stroke-width="11.70" stroke-linecap="round" opacity="0.45"/>
<line x1="87.69" y1="503.83" x2="107.94" y2="465.04" stroke="#f8d48a" stroke-width="8.20" stroke-linecap="round"/>
<line x1="87.69" y1="503.83" x2="107.94" y2="465.04" stroke="#fff4d8" stroke-width="5.08" stroke-linecap="round"/>
<line x1="147.79" y1="503.83" x2="141.40" y2="477.40" stroke="#b070c0" stroke-width="11.70" stroke-linecap="round" opacity="0.45"/>
<line x1="147.79" y1="503.83" x2="141.40" y2="477.40" stroke="#f8d48a" stroke-width="8.20" stroke-linecap="round"/>
<line x1="147.79" y1="503.83" x2="141.40" y2="477.40" stroke="#fff4d8" stroke-width="5.08" stroke-linecap="round"/>
<line x1="135.22" y1="444.15" x2="197.45" y2="458.00" stroke="#b070c0" stroke-width="12.50" stroke-linecap="round" opacity="0.45"/>
<line x1="135.22" y1="444.15" x2="197.45" y2="458.00" stroke="#f8d48a" stroke-width="9.00" stroke-linecap="round"/>
<line x1="135.22" y1="444.15" x2="197.45" y2="458.00" stroke="#fff4d8" stroke-width="5.58" stroke-linecap="round"/>
<polyline points="44.00,435.63 85.56,429.23 105.81,433.92 129.25,431.36 153.76,438.18 155.89,456.94 149.50,471.86 143.10,474.42 127.12,472.28 107.94,465.46 71.71,440.31 63.18,446.28 44.00,435.63" fill="none" stroke="#e4e23a" stroke-width="0.55" />
<polyline points="71.71,440.31 71.71,436.69 86.63,434.56 101.54,437.76 116.46,443.09 133.51,451.61 156.96,463.33 154.83,489.97 135.65,488.91 114.33,480.38 101.54,468.66 86.63,454.81 71.71,440.31" fill="none" stroke="#e0303a" stroke-width="0.55" />
<line x1="51.60" y1="493.10" x2="76.20" y2="493.10" stroke="#ffffff" stroke-width="1.4" />
</g>
<text x="155.4" y="439.5" font-size="11" fill="#e8e020">WSe<tspan font-size="7.5" dy="2.5">2</tspan></text>
<text x="157.3" y="481.8" font-size="11" fill="#d8202e">MoS<tspan font-size="7.5" dy="2.5">2</tspan></text>
<line x1="38.50" y1="610.85" x2="40.80" y2="610.85" stroke="#3a3a3a" stroke-width="0.9" />
<line x1="38.50" y1="582.50" x2="42.90" y2="582.50" stroke="#3a3a3a" stroke-width="0.9" />
<line x1="38.50" y1="554.15" x2="40.80" y2="554.15" stroke="#3a3a3a" stroke-width="0.9" />
<line x1="38.50" y1="525.80" x2="42.90" y2="525.80" stroke="#3a3a3a" stroke-width="0.9" />
<line x1="38.50" y1="497.45" x2="40.80" y2="497.45" stroke="#3a3a3a" stroke-width="0.9" />
<line x1="38.50" y1="469.10" x2="42.90" y2="469.10" stroke="#3a3a3a" stroke-width="0.9" />
<line x1="38.50" y1="440.75" x2="40.80" y2="440.75" stroke="#3a3a3a" stroke-width="0.9" />
<line x1="38.50" y1="412.40" x2="42.90" y2="412.40" stroke="#3a3a3a" stroke-width="0.9" />
<text x="33.40" y="586.40" font-size="11" text-anchor="end" fill="#2a2a2a" font-weight="normal" style="" >1.0</text>
<text x="33.40" y="529.70" font-size="11" text-anchor="end" fill="#2a2a2a" font-weight="normal" style="" >1.5</text>
<text x="33.40" y="473.00" font-size="11" text-anchor="end" fill="#2a2a2a" font-weight="normal" style="" >2.0</text>
<text x="33.40" y="416.30" font-size="11" text-anchor="end" fill="#2a2a2a" font-weight="normal" style="" >2.5</text>
<line x1="38.70" y1="627.20" x2="38.70" y2="623.20" stroke="#3a3a3a" stroke-width="0.9" />
<line x1="70.62" y1="627.20" x2="70.62" y2="625.00" stroke="#3a3a3a" stroke-width="0.9" />
<line x1="102.54" y1="627.20" x2="102.54" y2="623.20" stroke="#3a3a3a" stroke-width="0.9" />
<line x1="134.46" y1="627.20" x2="134.46" y2="625.00" stroke="#3a3a3a" stroke-width="0.9" />
<line x1="166.38" y1="627.20" x2="166.38" y2="623.20" stroke="#3a3a3a" stroke-width="0.9" />
<line x1="198.30" y1="627.20" x2="198.30" y2="625.00" stroke="#3a3a3a" stroke-width="0.9" />
<line x1="230.22" y1="627.20" x2="230.22" y2="623.20" stroke="#3a3a3a" stroke-width="0.9" />
<line x1="262.14" y1="627.20" x2="262.14" y2="625.00" stroke="#3a3a3a" stroke-width="0.9" />
<line x1="294.06" y1="627.20" x2="294.06" y2="623.20" stroke="#3a3a3a" stroke-width="0.9" />
<text x="38.70" y="640.50" font-size="11" text-anchor="middle" fill="#2a2a2a" font-weight="normal" style="" >1.6</text>
<text x="102.54" y="640.50" font-size="11" text-anchor="middle" fill="#2a2a2a" font-weight="normal" style="" >2.0</text>
<text x="166.38" y="640.50" font-size="11" text-anchor="middle" fill="#2a2a2a" font-weight="normal" style="" >2.4</text>
<text x="230.22" y="640.50" font-size="11" text-anchor="middle" fill="#2a2a2a" font-weight="normal" style="" >2.8</text>
<text x="294.06" y="640.50" font-size="11" text-anchor="middle" fill="#2a2a2a" font-weight="normal" style="" >3.2</text>
<line x1="38.50" y1="582.50" x2="309.90" y2="582.50" stroke="#333" stroke-width="1.0" />
<rect x="38.50" y="390.50" width="271.40" height="236.70" fill="none" stroke="#3a3a3a" stroke-width="1.1" />
<text transform="translate(9.5,508.3) rotate(-90)" font-size="10.8" text-anchor="middle" fill="#2a2a2a">Photocurrent QY (Norm.)</text>
<text x="174.40" y="656.00" font-size="10.8" text-anchor="middle" fill="#2a2a2a" font-weight="normal" style="" >Photon energy (eV)</text>
<line x1="70.39" y1="577.16" x2="81.71" y2="565.44" stroke="#e0303a" stroke-width="1.0" />
<line x1="92.42" y1="563.17" x2="107.48" y2="569.23" stroke="#e0303a" stroke-width="1.0" />
<line x1="118.04" y1="566.82" x2="137.76" y2="545.18" stroke="#e0303a" stroke-width="1.0" />
<line x1="147.90" y1="536.97" x2="172.90" y2="522.33" stroke="#e0303a" stroke-width="1.0" />
<line x1="182.97" y1="514.05" x2="219.13" y2="473.05" stroke="#e0303a" stroke-width="1.0" />
<line x1="228.49" y1="463.78" x2="272.91" y2="425.32" stroke="#e0303a" stroke-width="1.0" />
<line x1="86.30" y1="554.30" x2="86.30" y2="567.10" stroke="#e87a84" stroke-width="1.3" />
<line x1="83.30" y1="554.30" x2="89.30" y2="554.30" stroke="#e04a55" stroke-width="1.2" />
<line x1="83.30" y1="567.10" x2="89.30" y2="567.10" stroke="#e04a55" stroke-width="1.2" />
<line x1="178.60" y1="513.30" x2="178.60" y2="524.50" stroke="#e87a84" stroke-width="1.3" />
<line x1="175.60" y1="513.30" x2="181.60" y2="513.30" stroke="#e04a55" stroke-width="1.2" />
<line x1="175.60" y1="524.50" x2="181.60" y2="524.50" stroke="#e04a55" stroke-width="1.2" />
<line x1="223.50" y1="457.10" x2="223.50" y2="479.00" stroke="#e87a84" stroke-width="1.3" />
<line x1="220.50" y1="457.10" x2="226.50" y2="457.10" stroke="#e04a55" stroke-width="1.2" />
<line x1="220.50" y1="479.00" x2="226.50" y2="479.00" stroke="#e04a55" stroke-width="1.2" />
<line x1="277.90" y1="409.50" x2="277.90" y2="432.50" stroke="#e87a84" stroke-width="1.3" />
<line x1="274.90" y1="409.50" x2="280.90" y2="409.50" stroke="#e04a55" stroke-width="1.2" />
<line x1="274.90" y1="432.50" x2="280.90" y2="432.50" stroke="#e04a55" stroke-width="1.2" />
<circle cx="65.80" cy="581.90" r="5.00" fill="url(#sphR)" stroke="none" stroke-width="1" />
<circle cx="86.30" cy="560.70" r="5.00" fill="url(#sphR)" stroke="none" stroke-width="1" />
<circle cx="113.60" cy="571.70" r="5.00" fill="url(#sphR)" stroke="none" stroke-width="1" />
<circle cx="142.20" cy="540.30" r="5.00" fill="url(#sphR)" stroke="none" stroke-width="1" />
<circle cx="178.60" cy="519.00" r="5.00" fill="url(#sphR)" stroke="none" stroke-width="1" />
<circle cx="223.50" cy="468.10" r="5.00" fill="url(#sphR)" stroke="none" stroke-width="1" />
<circle cx="277.90" cy="421.00" r="5.00" fill="url(#sphR)" stroke="none" stroke-width="1" />
<line x1="72.39" y1="581.64" x2="79.71" y2="581.36" stroke="#3a48b0" stroke-width="1.0" />
<line x1="92.88" y1="581.61" x2="107.02" y2="582.69" stroke="#3a48b0" stroke-width="1.0" />
<line x1="118.74" y1="579.06" x2="137.06" y2="564.34" stroke="#3a48b0" stroke-width="1.0" />
<line x1="147.97" y1="557.00" x2="172.83" y2="543.20" stroke="#3a48b0" stroke-width="1.0" />
<line x1="184.88" y1="537.97" x2="217.22" y2="527.53" stroke="#3a48b0" stroke-width="1.0" />
<line x1="230.01" y1="524.39" x2="271.39" y2="517.31" stroke="#3a48b0" stroke-width="1.0" />
<circle cx="65.80" cy="581.90" r="5.00" fill="url(#sphB)" stroke="none" stroke-width="1" />
<circle cx="86.30" cy="581.10" r="5.00" fill="url(#sphB)" stroke="none" stroke-width="1" />
<circle cx="113.60" cy="583.20" r="5.00" fill="url(#sphB)" stroke="none" stroke-width="1" />
<circle cx="142.20" cy="560.20" r="5.00" fill="url(#sphB)" stroke="none" stroke-width="1" />
<circle cx="178.60" cy="540.00" r="5.00" fill="url(#sphB)" stroke="none" stroke-width="1" />
<circle cx="223.50" cy="525.50" r="5.00" fill="url(#sphB)" stroke="none" stroke-width="1" />
<circle cx="277.90" cy="516.20" r="5.00" fill="url(#sphB)" stroke="none" stroke-width="1" />
<line x1="232.30" y1="593.30" x2="242.20" y2="593.30" stroke="#3a48b0" stroke-width="1.0" />
<line x1="255.40" y1="593.30" x2="265.10" y2="593.30" stroke="#3a48b0" stroke-width="1.0" />
<circle cx="248.80" cy="593.30" r="5.00" fill="url(#sphB)" stroke="none" stroke-width="1" />
<text x="270.60" y="597.20" font-size="10.8" text-anchor="start" fill="#2a2a2a" font-weight="normal" style="" >0 V</text>
<line x1="232.30" y1="611.00" x2="242.20" y2="611.00" stroke="#e0303a" stroke-width="1.0" />
<line x1="255.40" y1="611.00" x2="265.10" y2="611.00" stroke="#e0303a" stroke-width="1.0" />
<circle cx="248.80" cy="611.00" r="5.00" fill="url(#sphR)" stroke="none" stroke-width="1" />
<text x="270.60" y="614.90" font-size="10.8" text-anchor="start" fill="#2a2a2a" font-weight="normal" style="" >-1 V</text>
<text x="366.80" y="392.30" font-size="13.5" text-anchor="start" fill="#111" font-weight="bold" style="" >e</text>
<line x1="405.50" y1="607.25" x2="407.70" y2="607.25" stroke="#3a3a3a" stroke-width="0.9" />
<line x1="405.50" y1="587.50" x2="409.70" y2="587.50" stroke="#3a3a3a" stroke-width="0.9" />
<line x1="405.50" y1="567.75" x2="407.70" y2="567.75" stroke="#3a3a3a" stroke-width="0.9" />
<line x1="405.50" y1="548.00" x2="409.70" y2="548.00" stroke="#3a3a3a" stroke-width="0.9" />
<line x1="405.50" y1="528.25" x2="407.70" y2="528.25" stroke="#3a3a3a" stroke-width="0.9" />
<line x1="405.50" y1="508.50" x2="409.70" y2="508.50" stroke="#3a3a3a" stroke-width="0.9" />
<line x1="405.50" y1="488.75" x2="407.70" y2="488.75" stroke="#3a3a3a" stroke-width="0.9" />
<line x1="405.50" y1="469.00" x2="409.70" y2="469.00" stroke="#3a3a3a" stroke-width="0.9" />
<line x1="405.50" y1="449.25" x2="407.70" y2="449.25" stroke="#3a3a3a" stroke-width="0.9" />
<line x1="405.50" y1="429.50" x2="409.70" y2="429.50" stroke="#3a3a3a" stroke-width="0.9" />
<line x1="405.50" y1="409.75" x2="407.70" y2="409.75" stroke="#3a3a3a" stroke-width="0.9" />
<text x="400.70" y="630.80" font-size="10.6" text-anchor="end" fill="#2a2a2a" font-weight="normal" style="" >0.8</text>
<text x="400.70" y="591.30" font-size="10.6" text-anchor="end" fill="#2a2a2a" font-weight="normal" style="" >1.0</text>
<text x="400.70" y="551.80" font-size="10.6" text-anchor="end" fill="#2a2a2a" font-weight="normal" style="" >1.2</text>
<text x="400.70" y="512.30" font-size="10.6" text-anchor="end" fill="#2a2a2a" font-weight="normal" style="" >1.4</text>
<text x="400.70" y="472.80" font-size="10.6" text-anchor="end" fill="#2a2a2a" font-weight="normal" style="" >1.6</text>
<text x="400.70" y="433.30" font-size="10.6" text-anchor="end" fill="#2a2a2a" font-weight="normal" style="" >1.8</text>
<text x="400.70" y="393.80" font-size="10.6" text-anchor="end" fill="#2a2a2a" font-weight="normal" style="" >2.0</text>
<line x1="405.50" y1="626.50" x2="405.50" y2="622.30" stroke="#3a3a3a" stroke-width="0.9" />
<line x1="439.62" y1="626.50" x2="439.62" y2="624.30" stroke="#3a3a3a" stroke-width="0.9" />
<line x1="473.74" y1="626.50" x2="473.74" y2="622.30" stroke="#3a3a3a" stroke-width="0.9" />
<line x1="507.86" y1="626.50" x2="507.86" y2="624.30" stroke="#3a3a3a" stroke-width="0.9" />
<line x1="541.98" y1="626.50" x2="541.98" y2="622.30" stroke="#3a3a3a" stroke-width="0.9" />
<line x1="576.10" y1="626.50" x2="576.10" y2="624.30" stroke="#3a3a3a" stroke-width="0.9" />
<line x1="610.22" y1="626.50" x2="610.22" y2="622.30" stroke="#3a3a3a" stroke-width="0.9" />
<line x1="644.34" y1="626.50" x2="644.34" y2="624.30" stroke="#3a3a3a" stroke-width="0.9" />
<line x1="678.46" y1="626.50" x2="678.46" y2="622.30" stroke="#3a3a3a" stroke-width="0.9" />
<text x="405.50" y="640.20" font-size="10.6" text-anchor="middle" fill="#2a2a2a" font-weight="normal" style="" >1.6</text>
<text x="473.74" y="640.20" font-size="10.6" text-anchor="middle" fill="#2a2a2a" font-weight="normal" style="" >2.0</text>
<text x="541.98" y="640.20" font-size="10.6" text-anchor="middle" fill="#2a2a2a" font-weight="normal" style="" >2.4</text>
<text x="610.22" y="640.20" font-size="10.6" text-anchor="middle" fill="#2a2a2a" font-weight="normal" style="" >2.8</text>
<text x="678.46" y="640.20" font-size="10.6" text-anchor="middle" fill="#2a2a2a" font-weight="normal" style="" >3.2</text>
<line x1="405.50" y1="587.50" x2="678.10" y2="587.50" stroke="#222" stroke-width="1.0" />
<rect x="405.50" y="390.20" width="272.60" height="236.30" fill="none" stroke="#3a3a3a" stroke-width="1.1" />
<text transform="translate(376.0,508.5) rotate(-90)" font-size="10.8" text-anchor="middle" fill="#2a2a2a">Quantum yield</text>
<text x="541.90" y="655.50" font-size="10.6" text-anchor="middle" fill="#2a2a2a" font-weight="normal" style="" >Photon energy (eV)</text>
<text x="638.60" y="611.80" font-size="10.6" text-anchor="middle" fill="#2a2a2a" font-weight="normal" style="" >theory</text>
<line x1="472.29" y1="584.23" x2="473.81" y2="583.47" stroke="#3a50b4" stroke-width="1.2" />
<line x1="482.80" y1="574.26" x2="490.62" y2="557.84" stroke="#3a50b4" stroke-width="1.2" />
<line x1="497.80" y1="546.40" x2="502.94" y2="540.00" stroke="#3a50b4" stroke-width="1.2" />
<line x1="512.82" y1="530.87" x2="515.24" y2="529.23" stroke="#3a50b4" stroke-width="1.2" />
<line x1="553.99" y1="525.53" x2="556.03" y2="526.77" stroke="#3a50b4" stroke-width="1.2" />
<line x1="580.74" y1="525.47" x2="583.92" y2="522.83" stroke="#3a50b4" stroke-width="1.2" />
<line x1="609.37" y1="514.18" x2="609.93" y2="514.02" stroke="#3a50b4" stroke-width="1.2" />
<line x1="621.93" y1="508.13" x2="624.69" y2="506.07" stroke="#3a50b4" stroke-width="1.2" />
<line x1="636.17" y1="498.86" x2="637.77" y2="498.04" stroke="#3a50b4" stroke-width="1.2" />
<line x1="650.36" y1="493.12" x2="650.90" y2="492.98" stroke="#3a50b4" stroke-width="1.2" />
<circle cx="438.90" cy="587.30" r="3.85" fill="#b6bde6" stroke="#3a4fb2" stroke-width="1.3" />
<circle cx="452.56" cy="587.30" r="3.85" fill="#b6bde6" stroke="#3a4fb2" stroke-width="1.3" />
<circle cx="466.22" cy="587.30" r="3.85" fill="#b6bde6" stroke="#3a4fb2" stroke-width="1.3" />
<circle cx="479.88" cy="580.40" r="3.85" fill="#b6bde6" stroke="#3a4fb2" stroke-width="1.3" />
<circle cx="493.54" cy="551.70" r="3.85" fill="#b6bde6" stroke="#3a4fb2" stroke-width="1.3" />
<circle cx="507.20" cy="534.70" r="3.85" fill="#b6bde6" stroke="#3a4fb2" stroke-width="1.3" />
<circle cx="520.86" cy="525.40" r="3.85" fill="#b6bde6" stroke="#3a4fb2" stroke-width="1.3" />
<circle cx="534.52" cy="522.90" r="3.85" fill="#b6bde6" stroke="#3a4fb2" stroke-width="1.3" />
<circle cx="548.18" cy="522.00" r="3.85" fill="#b6bde6" stroke="#3a4fb2" stroke-width="1.3" />
<circle cx="561.84" cy="530.30" r="3.85" fill="#b6bde6" stroke="#3a4fb2" stroke-width="1.3" />
<circle cx="575.50" cy="529.80" r="3.85" fill="#b6bde6" stroke="#3a4fb2" stroke-width="1.3" />
<circle cx="589.16" cy="518.50" r="3.85" fill="#b6bde6" stroke="#3a4fb2" stroke-width="1.3" />
<circle cx="602.82" cy="516.00" r="3.85" fill="#b6bde6" stroke="#3a4fb2" stroke-width="1.3" />
<circle cx="616.48" cy="512.20" r="3.85" fill="#b6bde6" stroke="#3a4fb2" stroke-width="1.3" />
<circle cx="630.14" cy="502.00" r="3.85" fill="#b6bde6" stroke="#3a4fb2" stroke-width="1.3" />
<circle cx="643.80" cy="494.90" r="3.85" fill="#b6bde6" stroke="#3a4fb2" stroke-width="1.3" />
<circle cx="657.46" cy="491.20" r="3.85" fill="#b6bde6" stroke="#3a4fb2" stroke-width="1.3" />
<line x1="443.11" y1="584.56" x2="448.35" y2="577.94" stroke="#dc2a36" stroke-width="1.2" />
<line x1="455.64" y1="566.54" x2="463.14" y2="551.76" stroke="#dc2a36" stroke-width="1.2" />
<line x1="469.31" y1="539.64" x2="476.79" y2="524.96" stroke="#dc2a36" stroke-width="1.2" />
<line x1="526.48" y1="523.03" x2="528.90" y2="524.67" stroke="#dc2a36" stroke-width="1.2" />
<line x1="539.89" y1="532.67" x2="542.81" y2="534.93" stroke="#dc2a36" stroke-width="1.2" />
<line x1="549.63" y1="532.46" x2="560.39" y2="483.24" stroke="#dc2a36" stroke-width="1.2" />
<line x1="565.55" y1="470.90" x2="571.79" y2="461.30" stroke="#dc2a36" stroke-width="1.2" />
<line x1="580.68" y1="451.20" x2="583.98" y2="448.40" stroke="#dc2a36" stroke-width="1.2" />
<line x1="636.80" y1="442.43" x2="637.14" y2="442.37" stroke="#dc2a36" stroke-width="1.2" />
<circle cx="438.90" cy="589.90" r="3.85" fill="#f7c3c6" stroke="#d8232f" stroke-width="1.3" />
<circle cx="452.56" cy="572.60" r="3.85" fill="#f7c3c6" stroke="#d8232f" stroke-width="1.3" />
<circle cx="466.22" cy="545.70" r="3.85" fill="#f7c3c6" stroke="#d8232f" stroke-width="1.3" />
<circle cx="479.88" cy="518.90" r="3.85" fill="#f7c3c6" stroke="#d8232f" stroke-width="1.3" />
<circle cx="493.54" cy="518.20" r="3.85" fill="#f7c3c6" stroke="#d8232f" stroke-width="1.3" />
<circle cx="507.20" cy="517.70" r="3.85" fill="#f7c3c6" stroke="#d8232f" stroke-width="1.3" />
<circle cx="520.86" cy="519.20" r="3.85" fill="#f7c3c6" stroke="#d8232f" stroke-width="1.3" />
<circle cx="534.52" cy="528.50" r="3.85" fill="#f7c3c6" stroke="#d8232f" stroke-width="1.3" />
<circle cx="548.18" cy="539.10" r="3.85" fill="#f7c3c6" stroke="#d8232f" stroke-width="1.3" />
<circle cx="561.84" cy="476.60" r="3.85" fill="#f7c3c6" stroke="#d8232f" stroke-width="1.3" />
<circle cx="575.50" cy="455.60" r="3.85" fill="#f7c3c6" stroke="#d8232f" stroke-width="1.3" />
<circle cx="589.16" cy="444.00" r="3.85" fill="#f7c3c6" stroke="#d8232f" stroke-width="1.3" />
<circle cx="602.82" cy="443.80" r="3.85" fill="#f7c3c6" stroke="#d8232f" stroke-width="1.3" />
<circle cx="616.48" cy="445.00" r="3.85" fill="#f7c3c6" stroke="#d8232f" stroke-width="1.3" />
<circle cx="630.14" cy="443.80" r="3.85" fill="#f7c3c6" stroke="#d8232f" stroke-width="1.3" />
<circle cx="643.80" cy="441.00" r="3.85" fill="#f7c3c6" stroke="#d8232f" stroke-width="1.3" />
<circle cx="657.46" cy="440.50" r="3.85" fill="#f7c3c6" stroke="#d8232f" stroke-width="1.3" />
<line x1="426.20" y1="409.40" x2="459.50" y2="409.40" stroke="#3a50b4" stroke-width="1.2" />
<circle cx="443.00" cy="409.40" r="4.10" fill="#b6bde6" stroke="#3a4fb2" stroke-width="1.3" />
<text x="464.20" y="413.30" font-size="10.6" text-anchor="start" fill="#2a2a2a" font-weight="normal" style="" >0 V</text>
<line x1="426.20" y1="427.00" x2="459.50" y2="427.00" stroke="#dc2a36" stroke-width="1.2" />
<circle cx="443.00" cy="427.00" r="4.10" fill="#f7c3c6" stroke="#d8232f" stroke-width="1.3" />
<text x="464.20" y="430.90" font-size="10.6" text-anchor="start" fill="#2a2a2a" font-weight="normal" style="" >-1 V</text>
<text x="-0.40" y="11.00" font-size="13.5" text-anchor="start" fill="#111" font-weight="bold" style="" >a</text>
<polygon points="3,114.5 229,114.5 230.8,120.5 1.2,120.5" fill="url(#subTop)"/>
<rect x="1.20" y="120.50" width="229.60" height="8.80" fill="url(#subF1)" stroke="none" stroke-width="1" />
<rect x="1.20" y="129.30" width="229.60" height="17.30" fill="url(#subF2)" stroke="none" stroke-width="1" />
<ellipse cx="150" cy="108" rx="45" ry="9" fill="#d6cdec" opacity="0.85"/>
<g transform="translate(74.9,7.0) rotate(-27.4)"><polygon points="-3.25,0 3.25,0 11.00,103.00 -11.00,103.00" fill="url(#beam)" opacity="1.0" mask="url(#bmask)"/></g>
<polygon points="3,86 158,86 158,101 3,101" fill="#88b080" opacity="0.7"/>
<polygon points="3,96 158,96 158,116.5 3,116.5" fill="#4e78a8" opacity="0.75"/>
<polygon points="3,109 50,109 50,117 3,117" fill="#3c6090" opacity="0.5"/>
<polygon points="1.5,101 157,101 157,112 1.5,112" fill="#3f74b8" opacity="0.6"/>
<g opacity="0.85">
<line x1="6.60" y1="85.50" x2="10.32" y2="88.50" stroke="#5c9c64" stroke-width="0.75"/>
<line x1="14.05" y1="85.50" x2="10.32" y2="88.50" stroke="#4a80b8" stroke-width="0.75"/>
<line x1="6.60" y1="87.90" x2="10.32" y2="90.90" stroke="#5c9c64" stroke-width="0.75"/>
<line x1="14.05" y1="87.90" x2="10.32" y2="90.90" stroke="#4a80b8" stroke-width="0.75"/>
<line x1="6.60" y1="90.30" x2="10.32" y2="93.30" stroke="#5c9c64" stroke-width="0.75"/>
<line x1="14.05" y1="90.30" x2="10.32" y2="93.30" stroke="#4a80b8" stroke-width="0.75"/>
<line x1="6.60" y1="92.70" x2="10.32" y2="95.70" stroke="#5c9c64" stroke-width="0.75"/>
<line x1="14.05" y1="92.70" x2="10.32" y2="95.70" stroke="#4a80b8" stroke-width="0.75"/>
<line x1="6.60" y1="95.10" x2="10.32" y2="98.10" stroke="#5c9c64" stroke-width="0.75"/>
<line x1="14.05" y1="95.10" x2="10.32" y2="98.10" stroke="#4a80b8" stroke-width="0.75"/>
<line x1="6.60" y1="97.50" x2="10.32" y2="100.50" stroke="#5c9c64" stroke-width="0.75"/>
<line x1="14.05" y1="97.50" x2="10.32" y2="100.50" stroke="#4a80b8" stroke-width="0.75"/>
<line x1="6.60" y1="99.90" x2="10.32" y2="102.90" stroke="#5c9c64" stroke-width="0.75"/>
<line x1="14.05" y1="99.90" x2="10.32" y2="102.90" stroke="#4a80b8" stroke-width="0.75"/>
<line x1="6.60" y1="102.30" x2="10.32" y2="105.30" stroke="#5c9c64" stroke-width="0.75"/>
<line x1="14.05" y1="102.30" x2="10.32" y2="105.30" stroke="#4a80b8" stroke-width="0.75"/>
<line x1="14.05" y1="85.50" x2="17.77" y2="88.50" stroke="#5c9c64" stroke-width="0.75"/>
<line x1="21.50" y1="85.50" x2="17.77" y2="88.50" stroke="#4a80b8" stroke-width="0.75"/>
<line x1="14.05" y1="87.90" x2="17.77" y2="90.90" stroke="#5c9c64" stroke-width="0.75"/>
<line x1="21.50" y1="87.90" x2="17.77" y2="90.90" stroke="#4a80b8" stroke-width="0.75"/>
<line x1="14.05" y1="90.30" x2="17.77" y2="93.30" stroke="#5c9c64" stroke-width="0.75"/>
<line x1="21.50" y1="90.30" x2="17.77" y2="93.30" stroke="#4a80b8" stroke-width="0.75"/>
<line x1="14.05" y1="92.70" x2="17.77" y2="95.70" stroke="#5c9c64" stroke-width="0.75"/>
<line x1="21.50" y1="92.70" x2="17.77" y2="95.70" stroke="#4a80b8" stroke-width="0.75"/>
<line x1="14.05" y1="95.10" x2="17.77" y2="98.10" stroke="#5c9c64" stroke-width="0.75"/>
<line x1="21.50" y1="95.10" x2="17.77" y2="98.10" stroke="#4a80b8" stroke-width="0.75"/>
<line x1="14.05" y1="97.50" x2="17.77" y2="100.50" stroke="#5c9c64" stroke-width="0.75"/>
<line x1="21.50" y1="97.50" x2="17.77" y2="100.50" stroke="#4a80b8" stroke-width="0.75"/>
<line x1="14.05" y1="99.90" x2="17.77" y2="102.90" stroke="#5c9c64" stroke-width="0.75"/>
<line x1="21.50" y1="99.90" x2="17.77" y2="102.90" stroke="#4a80b8" stroke-width="0.75"/>
<line x1="14.05" y1="102.30" x2="17.77" y2="105.30" stroke="#5c9c64" stroke-width="0.75"/>
<line x1="21.50" y1="102.30" x2="17.77" y2="105.30" stroke="#4a80b8" stroke-width="0.75"/>
<line x1="21.50" y1="85.50" x2="25.22" y2="88.50" stroke="#5c9c64" stroke-width="0.75"/>
<line x1="28.95" y1="85.50" x2="25.22" y2="88.50" stroke="#4a80b8" stroke-width="0.75"/>
<line x1="21.50" y1="87.90" x2="25.22" y2="90.90" stroke="#5c9c64" stroke-width="0.75"/>
<line x1="28.95" y1="87.90" x2="25.22" y2="90.90" stroke="#4a80b8" stroke-width="0.75"/>
<line x1="21.50" y1="90.30" x2="25.22" y2="93.30" stroke="#5c9c64" stroke-width="0.75"/>
<line x1="28.95" y1="90.30" x2="25.22" y2="93.30" stroke="#4a80b8" stroke-width="0.75"/>
<line x1="21.50" y1="92.70" x2="25.22" y2="95.70" stroke="#5c9c64" stroke-width="0.75"/>
<line x1="28.95" y1="92.70" x2="25.22" y2="95.70" stroke="#4a80b8" stroke-width="0.75"/>
<line x1="21.50" y1="95.10" x2="25.22" y2="98.10" stroke="#5c9c64" stroke-width="0.75"/>
<line x1="28.95" y1="95.10" x2="25.22" y2="98.10" stroke="#4a80b8" stroke-width="0.75"/>
<line x1="21.50" y1="97.50" x2="25.22" y2="100.50" stroke="#5c9c64" stroke-width="0.75"/>
<line x1="28.95" y1="97.50" x2="25.22" y2="100.50" stroke="#4a80b8" stroke-width="0.75"/>
<line x1="21.50" y1="99.90" x2="25.22" y2="102.90" stroke="#5c9c64" stroke-width="0.75"/>
<line x1="28.95" y1="99.90" x2="25.22" y2="102.90" stroke="#4a80b8" stroke-width="0.75"/>
<line x1="21.50" y1="102.30" x2="25.22" y2="105.30" stroke="#5c9c64" stroke-width="0.75"/>
<line x1="28.95" y1="102.30" x2="25.22" y2="105.30" stroke="#4a80b8" stroke-width="0.75"/>
<line x1="28.95" y1="85.50" x2="32.67" y2="88.50" stroke="#5c9c64" stroke-width="0.75"/>
<line x1="36.40" y1="85.50" x2="32.67" y2="88.50" stroke="#4a80b8" stroke-width="0.75"/>
<line x1="28.95" y1="87.90" x2="32.67" y2="90.90" stroke="#5c9c64" stroke-width="0.75"/>
<line x1="36.40" y1="87.90" x2="32.67" y2="90.90" stroke="#4a80b8" stroke-width="0.75"/>
<line x1="28.95" y1="90.30" x2="32.67" y2="93.30" stroke="#5c9c64" stroke-width="0.75"/>
<line x1="36.40" y1="90.30" x2="32.67" y2="93.30" stroke="#4a80b8" stroke-width="0.75"/>
<line x1="28.95" y1="92.70" x2="32.67" y2="95.70" stroke="#5c9c64" stroke-width="0.75"/>
<line x1="36.40" y1="92.70" x2="32.67" y2="95.70" stroke="#4a80b8" stroke-width="0.75"/>
<line x1="28.95" y1="95.10" x2="32.67" y2="98.10" stroke="#5c9c64" stroke-width="0.75"/>
<line x1="36.40" y1="95.10" x2="32.67" y2="98.10" stroke="#4a80b8" stroke-width="0.75"/>
<line x1="28.95" y1="97.50" x2="32.67" y2="100.50" stroke="#5c9c64" stroke-width="0.75"/>
<line x1="36.40" y1="97.50" x2="32.67" y2="100.50" stroke="#4a80b8" stroke-width="0.75"/>
<line x1="28.95" y1="99.90" x2="32.67" y2="102.90" stroke="#5c9c64" stroke-width="0.75"/>
<line x1="36.40" y1="99.90" x2="32.67" y2="102.90" stroke="#4a80b8" stroke-width="0.75"/>
<line x1="28.95" y1="102.30" x2="32.67" y2="105.30" stroke="#5c9c64" stroke-width="0.75"/>
<line x1="36.40" y1="102.30" x2="32.67" y2="105.30" stroke="#4a80b8" stroke-width="0.75"/>
<line x1="36.40" y1="85.50" x2="40.12" y2="88.50" stroke="#5c9c64" stroke-width="0.75"/>
<line x1="43.85" y1="85.50" x2="40.12" y2="88.50" stroke="#4a80b8" stroke-width="0.75"/>
<line x1="36.40" y1="87.90" x2="40.12" y2="90.90" stroke="#5c9c64" stroke-width="0.75"/>
<line x1="43.85" y1="87.90" x2="40.12" y2="90.90" stroke="#4a80b8" stroke-width="0.75"/>
<line x1="36.40" y1="90.30" x2="40.12" y2="93.30" stroke="#5c9c64" stroke-width="0.75"/>
<line x1="43.85" y1="90.30" x2="40.12" y2="93.30" stroke="#4a80b8" stroke-width="0.75"/>
<line x1="36.40" y1="92.70" x2="40.12" y2="95.70" stroke="#5c9c64" stroke-width="0.75"/>
<line x1="43.85" y1="92.70" x2="40.12" y2="95.70" stroke="#4a80b8" stroke-width="0.75"/>
<line x1="36.40" y1="95.10" x2="40.12" y2="98.10" stroke="#5c9c64" stroke-width="0.75"/>
<line x1="43.85" y1="95.10" x2="40.12" y2="98.10" stroke="#4a80b8" stroke-width="0.75"/>
<line x1="36.40" y1="97.50" x2="40.12" y2="100.50" stroke="#5c9c64" stroke-width="0.75"/>
<line x1="43.85" y1="97.50" x2="40.12" y2="100.50" stroke="#4a80b8" stroke-width="0.75"/>
<line x1="36.40" y1="99.90" x2="40.12" y2="102.90" stroke="#5c9c64" stroke-width="0.75"/>
<line x1="43.85" y1="99.90" x2="40.12" y2="102.90" stroke="#4a80b8" stroke-width="0.75"/>
<line x1="36.40" y1="102.30" x2="40.12" y2="105.30" stroke="#5c9c64" stroke-width="0.75"/>
<line x1="43.85" y1="102.30" x2="40.12" y2="105.30" stroke="#4a80b8" stroke-width="0.75"/>
<line x1="43.85" y1="85.50" x2="47.57" y2="88.50" stroke="#5c9c64" stroke-width="0.75"/>
<line x1="51.30" y1="85.50" x2="47.57" y2="88.50" stroke="#4a80b8" stroke-width="0.75"/>
<line x1="43.85" y1="87.90" x2="47.57" y2="90.90" stroke="#5c9c64" stroke-width="0.75"/>
<line x1="51.30" y1="87.90" x2="47.57" y2="90.90" stroke="#4a80b8" stroke-width="0.75"/>
<line x1="43.85" y1="90.30" x2="47.57" y2="93.30" stroke="#5c9c64" stroke-width="0.75"/>
<line x1="51.30" y1="90.30" x2="47.57" y2="93.30" stroke="#4a80b8" stroke-width="0.75"/>
<line x1="43.85" y1="92.70" x2="47.57" y2="95.70" stroke="#5c9c64" stroke-width="0.75"/>
<line x1="51.30" y1="92.70" x2="47.57" y2="95.70" stroke="#4a80b8" stroke-width="0.75"/>
<line x1="43.85" y1="95.10" x2="47.57" y2="98.10" stroke="#5c9c64" stroke-width="0.75"/>
<line x1="51.30" y1="95.10" x2="47.57" y2="98.10" stroke="#4a80b8" stroke-width="0.75"/>
<line x1="43.85" y1="97.50" x2="47.57" y2="100.50" stroke="#5c9c64" stroke-width="0.75"/>
<line x1="51.30" y1="97.50" x2="47.57" y2="100.50" stroke="#4a80b8" stroke-width="0.75"/>
<line x1="43.85" y1="99.90" x2="47.57" y2="102.90" stroke="#5c9c64" stroke-width="0.75"/>
<line x1="51.30" y1="99.90" x2="47.57" y2="102.90" stroke="#4a80b8" stroke-width="0.75"/>
<line x1="43.85" y1="102.30" x2="47.57" y2="105.30" stroke="#5c9c64" stroke-width="0.75"/>
<line x1="51.30" y1="102.30" x2="47.57" y2="105.30" stroke="#4a80b8" stroke-width="0.75"/>
<line x1="51.30" y1="85.50" x2="55.02" y2="88.50" stroke="#5c9c64" stroke-width="0.75"/>
<line x1="58.75" y1="85.50" x2="55.02" y2="88.50" stroke="#4a80b8" stroke-width="0.75"/>
<line x1="51.30" y1="87.90" x2="55.02" y2="90.90" stroke="#5c9c64" stroke-width="0.75"/>
<line x1="58.75" y1="87.90" x2="55.02" y2="90.90" stroke="#4a80b8" stroke-width="0.75"/>
<line x1="51.30" y1="90.30" x2="55.02" y2="93.30" stroke="#5c9c64" stroke-width="0.75"/>
<line x1="58.75" y1="90.30" x2="55.02" y2="93.30" stroke="#4a80b8" stroke-width="0.75"/>
<line x1="51.30" y1="92.70" x2="55.02" y2="95.70" stroke="#5c9c64" stroke-width="0.75"/>
<line x1="58.75" y1="92.70" x2="55.02" y2="95.70" stroke="#4a80b8" stroke-width="0.75"/>
<line x1="51.30" y1="95.10" x2="55.02" y2="98.10" stroke="#5c9c64" stroke-width="0.75"/>
<line x1="58.75" y1="95.10" x2="55.02" y2="98.10" stroke="#4a80b8" stroke-width="0.75"/>
<line x1="51.30" y1="97.50" x2="55.02" y2="100.50" stroke="#5c9c64" stroke-width="0.75"/>
<line x1="58.75" y1="97.50" x2="55.02" y2="100.50" stroke="#4a80b8" stroke-width="0.75"/>
<line x1="51.30" y1="99.90" x2="55.02" y2="102.90" stroke="#5c9c64" stroke-width="0.75"/>
<line x1="58.75" y1="99.90" x2="55.02" y2="102.90" stroke="#4a80b8" stroke-width="0.75"/>
<line x1="51.30" y1="102.30" x2="55.02" y2="105.30" stroke="#5c9c64" stroke-width="0.75"/>
<line x1="58.75" y1="102.30" x2="55.02" y2="105.30" stroke="#4a80b8" stroke-width="0.75"/>
<line x1="58.75" y1="85.50" x2="62.47" y2="88.50" stroke="#5c9c64" stroke-width="0.75"/>
<line x1="66.20" y1="85.50" x2="62.47" y2="88.50" stroke="#4a80b8" stroke-width="0.75"/>
<line x1="58.75" y1="87.90" x2="62.47" y2="90.90" stroke="#5c9c64" stroke-width="0.75"/>
<line x1="66.20" y1="87.90" x2="62.47" y2="90.90" stroke="#4a80b8" stroke-width="0.75"/>
<line x1="58.75" y1="90.30" x2="62.47" y2="93.30" stroke="#5c9c64" stroke-width="0.75"/>
<line x1="66.20" y1="90.30" x2="62.47" y2="93.30" stroke="#4a80b8" stroke-width="0.75"/>
<line x1="58.75" y1="92.70" x2="62.47" y2="95.70" stroke="#5c9c64" stroke-width="0.75"/>
<line x1="66.20" y1="92.70" x2="62.47" y2="95.70" stroke="#4a80b8" stroke-width="0.75"/>
<line x1="58.75" y1="95.10" x2="62.47" y2="98.10" stroke="#5c9c64" stroke-width="0.75"/>
<line x1="66.20" y1="95.10" x2="62.47" y2="98.10" stroke="#4a80b8" stroke-width="0.75"/>
<line x1="58.75" y1="97.50" x2="62.47" y2="100.50" stroke="#5c9c64" stroke-width="0.75"/>
<line x1="66.20" y1="97.50" x2="62.47" y2="100.50" stroke="#4a80b8" stroke-width="0.75"/>
<line x1="58.75" y1="99.90" x2="62.47" y2="102.90" stroke="#5c9c64" stroke-width="0.75"/>
<line x1="66.20" y1="99.90" x2="62.47" y2="102.90" stroke="#4a80b8" stroke-width="0.75"/>
<line x1="58.75" y1="102.30" x2="62.47" y2="105.30" stroke="#5c9c64" stroke-width="0.75"/>
<line x1="66.20" y1="102.30" x2="62.47" y2="105.30" stroke="#4a80b8" stroke-width="0.75"/>
<line x1="66.20" y1="85.50" x2="69.92" y2="88.50" stroke="#5c9c64" stroke-width="0.75"/>
<line x1="73.65" y1="85.50" x2="69.92" y2="88.50" stroke="#4a80b8" stroke-width="0.75"/>
<line x1="66.20" y1="87.90" x2="69.92" y2="90.90" stroke="#5c9c64" stroke-width="0.75"/>
<line x1="73.65" y1="87.90" x2="69.92" y2="90.90" stroke="#4a80b8" stroke-width="0.75"/>
<line x1="66.20" y1="90.30" x2="69.92" y2="93.30" stroke="#5c9c64" stroke-width="0.75"/>
<line x1="73.65" y1="90.30" x2="69.92" y2="93.30" stroke="#4a80b8" stroke-width="0.75"/>
<line x1="66.20" y1="92.70" x2="69.92" y2="95.70" stroke="#5c9c64" stroke-width="0.75"/>
<line x1="73.65" y1="92.70" x2="69.92" y2="95.70" stroke="#4a80b8" stroke-width="0.75"/>
<line x1="66.20" y1="95.10" x2="69.92" y2="98.10" stroke="#5c9c64" stroke-width="0.75"/>
<line x1="73.65" y1="95.10" x2="69.92" y2="98.10" stroke="#4a80b8" stroke-width="0.75"/>
<line x1="66.20" y1="97.50" x2="69.92" y2="100.50" stroke="#5c9c64" stroke-width="0.75"/>
<line x1="73.65" y1="97.50" x2="69.92" y2="100.50" stroke="#4a80b8" stroke-width="0.75"/>
<line x1="66.20" y1="99.90" x2="69.92" y2="102.90" stroke="#5c9c64" stroke-width="0.75"/>
<line x1="73.65" y1="99.90" x2="69.92" y2="102.90" stroke="#4a80b8" stroke-width="0.75"/>
<line x1="66.20" y1="102.30" x2="69.92" y2="105.30" stroke="#5c9c64" stroke-width="0.75"/>
<line x1="73.65" y1="102.30" x2="69.92" y2="105.30" stroke="#4a80b8" stroke-width="0.75"/>
<line x1="73.65" y1="85.50" x2="77.37" y2="88.50" stroke="#5c9c64" stroke-width="0.75"/>
<line x1="81.10" y1="85.50" x2="77.37" y2="88.50" stroke="#4a80b8" stroke-width="0.75"/>
<line x1="73.65" y1="87.90" x2="77.37" y2="90.90" stroke="#5c9c64" stroke-width="0.75"/>
<line x1="81.10" y1="87.90" x2="77.37" y2="90.90" stroke="#4a80b8" stroke-width="0.75"/>
<line x1="73.65" y1="90.30" x2="77.37" y2="93.30" stroke="#5c9c64" stroke-width="0.75"/>
<line x1="81.10" y1="90.30" x2="77.37" y2="93.30" stroke="#4a80b8" stroke-width="0.75"/>
<line x1="73.65" y1="92.70" x2="77.37" y2="95.70" stroke="#5c9c64" stroke-width="0.75"/>
<line x1="81.10" y1="92.70" x2="77.37" y2="95.70" stroke="#4a80b8" stroke-width="0.75"/>
<line x1="73.65" y1="95.10" x2="77.37" y2="98.10" stroke="#5c9c64" stroke-width="0.75"/>
<line x1="81.10" y1="95.10" x2="77.37" y2="98.10" stroke="#4a80b8" stroke-width="0.75"/>
<line x1="73.65" y1="97.50" x2="77.37" y2="100.50" stroke="#5c9c64" stroke-width="0.75"/>
<line x1="81.10" y1="97.50" x2="77.37" y2="100.50" stroke="#4a80b8" stroke-width="0.75"/>
<line x1="73.65" y1="99.90" x2="77.37" y2="102.90" stroke="#5c9c64" stroke-width="0.75"/>
<line x1="81.10" y1="99.90" x2="77.37" y2="102.90" stroke="#4a80b8" stroke-width="0.75"/>
<line x1="73.65" y1="102.30" x2="77.37" y2="105.30" stroke="#5c9c64" stroke-width="0.75"/>
<line x1="81.10" y1="102.30" x2="77.37" y2="105.30" stroke="#4a80b8" stroke-width="0.75"/>
<line x1="81.10" y1="85.50" x2="84.82" y2="88.50" stroke="#5c9c64" stroke-width="0.75"/>
<line x1="88.55" y1="85.50" x2="84.82" y2="88.50" stroke="#4a80b8" stroke-width="0.75"/>
<line x1="81.10" y1="87.90" x2="84.82" y2="90.90" stroke="#5c9c64" stroke-width="0.75"/>
<line x1="88.55" y1="87.90" x2="84.82" y2="90.90" stroke="#4a80b8" stroke-width="0.75"/>
<line x1="81.10" y1="90.30" x2="84.82" y2="93.30" stroke="#5c9c64" stroke-width="0.75"/>
<line x1="88.55" y1="90.30" x2="84.82" y2="93.30" stroke="#4a80b8" stroke-width="0.75"/>
<line x1="81.10" y1="92.70" x2="84.82" y2="95.70" stroke="#5c9c64" stroke-width="0.75"/>
<line x1="88.55" y1="92.70" x2="84.82" y2="95.70" stroke="#4a80b8" stroke-width="0.75"/>
<line x1="81.10" y1="95.10" x2="84.82" y2="98.10" stroke="#5c9c64" stroke-width="0.75"/>
<line x1="88.55" y1="95.10" x2="84.82" y2="98.10" stroke="#4a80b8" stroke-width="0.75"/>
<line x1="81.10" y1="97.50" x2="84.82" y2="100.50" stroke="#5c9c64" stroke-width="0.75"/>
<line x1="88.55" y1="97.50" x2="84.82" y2="100.50" stroke="#4a80b8" stroke-width="0.75"/>
<line x1="81.10" y1="99.90" x2="84.82" y2="102.90" stroke="#5c9c64" stroke-width="0.75"/>
<line x1="88.55" y1="99.90" x2="84.82" y2="102.90" stroke="#4a80b8" stroke-width="0.75"/>
<line x1="81.10" y1="102.30" x2="84.82" y2="105.30" stroke="#5c9c64" stroke-width="0.75"/>
<line x1="88.55" y1="102.30" x2="84.82" y2="105.30" stroke="#4a80b8" stroke-width="0.75"/>
<line x1="88.55" y1="85.50" x2="92.27" y2="88.50" stroke="#5c9c64" stroke-width="0.75"/>
<line x1="96.00" y1="85.50" x2="92.27" y2="88.50" stroke="#4a80b8" stroke-width="0.75"/>
<line x1="88.55" y1="87.90" x2="92.27" y2="90.90" stroke="#5c9c64" stroke-width="0.75"/>
<line x1="96.00" y1="87.90" x2="92.27" y2="90.90" stroke="#4a80b8" stroke-width="0.75"/>
<line x1="88.55" y1="90.30" x2="92.27" y2="93.30" stroke="#5c9c64" stroke-width="0.75"/>
<line x1="96.00" y1="90.30" x2="92.27" y2="93.30" stroke="#4a80b8" stroke-width="0.75"/>
<line x1="88.55" y1="92.70" x2="92.27" y2="95.70" stroke="#5c9c64" stroke-width="0.75"/>
<line x1="96.00" y1="92.70" x2="92.27" y2="95.70" stroke="#4a80b8" stroke-width="0.75"/>
<line x1="88.55" y1="95.10" x2="92.27" y2="98.10" stroke="#5c9c64" stroke-width="0.75"/>
<line x1="96.00" y1="95.10" x2="92.27" y2="98.10" stroke="#4a80b8" stroke-width="0.75"/>
<line x1="88.55" y1="97.50" x2="92.27" y2="100.50" stroke="#5c9c64" stroke-width="0.75"/>
<line x1="96.00" y1="97.50" x2="92.27" y2="100.50" stroke="#4a80b8" stroke-width="0.75"/>
<line x1="88.55" y1="99.90" x2="92.27" y2="102.90" stroke="#5c9c64" stroke-width="0.75"/>
<line x1="96.00" y1="99.90" x2="92.27" y2="102.90" stroke="#4a80b8" stroke-width="0.75"/>
<line x1="88.55" y1="102.30" x2="92.27" y2="105.30" stroke="#5c9c64" stroke-width="0.75"/>
<line x1="96.00" y1="102.30" x2="92.27" y2="105.30" stroke="#4a80b8" stroke-width="0.75"/>
<line x1="96.00" y1="85.50" x2="99.72" y2="88.50" stroke="#5c9c64" stroke-width="0.75"/>
<line x1="103.45" y1="85.50" x2="99.72" y2="88.50" stroke="#4a80b8" stroke-width="0.75"/>
<line x1="96.00" y1="87.90" x2="99.72" y2="90.90" stroke="#5c9c64" stroke-width="0.75"/>
<line x1="103.45" y1="87.90" x2="99.72" y2="90.90" stroke="#4a80b8" stroke-width="0.75"/>
<line x1="96.00" y1="90.30" x2="99.72" y2="93.30" stroke="#5c9c64" stroke-width="0.75"/>
<line x1="103.45" y1="90.30" x2="99.72" y2="93.30" stroke="#4a80b8" stroke-width="0.75"/>
<line x1="96.00" y1="92.70" x2="99.72" y2="95.70" stroke="#5c9c64" stroke-width="0.75"/>
<line x1="103.45" y1="92.70" x2="99.72" y2="95.70" stroke="#4a80b8" stroke-width="0.75"/>
<line x1="96.00" y1="95.10" x2="99.72" y2="98.10" stroke="#5c9c64" stroke-width="0.75"/>
<line x1="103.45" y1="95.10" x2="99.72" y2="98.10" stroke="#4a80b8" stroke-width="0.75"/>
<line x1="96.00" y1="97.50" x2="99.72" y2="100.50" stroke="#5c9c64" stroke-width="0.75"/>
<line x1="103.45" y1="97.50" x2="99.72" y2="100.50" stroke="#4a80b8" stroke-width="0.75"/>
<line x1="96.00" y1="99.90" x2="99.72" y2="102.90" stroke="#5c9c64" stroke-width="0.75"/>
<line x1="103.45" y1="99.90" x2="99.72" y2="102.90" stroke="#4a80b8" stroke-width="0.75"/>
<line x1="96.00" y1="102.30" x2="99.72" y2="105.30" stroke="#5c9c64" stroke-width="0.75"/>
<line x1="103.45" y1="102.30" x2="99.72" y2="105.30" stroke="#4a80b8" stroke-width="0.75"/>
<line x1="103.45" y1="85.50" x2="107.17" y2="88.50" stroke="#5c9c64" stroke-width="0.75"/>
<line x1="110.90" y1="85.50" x2="107.17" y2="88.50" stroke="#4a80b8" stroke-width="0.75"/>
<line x1="103.45" y1="87.90" x2="107.17" y2="90.90" stroke="#5c9c64" stroke-width="0.75"/>
<line x1="110.90" y1="87.90" x2="107.17" y2="90.90" stroke="#4a80b8" stroke-width="0.75"/>
<line x1="103.45" y1="90.30" x2="107.17" y2="93.30" stroke="#5c9c64" stroke-width="0.75"/>
<line x1="110.90" y1="90.30" x2="107.17" y2="93.30" stroke="#4a80b8" stroke-width="0.75"/>
<line x1="103.45" y1="92.70" x2="107.17" y2="95.70" stroke="#5c9c64" stroke-width="0.75"/>
<line x1="110.90" y1="92.70" x2="107.17" y2="95.70" stroke="#4a80b8" stroke-width="0.75"/>
<line x1="103.45" y1="95.10" x2="107.17" y2="98.10" stroke="#5c9c64" stroke-width="0.75"/>
<line x1="110.90" y1="95.10" x2="107.17" y2="98.10" stroke="#4a80b8" stroke-width="0.75"/>
<line x1="103.45" y1="97.50" x2="107.17" y2="100.50" stroke="#5c9c64" stroke-width="0.75"/>
<line x1="110.90" y1="97.50" x2="107.17" y2="100.50" stroke="#4a80b8" stroke-width="0.75"/>
<line x1="103.45" y1="99.90" x2="107.17" y2="102.90" stroke="#5c9c64" stroke-width="0.75"/>
<line x1="110.90" y1="99.90" x2="107.17" y2="102.90" stroke="#4a80b8" stroke-width="0.75"/>
<line x1="103.45" y1="102.30" x2="107.17" y2="105.30" stroke="#5c9c64" stroke-width="0.75"/>
<line x1="110.90" y1="102.30" x2="107.17" y2="105.30" stroke="#4a80b8" stroke-width="0.75"/>
<line x1="110.90" y1="85.50" x2="114.62" y2="88.50" stroke="#5c9c64" stroke-width="0.75"/>
<line x1="118.35" y1="85.50" x2="114.62" y2="88.50" stroke="#4a80b8" stroke-width="0.75"/>
<line x1="110.90" y1="87.90" x2="114.62" y2="90.90" stroke="#5c9c64" stroke-width="0.75"/>
<line x1="118.35" y1="87.90" x2="114.62" y2="90.90" stroke="#4a80b8" stroke-width="0.75"/>
<line x1="110.90" y1="90.30" x2="114.62" y2="93.30" stroke="#5c9c64" stroke-width="0.75"/>
<line x1="118.35" y1="90.30" x2="114.62" y2="93.30" stroke="#4a80b8" stroke-width="0.75"/>
<line x1="110.90" y1="92.70" x2="114.62" y2="95.70" stroke="#5c9c64" stroke-width="0.75"/>
<line x1="118.35" y1="92.70" x2="114.62" y2="95.70" stroke="#4a80b8" stroke-width="0.75"/>
<line x1="110.90" y1="95.10" x2="114.62" y2="98.10" stroke="#5c9c64" stroke-width="0.75"/>
<line x1="118.35" y1="95.10" x2="114.62" y2="98.10" stroke="#4a80b8" stroke-width="0.75"/>
<line x1="110.90" y1="97.50" x2="114.62" y2="100.50" stroke="#5c9c64" stroke-width="0.75"/>
<line x1="118.35" y1="97.50" x2="114.62" y2="100.50" stroke="#4a80b8" stroke-width="0.75"/>
<line x1="110.90" y1="99.90" x2="114.62" y2="102.90" stroke="#5c9c64" stroke-width="0.75"/>
<line x1="118.35" y1="99.90" x2="114.62" y2="102.90" stroke="#4a80b8" stroke-width="0.75"/>
<line x1="110.90" y1="102.30" x2="114.62" y2="105.30" stroke="#5c9c64" stroke-width="0.75"/>
<line x1="118.35" y1="102.30" x2="114.62" y2="105.30" stroke="#4a80b8" stroke-width="0.75"/>
<line x1="118.35" y1="85.50" x2="122.07" y2="88.50" stroke="#5c9c64" stroke-width="0.75"/>
<line x1="125.80" y1="85.50" x2="122.07" y2="88.50" stroke="#4a80b8" stroke-width="0.75"/>
<line x1="118.35" y1="87.90" x2="122.07" y2="90.90" stroke="#5c9c64" stroke-width="0.75"/>
<line x1="125.80" y1="87.90" x2="122.07" y2="90.90" stroke="#4a80b8" stroke-width="0.75"/>
<line x1="118.35" y1="90.30" x2="122.07" y2="93.30" stroke="#5c9c64" stroke-width="0.75"/>
<line x1="125.80" y1="90.30" x2="122.07" y2="93.30" stroke="#4a80b8" stroke-width="0.75"/>
<line x1="118.35" y1="92.70" x2="122.07" y2="95.70" stroke="#5c9c64" stroke-width="0.75"/>
<line x1="125.80" y1="92.70" x2="122.07" y2="95.70" stroke="#4a80b8" stroke-width="0.75"/>
<line x1="118.35" y1="95.10" x2="122.07" y2="98.10" stroke="#5c9c64" stroke-width="0.75"/>
<line x1="125.80" y1="95.10" x2="122.07" y2="98.10" stroke="#4a80b8" stroke-width="0.75"/>
<line x1="118.35" y1="97.50" x2="122.07" y2="100.50" stroke="#5c9c64" stroke-width="0.75"/>
<line x1="125.80" y1="97.50" x2="122.07" y2="100.50" stroke="#4a80b8" stroke-width="0.75"/>
<line x1="118.35" y1="99.90" x2="122.07" y2="102.90" stroke="#5c9c64" stroke-width="0.75"/>
<line x1="125.80" y1="99.90" x2="122.07" y2="102.90" stroke="#4a80b8" stroke-width="0.75"/>
<line x1="118.35" y1="102.30" x2="122.07" y2="105.30" stroke="#5c9c64" stroke-width="0.75"/>
<line x1="125.80" y1="102.30" x2="122.07" y2="105.30" stroke="#4a80b8" stroke-width="0.75"/>
<line x1="125.80" y1="85.50" x2="129.52" y2="88.50" stroke="#5c9c64" stroke-width="0.75"/>
<line x1="133.25" y1="85.50" x2="129.52" y2="88.50" stroke="#4a80b8" stroke-width="0.75"/>
<line x1="125.80" y1="87.90" x2="129.52" y2="90.90" stroke="#5c9c64" stroke-width="0.75"/>
<line x1="133.25" y1="87.90" x2="129.52" y2="90.90" stroke="#4a80b8" stroke-width="0.75"/>
<line x1="125.80" y1="90.30" x2="129.52" y2="93.30" stroke="#5c9c64" stroke-width="0.75"/>
<line x1="133.25" y1="90.30" x2="129.52" y2="93.30" stroke="#4a80b8" stroke-width="0.75"/>
<line x1="125.80" y1="92.70" x2="129.52" y2="95.70" stroke="#5c9c64" stroke-width="0.75"/>
<line x1="133.25" y1="92.70" x2="129.52" y2="95.70" stroke="#4a80b8" stroke-width="0.75"/>
<line x1="125.80" y1="95.10" x2="129.52" y2="98.10" stroke="#5c9c64" stroke-width="0.75"/>
<line x1="133.25" y1="95.10" x2="129.52" y2="98.10" stroke="#4a80b8" stroke-width="0.75"/>
<line x1="125.80" y1="97.50" x2="129.52" y2="100.50" stroke="#5c9c64" stroke-width="0.75"/>
<line x1="133.25" y1="97.50" x2="129.52" y2="100.50" stroke="#4a80b8" stroke-width="0.75"/>
<line x1="125.80" y1="99.90" x2="129.52" y2="102.90" stroke="#5c9c64" stroke-width="0.75"/>
<line x1="133.25" y1="99.90" x2="129.52" y2="102.90" stroke="#4a80b8" stroke-width="0.75"/>
<line x1="125.80" y1="102.30" x2="129.52" y2="105.30" stroke="#5c9c64" stroke-width="0.75"/>
<line x1="133.25" y1="102.30" x2="129.52" y2="105.30" stroke="#4a80b8" stroke-width="0.75"/>
<line x1="133.25" y1="85.50" x2="136.97" y2="88.50" stroke="#5c9c64" stroke-width="0.75"/>
<line x1="140.70" y1="85.50" x2="136.97" y2="88.50" stroke="#4a80b8" stroke-width="0.75"/>
<line x1="133.25" y1="87.90" x2="136.97" y2="90.90" stroke="#5c9c64" stroke-width="0.75"/>
<line x1="140.70" y1="87.90" x2="136.97" y2="90.90" stroke="#4a80b8" stroke-width="0.75"/>
<line x1="133.25" y1="90.30" x2="136.97" y2="93.30" stroke="#5c9c64" stroke-width="0.75"/>
<line x1="140.70" y1="90.30" x2="136.97" y2="93.30" stroke="#4a80b8" stroke-width="0.75"/>
<line x1="133.25" y1="92.70" x2="136.97" y2="95.70" stroke="#5c9c64" stroke-width="0.75"/>
<line x1="140.70" y1="92.70" x2="136.97" y2="95.70" stroke="#4a80b8" stroke-width="0.75"/>
<line x1="133.25" y1="95.10" x2="136.97" y2="98.10" stroke="#5c9c64" stroke-width="0.75"/>
<line x1="140.70" y1="95.10" x2="136.97" y2="98.10" stroke="#4a80b8" stroke-width="0.75"/>
<line x1="133.25" y1="97.50" x2="136.97" y2="100.50" stroke="#5c9c64" stroke-width="0.75"/>
<line x1="140.70" y1="97.50" x2="136.97" y2="100.50" stroke="#4a80b8" stroke-width="0.75"/>
<line x1="133.25" y1="99.90" x2="136.97" y2="102.90" stroke="#5c9c64" stroke-width="0.75"/>
<line x1="140.70" y1="99.90" x2="136.97" y2="102.90" stroke="#4a80b8" stroke-width="0.75"/>
<line x1="133.25" y1="102.30" x2="136.97" y2="105.30" stroke="#5c9c64" stroke-width="0.75"/>
<line x1="140.70" y1="102.30" x2="136.97" y2="105.30" stroke="#4a80b8" stroke-width="0.75"/>
<line x1="140.70" y1="85.50" x2="144.42" y2="88.50" stroke="#5c9c64" stroke-width="0.75"/>
<line x1="148.15" y1="85.50" x2="144.42" y2="88.50" stroke="#4a80b8" stroke-width="0.75"/>
<line x1="140.70" y1="87.90" x2="144.42" y2="90.90" stroke="#5c9c64" stroke-width="0.75"/>
<line x1="148.15" y1="87.90" x2="144.42" y2="90.90" stroke="#4a80b8" stroke-width="0.75"/>
<line x1="140.70" y1="90.30" x2="144.42" y2="93.30" stroke="#5c9c64" stroke-width="0.75"/>
<line x1="148.15" y1="90.30" x2="144.42" y2="93.30" stroke="#4a80b8" stroke-width="0.75"/>
<line x1="140.70" y1="92.70" x2="144.42" y2="95.70" stroke="#5c9c64" stroke-width="0.75"/>
<line x1="148.15" y1="92.70" x2="144.42" y2="95.70" stroke="#4a80b8" stroke-width="0.75"/>
<line x1="140.70" y1="95.10" x2="144.42" y2="98.10" stroke="#5c9c64" stroke-width="0.75"/>
<line x1="148.15" y1="95.10" x2="144.42" y2="98.10" stroke="#4a80b8" stroke-width="0.75"/>
<line x1="140.70" y1="97.50" x2="144.42" y2="100.50" stroke="#5c9c64" stroke-width="0.75"/>
<line x1="148.15" y1="97.50" x2="144.42" y2="100.50" stroke="#4a80b8" stroke-width="0.75"/>
<line x1="140.70" y1="99.90" x2="144.42" y2="102.90" stroke="#5c9c64" stroke-width="0.75"/>
<line x1="148.15" y1="99.90" x2="144.42" y2="102.90" stroke="#4a80b8" stroke-width="0.75"/>
<line x1="140.70" y1="102.30" x2="144.42" y2="105.30" stroke="#5c9c64" stroke-width="0.75"/>
<line x1="148.15" y1="102.30" x2="144.42" y2="105.30" stroke="#4a80b8" stroke-width="0.75"/>
<line x1="148.15" y1="85.50" x2="151.87" y2="88.50" stroke="#5c9c64" stroke-width="0.75"/>
<line x1="155.60" y1="85.50" x2="151.87" y2="88.50" stroke="#4a80b8" stroke-width="0.75"/>
<line x1="148.15" y1="87.90" x2="151.87" y2="90.90" stroke="#5c9c64" stroke-width="0.75"/>
<line x1="155.60" y1="87.90" x2="151.87" y2="90.90" stroke="#4a80b8" stroke-width="0.75"/>
<line x1="148.15" y1="90.30" x2="151.87" y2="93.30" stroke="#5c9c64" stroke-width="0.75"/>
<line x1="155.60" y1="90.30" x2="151.87" y2="93.30" stroke="#4a80b8" stroke-width="0.75"/>
<line x1="148.15" y1="92.70" x2="151.87" y2="95.70" stroke="#5c9c64" stroke-width="0.75"/>
<line x1="155.60" y1="92.70" x2="151.87" y2="95.70" stroke="#4a80b8" stroke-width="0.75"/>
<line x1="148.15" y1="95.10" x2="151.87" y2="98.10" stroke="#5c9c64" stroke-width="0.75"/>
<line x1="155.60" y1="95.10" x2="151.87" y2="98.10" stroke="#4a80b8" stroke-width="0.75"/>
<line x1="148.15" y1="97.50" x2="151.87" y2="100.50" stroke="#5c9c64" stroke-width="0.75"/>
<line x1="155.60" y1="97.50" x2="151.87" y2="100.50" stroke="#4a80b8" stroke-width="0.75"/>
<line x1="148.15" y1="99.90" x2="151.87" y2="102.90" stroke="#5c9c64" stroke-width="0.75"/>
<line x1="155.60" y1="99.90" x2="151.87" y2="102.90" stroke="#4a80b8" stroke-width="0.75"/>
<line x1="148.15" y1="102.30" x2="151.87" y2="105.30" stroke="#5c9c64" stroke-width="0.75"/>
<line x1="155.60" y1="102.30" x2="151.87" y2="105.30" stroke="#4a80b8" stroke-width="0.75"/>
<line x1="155.60" y1="85.50" x2="159.32" y2="88.50" stroke="#5c9c64" stroke-width="0.75"/>
<line x1="155.60" y1="87.90" x2="159.32" y2="90.90" stroke="#5c9c64" stroke-width="0.75"/>
<line x1="155.60" y1="90.30" x2="159.32" y2="93.30" stroke="#5c9c64" stroke-width="0.75"/>
<line x1="155.60" y1="92.70" x2="159.32" y2="95.70" stroke="#5c9c64" stroke-width="0.75"/>
<line x1="155.60" y1="95.10" x2="159.32" y2="98.10" stroke="#5c9c64" stroke-width="0.75"/>
<line x1="155.60" y1="97.50" x2="159.32" y2="100.50" stroke="#5c9c64" stroke-width="0.75"/>
<line x1="155.60" y1="99.90" x2="159.32" y2="102.90" stroke="#5c9c64" stroke-width="0.75"/>
<line x1="155.60" y1="102.30" x2="159.32" y2="105.30" stroke="#5c9c64" stroke-width="0.75"/>
</g>
<line x1="6.60" y1="86" x2="6.60" y2="117" stroke="#5f9e30" stroke-width="1.6"/>
<circle cx="6.60" cy="85.60" r="1.50" fill="url(#gG)"/>
<circle cx="6.60" cy="88.40" r="1.60" fill="url(#gG)"/>
<circle cx="6.60" cy="91.20" r="1.70" fill="url(#gG)"/>
<circle cx="6.60" cy="94.00" r="1.80" fill="url(#gG)"/>
<circle cx="6.60" cy="96.80" r="1.90" fill="url(#gG)"/>
<circle cx="6.60" cy="99.60" r="2.00" fill="url(#gG)"/>
<circle cx="6.60" cy="102.20" r="2.10" fill="url(#gG)"/>
<line x1="14.05" y1="86" x2="14.05" y2="117" stroke="#5f9e30" stroke-width="1.6"/>
<circle cx="14.05" cy="85.60" r="1.50" fill="url(#gG)"/>
<circle cx="14.05" cy="88.40" r="1.60" fill="url(#gG)"/>
<circle cx="14.05" cy="91.20" r="1.70" fill="url(#gG)"/>
<circle cx="14.05" cy="94.00" r="1.80" fill="url(#gG)"/>
<circle cx="14.05" cy="96.80" r="1.90" fill="url(#gG)"/>
<circle cx="14.05" cy="99.60" r="2.00" fill="url(#gG)"/>
<circle cx="14.05" cy="102.20" r="2.10" fill="url(#gG)"/>
<line x1="21.50" y1="86" x2="21.50" y2="117" stroke="#5f9e30" stroke-width="1.6"/>
<circle cx="21.50" cy="85.60" r="1.50" fill="url(#gG)"/>
<circle cx="21.50" cy="88.40" r="1.60" fill="url(#gG)"/>
<circle cx="21.50" cy="91.20" r="1.70" fill="url(#gG)"/>
<circle cx="21.50" cy="94.00" r="1.80" fill="url(#gG)"/>
<circle cx="21.50" cy="96.80" r="1.90" fill="url(#gG)"/>
<circle cx="21.50" cy="99.60" r="2.00" fill="url(#gG)"/>
<circle cx="21.50" cy="102.20" r="2.10" fill="url(#gG)"/>
<line x1="28.95" y1="86" x2="28.95" y2="117" stroke="#5f9e30" stroke-width="1.6"/>
<circle cx="28.95" cy="85.60" r="1.50" fill="url(#gG)"/>
<circle cx="28.95" cy="88.40" r="1.60" fill="url(#gG)"/>
<circle cx="28.95" cy="91.20" r="1.70" fill="url(#gG)"/>
<circle cx="28.95" cy="94.00" r="1.80" fill="url(#gG)"/>
<circle cx="28.95" cy="96.80" r="1.90" fill="url(#gG)"/>
<circle cx="28.95" cy="99.60" r="2.00" fill="url(#gG)"/>
<circle cx="28.95" cy="102.20" r="2.10" fill="url(#gG)"/>
<line x1="36.40" y1="86" x2="36.40" y2="117" stroke="#5f9e30" stroke-width="1.6"/>
<circle cx="36.40" cy="85.60" r="1.50" fill="url(#gG)"/>
<circle cx="36.40" cy="88.40" r="1.60" fill="url(#gG)"/>
<circle cx="36.40" cy="91.20" r="1.70" fill="url(#gG)"/>
<circle cx="36.40" cy="94.00" r="1.80" fill="url(#gG)"/>
<circle cx="36.40" cy="96.80" r="1.90" fill="url(#gG)"/>
<circle cx="36.40" cy="99.60" r="2.00" fill="url(#gG)"/>
<circle cx="36.40" cy="102.20" r="2.10" fill="url(#gG)"/>
<line x1="43.85" y1="86" x2="43.85" y2="117" stroke="#5f9e30" stroke-width="1.6"/>
<circle cx="43.85" cy="85.60" r="1.50" fill="url(#gG)"/>
<circle cx="43.85" cy="88.40" r="1.60" fill="url(#gG)"/>
<circle cx="43.85" cy="91.20" r="1.70" fill="url(#gG)"/>
<circle cx="43.85" cy="94.00" r="1.80" fill="url(#gG)"/>
<circle cx="43.85" cy="96.80" r="1.90" fill="url(#gG)"/>
<circle cx="43.85" cy="99.60" r="2.00" fill="url(#gG)"/>
<circle cx="43.85" cy="102.20" r="2.10" fill="url(#gG)"/>
<line x1="51.30" y1="86" x2="51.30" y2="117" stroke="#5f9e30" stroke-width="1.6"/>
<circle cx="51.30" cy="85.60" r="1.50" fill="url(#gG)"/>
<circle cx="51.30" cy="88.40" r="1.60" fill="url(#gG)"/>
<circle cx="51.30" cy="91.20" r="1.70" fill="url(#gG)"/>
<circle cx="51.30" cy="94.00" r="1.80" fill="url(#gG)"/>
<circle cx="51.30" cy="96.80" r="1.90" fill="url(#gG)"/>
<circle cx="51.30" cy="99.60" r="2.00" fill="url(#gG)"/>
<circle cx="51.30" cy="102.20" r="2.10" fill="url(#gG)"/>
<line x1="58.75" y1="86" x2="58.75" y2="117" stroke="#5f9e30" stroke-width="1.6"/>
<circle cx="58.75" cy="85.60" r="1.50" fill="url(#gG)"/>
<circle cx="58.75" cy="88.40" r="1.60" fill="url(#gG)"/>
<circle cx="58.75" cy="91.20" r="1.70" fill="url(#gG)"/>
<circle cx="58.75" cy="94.00" r="1.80" fill="url(#gG)"/>
<circle cx="58.75" cy="96.80" r="1.90" fill="url(#gG)"/>
<circle cx="58.75" cy="99.60" r="2.00" fill="url(#gG)"/>
<circle cx="58.75" cy="102.20" r="2.10" fill="url(#gG)"/>
<line x1="66.20" y1="86" x2="66.20" y2="117" stroke="#5f9e30" stroke-width="1.6"/>
<circle cx="66.20" cy="85.60" r="1.50" fill="url(#gG)"/>
<circle cx="66.20" cy="88.40" r="1.60" fill="url(#gG)"/>
<circle cx="66.20" cy="91.20" r="1.70" fill="url(#gG)"/>
<circle cx="66.20" cy="94.00" r="1.80" fill="url(#gG)"/>
<circle cx="66.20" cy="96.80" r="1.90" fill="url(#gG)"/>
<circle cx="66.20" cy="99.60" r="2.00" fill="url(#gG)"/>
<circle cx="66.20" cy="102.20" r="2.10" fill="url(#gG)"/>
<line x1="73.65" y1="86" x2="73.65" y2="117" stroke="#5f9e30" stroke-width="1.6"/>
<circle cx="73.65" cy="85.60" r="1.50" fill="url(#gG)"/>
<circle cx="73.65" cy="88.40" r="1.60" fill="url(#gG)"/>
<circle cx="73.65" cy="91.20" r="1.70" fill="url(#gG)"/>
<circle cx="73.65" cy="94.00" r="1.80" fill="url(#gG)"/>
<circle cx="73.65" cy="96.80" r="1.90" fill="url(#gG)"/>
<circle cx="73.65" cy="99.60" r="2.00" fill="url(#gG)"/>
<circle cx="73.65" cy="102.20" r="2.10" fill="url(#gG)"/>
<line x1="81.10" y1="86" x2="81.10" y2="117" stroke="#5f9e30" stroke-width="1.6"/>
<circle cx="81.10" cy="85.60" r="1.50" fill="url(#gG)"/>
<circle cx="81.10" cy="88.40" r="1.60" fill="url(#gG)"/>
<circle cx="81.10" cy="91.20" r="1.70" fill="url(#gG)"/>
<circle cx="81.10" cy="94.00" r="1.80" fill="url(#gG)"/>
<circle cx="81.10" cy="96.80" r="1.90" fill="url(#gG)"/>
<circle cx="81.10" cy="99.60" r="2.00" fill="url(#gG)"/>
<circle cx="81.10" cy="102.20" r="2.10" fill="url(#gG)"/>
<line x1="88.55" y1="86" x2="88.55" y2="117" stroke="#5f9e30" stroke-width="1.6"/>
<circle cx="88.55" cy="85.60" r="1.50" fill="url(#gG)"/>
<circle cx="88.55" cy="88.40" r="1.60" fill="url(#gG)"/>
<circle cx="88.55" cy="91.20" r="1.70" fill="url(#gG)"/>
<circle cx="88.55" cy="94.00" r="1.80" fill="url(#gG)"/>
<circle cx="88.55" cy="96.80" r="1.90" fill="url(#gG)"/>
<circle cx="88.55" cy="99.60" r="2.00" fill="url(#gG)"/>
<circle cx="88.55" cy="102.20" r="2.10" fill="url(#gG)"/>
<line x1="96.00" y1="86" x2="96.00" y2="117" stroke="#5f9e30" stroke-width="1.6"/>
<circle cx="96.00" cy="85.60" r="1.50" fill="url(#gG)"/>
<circle cx="96.00" cy="88.40" r="1.60" fill="url(#gG)"/>
<circle cx="96.00" cy="91.20" r="1.70" fill="url(#gG)"/>
<circle cx="96.00" cy="94.00" r="1.80" fill="url(#gG)"/>
<circle cx="96.00" cy="96.80" r="1.90" fill="url(#gG)"/>
<circle cx="96.00" cy="99.60" r="2.00" fill="url(#gG)"/>
<circle cx="96.00" cy="102.20" r="2.10" fill="url(#gG)"/>
<line x1="103.45" y1="86" x2="103.45" y2="117" stroke="#5f9e30" stroke-width="1.6"/>
<circle cx="103.45" cy="85.60" r="1.50" fill="url(#gG)"/>
<circle cx="103.45" cy="88.40" r="1.60" fill="url(#gG)"/>
<circle cx="103.45" cy="91.20" r="1.70" fill="url(#gG)"/>
<circle cx="103.45" cy="94.00" r="1.80" fill="url(#gG)"/>
<circle cx="103.45" cy="96.80" r="1.90" fill="url(#gG)"/>
<circle cx="103.45" cy="99.60" r="2.00" fill="url(#gG)"/>
<circle cx="103.45" cy="102.20" r="2.10" fill="url(#gG)"/>
<line x1="110.90" y1="86" x2="110.90" y2="117" stroke="#5f9e30" stroke-width="1.6"/>
<circle cx="110.90" cy="85.60" r="1.50" fill="url(#gG)"/>
<circle cx="110.90" cy="88.40" r="1.60" fill="url(#gG)"/>
<circle cx="110.90" cy="91.20" r="1.70" fill="url(#gG)"/>
<circle cx="110.90" cy="94.00" r="1.80" fill="url(#gG)"/>
<circle cx="110.90" cy="96.80" r="1.90" fill="url(#gG)"/>
<circle cx="110.90" cy="99.60" r="2.00" fill="url(#gG)"/>
<circle cx="110.90" cy="102.20" r="2.10" fill="url(#gG)"/>
<line x1="118.35" y1="86" x2="118.35" y2="117" stroke="#5f9e30" stroke-width="1.6"/>
<circle cx="118.35" cy="85.60" r="1.50" fill="url(#gG)"/>
<circle cx="118.35" cy="88.40" r="1.60" fill="url(#gG)"/>
<circle cx="118.35" cy="91.20" r="1.70" fill="url(#gG)"/>
<circle cx="118.35" cy="94.00" r="1.80" fill="url(#gG)"/>
<circle cx="118.35" cy="96.80" r="1.90" fill="url(#gG)"/>
<circle cx="118.35" cy="99.60" r="2.00" fill="url(#gG)"/>
<circle cx="118.35" cy="102.20" r="2.10" fill="url(#gG)"/>
<line x1="125.80" y1="86" x2="125.80" y2="117" stroke="#5f9e30" stroke-width="1.6"/>
<circle cx="125.80" cy="85.60" r="1.50" fill="url(#gG)"/>
<circle cx="125.80" cy="88.40" r="1.60" fill="url(#gG)"/>
<circle cx="125.80" cy="91.20" r="1.70" fill="url(#gG)"/>
<circle cx="125.80" cy="94.00" r="1.80" fill="url(#gG)"/>
<circle cx="125.80" cy="96.80" r="1.90" fill="url(#gG)"/>
<circle cx="125.80" cy="99.60" r="2.00" fill="url(#gG)"/>
<circle cx="125.80" cy="102.20" r="2.10" fill="url(#gG)"/>
<line x1="133.25" y1="86" x2="133.25" y2="117" stroke="#5f9e30" stroke-width="1.6"/>
<circle cx="133.25" cy="85.60" r="1.50" fill="url(#gG)"/>
<circle cx="133.25" cy="88.40" r="1.60" fill="url(#gG)"/>
<circle cx="133.25" cy="91.20" r="1.70" fill="url(#gG)"/>
<circle cx="133.25" cy="94.00" r="1.80" fill="url(#gG)"/>
<circle cx="133.25" cy="96.80" r="1.90" fill="url(#gG)"/>
<circle cx="133.25" cy="99.60" r="2.00" fill="url(#gG)"/>
<circle cx="133.25" cy="102.20" r="2.10" fill="url(#gG)"/>
<line x1="140.70" y1="86" x2="140.70" y2="117" stroke="#5f9e30" stroke-width="1.6"/>
<circle cx="140.70" cy="85.60" r="1.50" fill="url(#gG)"/>
<circle cx="140.70" cy="88.40" r="1.60" fill="url(#gG)"/>
<circle cx="140.70" cy="91.20" r="1.70" fill="url(#gG)"/>
<circle cx="140.70" cy="94.00" r="1.80" fill="url(#gG)"/>
<circle cx="140.70" cy="96.80" r="1.90" fill="url(#gG)"/>
<circle cx="140.70" cy="99.60" r="2.00" fill="url(#gG)"/>
<circle cx="140.70" cy="102.20" r="2.10" fill="url(#gG)"/>
<line x1="148.15" y1="86" x2="148.15" y2="117" stroke="#5f9e30" stroke-width="1.6"/>
<circle cx="148.15" cy="85.60" r="1.50" fill="url(#gG)"/>
<circle cx="148.15" cy="88.40" r="1.60" fill="url(#gG)"/>
<circle cx="148.15" cy="91.20" r="1.70" fill="url(#gG)"/>
<circle cx="148.15" cy="94.00" r="1.80" fill="url(#gG)"/>
<circle cx="148.15" cy="96.80" r="1.90" fill="url(#gG)"/>
<circle cx="148.15" cy="99.60" r="2.00" fill="url(#gG)"/>
<circle cx="148.15" cy="102.20" r="2.10" fill="url(#gG)"/>
<line x1="155.60" y1="86" x2="155.60" y2="117" stroke="#5f9e30" stroke-width="1.6"/>
<circle cx="155.60" cy="85.60" r="1.50" fill="url(#gG)"/>
<circle cx="155.60" cy="88.40" r="1.60" fill="url(#gG)"/>
<circle cx="155.60" cy="91.20" r="1.70" fill="url(#gG)"/>
<circle cx="155.60" cy="94.00" r="1.80" fill="url(#gG)"/>
<circle cx="155.60" cy="96.80" r="1.90" fill="url(#gG)"/>
<circle cx="155.60" cy="99.60" r="2.00" fill="url(#gG)"/>
<circle cx="155.60" cy="102.20" r="2.10" fill="url(#gG)"/>
<path d="M3.00,103.5 L10.20,111.5 M10.20,103.5 L3.00,111.5" stroke="#3f78c0" stroke-width="1.3"/>
<circle cx="10.32" cy="107.30" r="1.90" fill="url(#gB)"/>
<circle cx="6.60" cy="107.80" r="2.40" fill="url(#gB)"/>
<path d="M4.80,110 L6.60,116.5 L8.40,110" stroke="#6aa838" stroke-width="1.1" fill="none"/>
<circle cx="6.60" cy="117.00" r="2.00" fill="url(#gG)"/>
<path d="M10.45,103.5 L17.65,111.5 M17.65,103.5 L10.45,111.5" stroke="#3f78c0" stroke-width="1.3"/>
<circle cx="17.77" cy="107.30" r="1.90" fill="url(#gB)"/>
<circle cx="14.05" cy="107.80" r="2.40" fill="url(#gB)"/>
<path d="M12.25,110 L14.05,116.5 L15.85,110" stroke="#6aa838" stroke-width="1.1" fill="none"/>
<circle cx="14.05" cy="117.00" r="2.00" fill="url(#gG)"/>
<path d="M17.90,103.5 L25.10,111.5 M25.10,103.5 L17.90,111.5" stroke="#3f78c0" stroke-width="1.3"/>
<circle cx="25.22" cy="107.30" r="1.90" fill="url(#gB)"/>
<circle cx="21.50" cy="107.80" r="2.40" fill="url(#gB)"/>
<path d="M19.70,110 L21.50,116.5 L23.30,110" stroke="#6aa838" stroke-width="1.1" fill="none"/>
<circle cx="21.50" cy="117.00" r="2.00" fill="url(#gG)"/>
<path d="M25.35,103.5 L32.55,111.5 M32.55,103.5 L25.35,111.5" stroke="#3f78c0" stroke-width="1.3"/>
<circle cx="32.67" cy="107.30" r="1.90" fill="url(#gB)"/>
<circle cx="28.95" cy="107.80" r="2.40" fill="url(#gB)"/>
<path d="M27.15,110 L28.95,116.5 L30.75,110" stroke="#6aa838" stroke-width="1.1" fill="none"/>
<circle cx="28.95" cy="117.00" r="2.00" fill="url(#gG)"/>
<path d="M32.80,103.5 L40.00,111.5 M40.00,103.5 L32.80,111.5" stroke="#3f78c0" stroke-width="1.3"/>
<circle cx="40.12" cy="107.30" r="1.90" fill="url(#gB)"/>
<circle cx="36.40" cy="107.80" r="2.40" fill="url(#gB)"/>
<path d="M34.60,110 L36.40,116.5 L38.20,110" stroke="#6aa838" stroke-width="1.1" fill="none"/>
<circle cx="36.40" cy="117.00" r="2.00" fill="url(#gG)"/>
<path d="M40.25,103.5 L47.45,111.5 M47.45,103.5 L40.25,111.5" stroke="#3f78c0" stroke-width="1.3"/>
<circle cx="47.57" cy="107.30" r="1.90" fill="url(#gB)"/>
<circle cx="43.85" cy="107.80" r="2.40" fill="url(#gB)"/>
<path d="M42.05,110 L43.85,116.5 L45.65,110" stroke="#6aa838" stroke-width="1.1" fill="none"/>
<circle cx="43.85" cy="117.00" r="2.00" fill="url(#gG)"/>
<path d="M47.70,103.5 L54.90,111.5 M54.90,103.5 L47.70,111.5" stroke="#3f78c0" stroke-width="1.3"/>
<circle cx="55.02" cy="107.30" r="1.90" fill="url(#gB)"/>
<circle cx="51.30" cy="107.80" r="2.40" fill="url(#gB)"/>
<path d="M49.50,110 L51.30,116.5 L53.10,110" stroke="#6aa838" stroke-width="1.1" fill="none"/>
<circle cx="51.30" cy="117.00" r="2.00" fill="url(#gG)"/>
<path d="M55.15,103.5 L62.35,111.5 M62.35,103.5 L55.15,111.5" stroke="#3f78c0" stroke-width="1.3"/>
<circle cx="62.47" cy="107.30" r="1.90" fill="url(#gB)"/>
<circle cx="58.75" cy="107.80" r="2.40" fill="url(#gB)"/>
<path d="M56.95,110 L58.75,116.5 L60.55,110" stroke="#6aa838" stroke-width="1.1" fill="none"/>
<circle cx="58.75" cy="117.00" r="2.00" fill="url(#gG)"/>
<path d="M62.60,103.5 L69.80,111.5 M69.80,103.5 L62.60,111.5" stroke="#3f78c0" stroke-width="1.3"/>
<circle cx="69.92" cy="107.30" r="1.90" fill="url(#gB)"/>
<circle cx="66.20" cy="107.80" r="2.40" fill="url(#gB)"/>
<path d="M64.40,110 L66.20,116.5 L68.00,110" stroke="#6aa838" stroke-width="1.1" fill="none"/>
<circle cx="66.20" cy="117.00" r="2.00" fill="url(#gG)"/>
<path d="M70.05,103.5 L77.25,111.5 M77.25,103.5 L70.05,111.5" stroke="#3f78c0" stroke-width="1.3"/>
<circle cx="77.37" cy="107.30" r="1.90" fill="url(#gB)"/>
<circle cx="73.65" cy="107.80" r="2.40" fill="url(#gB)"/>
<path d="M71.85,110 L73.65,116.5 L75.45,110" stroke="#6aa838" stroke-width="1.1" fill="none"/>
<circle cx="73.65" cy="117.00" r="2.00" fill="url(#gG)"/>
<path d="M77.50,103.5 L84.70,111.5 M84.70,103.5 L77.50,111.5" stroke="#3f78c0" stroke-width="1.3"/>
<circle cx="84.82" cy="107.30" r="1.90" fill="url(#gB)"/>
<circle cx="81.10" cy="107.80" r="2.40" fill="url(#gB)"/>
<path d="M79.30,110 L81.10,116.5 L82.90,110" stroke="#6aa838" stroke-width="1.1" fill="none"/>
<circle cx="81.10" cy="117.00" r="2.00" fill="url(#gG)"/>
<path d="M84.95,103.5 L92.15,111.5 M92.15,103.5 L84.95,111.5" stroke="#3f78c0" stroke-width="1.3"/>
<circle cx="92.27" cy="107.30" r="1.90" fill="url(#gB)"/>
<circle cx="88.55" cy="107.80" r="2.40" fill="url(#gB)"/>
<path d="M86.75,110 L88.55,116.5 L90.35,110" stroke="#6aa838" stroke-width="1.1" fill="none"/>
<circle cx="88.55" cy="117.00" r="2.00" fill="url(#gG)"/>
<path d="M92.40,103.5 L99.60,111.5 M99.60,103.5 L92.40,111.5" stroke="#3f78c0" stroke-width="1.3"/>
<circle cx="99.72" cy="107.30" r="1.90" fill="url(#gB)"/>
<circle cx="96.00" cy="107.80" r="2.40" fill="url(#gB)"/>
<path d="M94.20,110 L96.00,116.5 L97.80,110" stroke="#6aa838" stroke-width="1.1" fill="none"/>
<circle cx="96.00" cy="117.00" r="2.00" fill="url(#gG)"/>
<path d="M99.85,103.5 L107.05,111.5 M107.05,103.5 L99.85,111.5" stroke="#3f78c0" stroke-width="1.3"/>
<circle cx="107.17" cy="107.30" r="1.90" fill="url(#gB)"/>
<circle cx="103.45" cy="107.80" r="2.40" fill="url(#gB)"/>
<path d="M101.65,110 L103.45,116.5 L105.25,110" stroke="#6aa838" stroke-width="1.1" fill="none"/>
<circle cx="103.45" cy="117.00" r="2.00" fill="url(#gG)"/>
<path d="M107.30,103.5 L114.50,111.5 M114.50,103.5 L107.30,111.5" stroke="#3f78c0" stroke-width="1.3"/>
<circle cx="114.62" cy="107.30" r="1.90" fill="url(#gB)"/>
<circle cx="110.90" cy="107.80" r="2.40" fill="url(#gB)"/>
<path d="M109.10,110 L110.90,116.5 L112.70,110" stroke="#6aa838" stroke-width="1.1" fill="none"/>
<circle cx="110.90" cy="117.00" r="2.00" fill="url(#gG)"/>
<path d="M114.75,103.5 L121.95,111.5 M121.95,103.5 L114.75,111.5" stroke="#3f78c0" stroke-width="1.3"/>
<circle cx="122.07" cy="107.30" r="1.90" fill="url(#gB)"/>
<circle cx="118.35" cy="107.80" r="2.40" fill="url(#gB)"/>
<path d="M116.55,110 L118.35,116.5 L120.15,110" stroke="#6aa838" stroke-width="1.1" fill="none"/>
<circle cx="118.35" cy="117.00" r="2.00" fill="url(#gG)"/>
<path d="M122.20,103.5 L129.40,111.5 M129.40,103.5 L122.20,111.5" stroke="#3f78c0" stroke-width="1.3"/>
<circle cx="129.52" cy="107.30" r="1.90" fill="url(#gB)"/>
<circle cx="125.80" cy="107.80" r="2.40" fill="url(#gB)"/>
<path d="M124.00,110 L125.80,116.5 L127.60,110" stroke="#6aa838" stroke-width="1.1" fill="none"/>
<circle cx="125.80" cy="117.00" r="2.00" fill="url(#gG)"/>
<path d="M129.65,103.5 L136.85,111.5 M136.85,103.5 L129.65,111.5" stroke="#3f78c0" stroke-width="1.3"/>
<circle cx="136.97" cy="107.30" r="1.90" fill="url(#gB)"/>
<circle cx="133.25" cy="107.80" r="2.40" fill="url(#gB)"/>
<path d="M131.45,110 L133.25,116.5 L135.05,110" stroke="#6aa838" stroke-width="1.1" fill="none"/>
<circle cx="133.25" cy="117.00" r="2.00" fill="url(#gG)"/>
<path d="M137.10,103.5 L144.30,111.5 M144.30,103.5 L137.10,111.5" stroke="#3f78c0" stroke-width="1.3"/>
<circle cx="144.42" cy="107.30" r="1.90" fill="url(#gB)"/>
<circle cx="140.70" cy="107.80" r="2.40" fill="url(#gB)"/>
<path d="M138.90,110 L140.70,116.5 L142.50,110" stroke="#6aa838" stroke-width="1.1" fill="none"/>
<circle cx="140.70" cy="117.00" r="2.00" fill="url(#gG)"/>
<path d="M144.55,103.5 L151.75,111.5 M151.75,103.5 L144.55,111.5" stroke="#3f78c0" stroke-width="1.3"/>
<circle cx="151.87" cy="107.30" r="1.90" fill="url(#gB)"/>
<circle cx="148.15" cy="107.80" r="2.40" fill="url(#gB)"/>
<path d="M146.35,110 L148.15,116.5 L149.95,110" stroke="#6aa838" stroke-width="1.1" fill="none"/>
<circle cx="148.15" cy="117.00" r="2.00" fill="url(#gG)"/>
<path d="M152.00,103.5 L159.20,111.5 M159.20,103.5 L152.00,111.5" stroke="#3f78c0" stroke-width="1.3"/>
<circle cx="159.32" cy="107.30" r="1.90" fill="url(#gB)"/>
<circle cx="155.60" cy="107.80" r="2.40" fill="url(#gB)"/>
<path d="M153.80,110 L155.60,116.5 L157.40,110" stroke="#6aa838" stroke-width="1.1" fill="none"/>
<circle cx="155.60" cy="117.00" r="2.00" fill="url(#gG)"/>
<polygon points="77.0,66.2 80.0,66.2 83.0,66.2 86.0,66.2 89.0,66.2 92.0,66.2 95.0,66.2 98.0,66.2 101.0,66.2 104.0,66.2 107.0,66.2 110.0,66.2 113.0,66.2 116.0,66.2 119.0,66.2 122.0,66.2 125.0,66.2 128.0,66.2 131.0,66.2 134.0,66.2 137.0,66.2 140.0,66.2 143.0,66.2 146.0,66.2 149.0,66.2 152.0,67.2 155.0,68.7 158.0,70.2 161.0,71.7 164.0,73.2 167.0,74.7 170.0,76.2 173.0,77.7 176.0,79.2 179.0,80.7 182.0,82.2 185.0,83.7 186.0,103.5 183.0,102.1 180.0,100.7 177.0,99.3 174.0,97.9 171.0,96.5 168.0,95.1 165.0,93.7 162.0,92.3 159.0,90.9 156.0,89.5 153.0,88.1 150.0,86.7 147.0,85.8 144.0,85.8 141.0,85.8 138.0,85.8 135.0,85.8 132.0,85.8 129.0,85.8 126.0,85.8 123.0,85.8 120.0,85.8 117.0,85.8 114.0,85.8 111.0,85.8 108.0,85.8 105.0,85.8 102.0,85.8 99.0,85.8 96.0,85.8 93.0,85.8 90.0,85.8 87.0,85.8 84.0,85.8 81.0,85.8 78.0,85.8" fill="#cfac6c" opacity="0.7"/>
<line x1="79.00" y1="66.20" x2="82.60" y2="69.00" stroke="#c8a060" stroke-width="0.7"/>
<line x1="86.20" y1="66.20" x2="82.60" y2="69.00" stroke="#7068b8" stroke-width="0.7"/>
<line x1="79.00" y1="68.86" x2="82.60" y2="71.66" stroke="#c8a060" stroke-width="0.7"/>
<line x1="86.20" y1="68.86" x2="82.60" y2="71.66" stroke="#7068b8" stroke-width="0.7"/>
<line x1="79.00" y1="71.51" x2="82.60" y2="74.31" stroke="#c8a060" stroke-width="0.7"/>
<line x1="86.20" y1="71.51" x2="82.60" y2="74.31" stroke="#7068b8" stroke-width="0.7"/>
<line x1="79.00" y1="74.17" x2="82.60" y2="76.97" stroke="#c8a060" stroke-width="0.7"/>
<line x1="86.20" y1="74.17" x2="82.60" y2="76.97" stroke="#7068b8" stroke-width="0.7"/>
<line x1="79.00" y1="76.83" x2="82.60" y2="79.63" stroke="#c8a060" stroke-width="0.7"/>
<line x1="86.20" y1="76.83" x2="82.60" y2="79.63" stroke="#7068b8" stroke-width="0.7"/>
<line x1="79.00" y1="79.49" x2="82.60" y2="82.29" stroke="#c8a060" stroke-width="0.7"/>
<line x1="86.20" y1="79.49" x2="82.60" y2="82.29" stroke="#7068b8" stroke-width="0.7"/>
<line x1="79.00" y1="82.14" x2="82.60" y2="84.94" stroke="#c8a060" stroke-width="0.7"/>
<line x1="86.20" y1="82.14" x2="82.60" y2="84.94" stroke="#7068b8" stroke-width="0.7"/>
<line x1="79.00" y1="84.80" x2="82.60" y2="87.60" stroke="#c8a060" stroke-width="0.7"/>
<line x1="86.20" y1="84.80" x2="82.60" y2="87.60" stroke="#7068b8" stroke-width="0.7"/>
<line x1="86.20" y1="66.20" x2="89.80" y2="69.00" stroke="#c8a060" stroke-width="0.7"/>
<line x1="93.40" y1="66.20" x2="89.80" y2="69.00" stroke="#7068b8" stroke-width="0.7"/>
<line x1="86.20" y1="68.86" x2="89.80" y2="71.66" stroke="#c8a060" stroke-width="0.7"/>
<line x1="93.40" y1="68.86" x2="89.80" y2="71.66" stroke="#7068b8" stroke-width="0.7"/>
<line x1="86.20" y1="71.51" x2="89.80" y2="74.31" stroke="#c8a060" stroke-width="0.7"/>
<line x1="93.40" y1="71.51" x2="89.80" y2="74.31" stroke="#7068b8" stroke-width="0.7"/>
<line x1="86.20" y1="74.17" x2="89.80" y2="76.97" stroke="#c8a060" stroke-width="0.7"/>
<line x1="93.40" y1="74.17" x2="89.80" y2="76.97" stroke="#7068b8" stroke-width="0.7"/>
<line x1="86.20" y1="76.83" x2="89.80" y2="79.63" stroke="#c8a060" stroke-width="0.7"/>
<line x1="93.40" y1="76.83" x2="89.80" y2="79.63" stroke="#7068b8" stroke-width="0.7"/>
<line x1="86.20" y1="79.49" x2="89.80" y2="82.29" stroke="#c8a060" stroke-width="0.7"/>
<line x1="93.40" y1="79.49" x2="89.80" y2="82.29" stroke="#7068b8" stroke-width="0.7"/>
<line x1="86.20" y1="82.14" x2="89.80" y2="84.94" stroke="#c8a060" stroke-width="0.7"/>
<line x1="93.40" y1="82.14" x2="89.80" y2="84.94" stroke="#7068b8" stroke-width="0.7"/>
<line x1="86.20" y1="84.80" x2="89.80" y2="87.60" stroke="#c8a060" stroke-width="0.7"/>
<line x1="93.40" y1="84.80" x2="89.80" y2="87.60" stroke="#7068b8" stroke-width="0.7"/>
<line x1="93.40" y1="66.20" x2="97.00" y2="69.00" stroke="#c8a060" stroke-width="0.7"/>
<line x1="100.60" y1="66.20" x2="97.00" y2="69.00" stroke="#7068b8" stroke-width="0.7"/>
<line x1="93.40" y1="68.86" x2="97.00" y2="71.66" stroke="#c8a060" stroke-width="0.7"/>
<line x1="100.60" y1="68.86" x2="97.00" y2="71.66" stroke="#7068b8" stroke-width="0.7"/>
<line x1="93.40" y1="71.51" x2="97.00" y2="74.31" stroke="#c8a060" stroke-width="0.7"/>
<line x1="100.60" y1="71.51" x2="97.00" y2="74.31" stroke="#7068b8" stroke-width="0.7"/>
<line x1="93.40" y1="74.17" x2="97.00" y2="76.97" stroke="#c8a060" stroke-width="0.7"/>
<line x1="100.60" y1="74.17" x2="97.00" y2="76.97" stroke="#7068b8" stroke-width="0.7"/>
<line x1="93.40" y1="76.83" x2="97.00" y2="79.63" stroke="#c8a060" stroke-width="0.7"/>
<line x1="100.60" y1="76.83" x2="97.00" y2="79.63" stroke="#7068b8" stroke-width="0.7"/>
<line x1="93.40" y1="79.49" x2="97.00" y2="82.29" stroke="#c8a060" stroke-width="0.7"/>
<line x1="100.60" y1="79.49" x2="97.00" y2="82.29" stroke="#7068b8" stroke-width="0.7"/>
<line x1="93.40" y1="82.14" x2="97.00" y2="84.94" stroke="#c8a060" stroke-width="0.7"/>
<line x1="100.60" y1="82.14" x2="97.00" y2="84.94" stroke="#7068b8" stroke-width="0.7"/>
<line x1="93.40" y1="84.80" x2="97.00" y2="87.60" stroke="#c8a060" stroke-width="0.7"/>
<line x1="100.60" y1="84.80" x2="97.00" y2="87.60" stroke="#7068b8" stroke-width="0.7"/>
<line x1="100.60" y1="66.20" x2="104.20" y2="69.00" stroke="#c8a060" stroke-width="0.7"/>
<line x1="107.80" y1="66.20" x2="104.20" y2="69.00" stroke="#7068b8" stroke-width="0.7"/>
<line x1="100.60" y1="68.86" x2="104.20" y2="71.66" stroke="#c8a060" stroke-width="0.7"/>
<line x1="107.80" y1="68.86" x2="104.20" y2="71.66" stroke="#7068b8" stroke-width="0.7"/>
<line x1="100.60" y1="71.51" x2="104.20" y2="74.31" stroke="#c8a060" stroke-width="0.7"/>
<line x1="107.80" y1="71.51" x2="104.20" y2="74.31" stroke="#7068b8" stroke-width="0.7"/>
<line x1="100.60" y1="74.17" x2="104.20" y2="76.97" stroke="#c8a060" stroke-width="0.7"/>
<line x1="107.80" y1="74.17" x2="104.20" y2="76.97" stroke="#7068b8" stroke-width="0.7"/>
<line x1="100.60" y1="76.83" x2="104.20" y2="79.63" stroke="#c8a060" stroke-width="0.7"/>
<line x1="107.80" y1="76.83" x2="104.20" y2="79.63" stroke="#7068b8" stroke-width="0.7"/>
<line x1="100.60" y1="79.49" x2="104.20" y2="82.29" stroke="#c8a060" stroke-width="0.7"/>
<line x1="107.80" y1="79.49" x2="104.20" y2="82.29" stroke="#7068b8" stroke-width="0.7"/>
<line x1="100.60" y1="82.14" x2="104.20" y2="84.94" stroke="#c8a060" stroke-width="0.7"/>
<line x1="107.80" y1="82.14" x2="104.20" y2="84.94" stroke="#7068b8" stroke-width="0.7"/>
<line x1="100.60" y1="84.80" x2="104.20" y2="87.60" stroke="#c8a060" stroke-width="0.7"/>
<line x1="107.80" y1="84.80" x2="104.20" y2="87.60" stroke="#7068b8" stroke-width="0.7"/>
<line x1="107.80" y1="66.20" x2="111.40" y2="69.00" stroke="#c8a060" stroke-width="0.7"/>
<line x1="115.00" y1="66.20" x2="111.40" y2="69.00" stroke="#7068b8" stroke-width="0.7"/>
<line x1="107.80" y1="68.86" x2="111.40" y2="71.66" stroke="#c8a060" stroke-width="0.7"/>
<line x1="115.00" y1="68.86" x2="111.40" y2="71.66" stroke="#7068b8" stroke-width="0.7"/>
<line x1="107.80" y1="71.51" x2="111.40" y2="74.31" stroke="#c8a060" stroke-width="0.7"/>
<line x1="115.00" y1="71.51" x2="111.40" y2="74.31" stroke="#7068b8" stroke-width="0.7"/>
<line x1="107.80" y1="74.17" x2="111.40" y2="76.97" stroke="#c8a060" stroke-width="0.7"/>
<line x1="115.00" y1="74.17" x2="111.40" y2="76.97" stroke="#7068b8" stroke-width="0.7"/>
<line x1="107.80" y1="76.83" x2="111.40" y2="79.63" stroke="#c8a060" stroke-width="0.7"/>
<line x1="115.00" y1="76.83" x2="111.40" y2="79.63" stroke="#7068b8" stroke-width="0.7"/>
<line x1="107.80" y1="79.49" x2="111.40" y2="82.29" stroke="#c8a060" stroke-width="0.7"/>
<line x1="115.00" y1="79.49" x2="111.40" y2="82.29" stroke="#7068b8" stroke-width="0.7"/>
<line x1="107.80" y1="82.14" x2="111.40" y2="84.94" stroke="#c8a060" stroke-width="0.7"/>
<line x1="115.00" y1="82.14" x2="111.40" y2="84.94" stroke="#7068b8" stroke-width="0.7"/>
<line x1="107.80" y1="84.80" x2="111.40" y2="87.60" stroke="#c8a060" stroke-width="0.7"/>
<line x1="115.00" y1="84.80" x2="111.40" y2="87.60" stroke="#7068b8" stroke-width="0.7"/>
<line x1="115.00" y1="66.20" x2="118.60" y2="69.00" stroke="#c8a060" stroke-width="0.7"/>
<line x1="122.20" y1="66.20" x2="118.60" y2="69.00" stroke="#7068b8" stroke-width="0.7"/>
<line x1="115.00" y1="68.86" x2="118.60" y2="71.66" stroke="#c8a060" stroke-width="0.7"/>
<line x1="122.20" y1="68.86" x2="118.60" y2="71.66" stroke="#7068b8" stroke-width="0.7"/>
<line x1="115.00" y1="71.51" x2="118.60" y2="74.31" stroke="#c8a060" stroke-width="0.7"/>
<line x1="122.20" y1="71.51" x2="118.60" y2="74.31" stroke="#7068b8" stroke-width="0.7"/>
<line x1="115.00" y1="74.17" x2="118.60" y2="76.97" stroke="#c8a060" stroke-width="0.7"/>
<line x1="122.20" y1="74.17" x2="118.60" y2="76.97" stroke="#7068b8" stroke-width="0.7"/>
<line x1="115.00" y1="76.83" x2="118.60" y2="79.63" stroke="#c8a060" stroke-width="0.7"/>
<line x1="122.20" y1="76.83" x2="118.60" y2="79.63" stroke="#7068b8" stroke-width="0.7"/>
<line x1="115.00" y1="79.49" x2="118.60" y2="82.29" stroke="#c8a060" stroke-width="0.7"/>
<line x1="122.20" y1="79.49" x2="118.60" y2="82.29" stroke="#7068b8" stroke-width="0.7"/>
<line x1="115.00" y1="82.14" x2="118.60" y2="84.94" stroke="#c8a060" stroke-width="0.7"/>
<line x1="122.20" y1="82.14" x2="118.60" y2="84.94" stroke="#7068b8" stroke-width="0.7"/>
<line x1="115.00" y1="84.80" x2="118.60" y2="87.60" stroke="#c8a060" stroke-width="0.7"/>
<line x1="122.20" y1="84.80" x2="118.60" y2="87.60" stroke="#7068b8" stroke-width="0.7"/>
<line x1="122.20" y1="66.20" x2="125.80" y2="69.00" stroke="#c8a060" stroke-width="0.7"/>
<line x1="129.40" y1="66.20" x2="125.80" y2="69.00" stroke="#7068b8" stroke-width="0.7"/>
<line x1="122.20" y1="68.86" x2="125.80" y2="71.66" stroke="#c8a060" stroke-width="0.7"/>
<line x1="129.40" y1="68.86" x2="125.80" y2="71.66" stroke="#7068b8" stroke-width="0.7"/>
<line x1="122.20" y1="71.51" x2="125.80" y2="74.31" stroke="#c8a060" stroke-width="0.7"/>
<line x1="129.40" y1="71.51" x2="125.80" y2="74.31" stroke="#7068b8" stroke-width="0.7"/>
<line x1="122.20" y1="74.17" x2="125.80" y2="76.97" stroke="#c8a060" stroke-width="0.7"/>
<line x1="129.40" y1="74.17" x2="125.80" y2="76.97" stroke="#7068b8" stroke-width="0.7"/>
<line x1="122.20" y1="76.83" x2="125.80" y2="79.63" stroke="#c8a060" stroke-width="0.7"/>
<line x1="129.40" y1="76.83" x2="125.80" y2="79.63" stroke="#7068b8" stroke-width="0.7"/>
<line x1="122.20" y1="79.49" x2="125.80" y2="82.29" stroke="#c8a060" stroke-width="0.7"/>
<line x1="129.40" y1="79.49" x2="125.80" y2="82.29" stroke="#7068b8" stroke-width="0.7"/>
<line x1="122.20" y1="82.14" x2="125.80" y2="84.94" stroke="#c8a060" stroke-width="0.7"/>
<line x1="129.40" y1="82.14" x2="125.80" y2="84.94" stroke="#7068b8" stroke-width="0.7"/>
<line x1="122.20" y1="84.80" x2="125.80" y2="87.60" stroke="#c8a060" stroke-width="0.7"/>
<line x1="129.40" y1="84.80" x2="125.80" y2="87.60" stroke="#7068b8" stroke-width="0.7"/>
<line x1="129.40" y1="66.20" x2="133.00" y2="69.00" stroke="#c8a060" stroke-width="0.7"/>
<line x1="136.60" y1="66.20" x2="133.00" y2="69.00" stroke="#7068b8" stroke-width="0.7"/>
<line x1="129.40" y1="68.86" x2="133.00" y2="71.66" stroke="#c8a060" stroke-width="0.7"/>
<line x1="136.60" y1="68.86" x2="133.00" y2="71.66" stroke="#7068b8" stroke-width="0.7"/>
<line x1="129.40" y1="71.51" x2="133.00" y2="74.31" stroke="#c8a060" stroke-width="0.7"/>
<line x1="136.60" y1="71.51" x2="133.00" y2="74.31" stroke="#7068b8" stroke-width="0.7"/>
<line x1="129.40" y1="74.17" x2="133.00" y2="76.97" stroke="#c8a060" stroke-width="0.7"/>
<line x1="136.60" y1="74.17" x2="133.00" y2="76.97" stroke="#7068b8" stroke-width="0.7"/>
<line x1="129.40" y1="76.83" x2="133.00" y2="79.63" stroke="#c8a060" stroke-width="0.7"/>
<line x1="136.60" y1="76.83" x2="133.00" y2="79.63" stroke="#7068b8" stroke-width="0.7"/>
<line x1="129.40" y1="79.49" x2="133.00" y2="82.29" stroke="#c8a060" stroke-width="0.7"/>
<line x1="136.60" y1="79.49" x2="133.00" y2="82.29" stroke="#7068b8" stroke-width="0.7"/>
<line x1="129.40" y1="82.14" x2="133.00" y2="84.94" stroke="#c8a060" stroke-width="0.7"/>
<line x1="136.60" y1="82.14" x2="133.00" y2="84.94" stroke="#7068b8" stroke-width="0.7"/>
<line x1="129.40" y1="84.80" x2="133.00" y2="87.60" stroke="#c8a060" stroke-width="0.7"/>
<line x1="136.60" y1="84.80" x2="133.00" y2="87.60" stroke="#7068b8" stroke-width="0.7"/>
<line x1="136.60" y1="66.20" x2="140.20" y2="69.00" stroke="#c8a060" stroke-width="0.7"/>
<line x1="143.80" y1="66.20" x2="140.20" y2="69.00" stroke="#7068b8" stroke-width="0.7"/>
<line x1="136.60" y1="68.86" x2="140.20" y2="71.66" stroke="#c8a060" stroke-width="0.7"/>
<line x1="143.80" y1="68.86" x2="140.20" y2="71.66" stroke="#7068b8" stroke-width="0.7"/>
<line x1="136.60" y1="71.51" x2="140.20" y2="74.31" stroke="#c8a060" stroke-width="0.7"/>
<line x1="143.80" y1="71.51" x2="140.20" y2="74.31" stroke="#7068b8" stroke-width="0.7"/>
<line x1="136.60" y1="74.17" x2="140.20" y2="76.97" stroke="#c8a060" stroke-width="0.7"/>
<line x1="143.80" y1="74.17" x2="140.20" y2="76.97" stroke="#7068b8" stroke-width="0.7"/>
<line x1="136.60" y1="76.83" x2="140.20" y2="79.63" stroke="#c8a060" stroke-width="0.7"/>
<line x1="143.80" y1="76.83" x2="140.20" y2="79.63" stroke="#7068b8" stroke-width="0.7"/>
<line x1="136.60" y1="79.49" x2="140.20" y2="82.29" stroke="#c8a060" stroke-width="0.7"/>
<line x1="143.80" y1="79.49" x2="140.20" y2="82.29" stroke="#7068b8" stroke-width="0.7"/>
<line x1="136.60" y1="82.14" x2="140.20" y2="84.94" stroke="#c8a060" stroke-width="0.7"/>
<line x1="143.80" y1="82.14" x2="140.20" y2="84.94" stroke="#7068b8" stroke-width="0.7"/>
<line x1="136.60" y1="84.80" x2="140.20" y2="87.60" stroke="#c8a060" stroke-width="0.7"/>
<line x1="143.80" y1="84.80" x2="140.20" y2="87.60" stroke="#7068b8" stroke-width="0.7"/>
<line x1="143.80" y1="66.20" x2="147.40" y2="69.00" stroke="#c8a060" stroke-width="0.7"/>
<line x1="151.00" y1="66.20" x2="147.40" y2="69.00" stroke="#7068b8" stroke-width="0.7"/>
<line x1="143.80" y1="68.86" x2="147.40" y2="71.66" stroke="#c8a060" stroke-width="0.7"/>
<line x1="151.00" y1="68.86" x2="147.40" y2="71.66" stroke="#7068b8" stroke-width="0.7"/>
<line x1="143.80" y1="71.51" x2="147.40" y2="74.31" stroke="#c8a060" stroke-width="0.7"/>
<line x1="151.00" y1="71.51" x2="147.40" y2="74.31" stroke="#7068b8" stroke-width="0.7"/>
<line x1="143.80" y1="74.17" x2="147.40" y2="76.97" stroke="#c8a060" stroke-width="0.7"/>
<line x1="151.00" y1="74.17" x2="147.40" y2="76.97" stroke="#7068b8" stroke-width="0.7"/>
<line x1="143.80" y1="76.83" x2="147.40" y2="79.63" stroke="#c8a060" stroke-width="0.7"/>
<line x1="151.00" y1="76.83" x2="147.40" y2="79.63" stroke="#7068b8" stroke-width="0.7"/>
<line x1="143.80" y1="79.49" x2="147.40" y2="82.29" stroke="#c8a060" stroke-width="0.7"/>
<line x1="151.00" y1="79.49" x2="147.40" y2="82.29" stroke="#7068b8" stroke-width="0.7"/>
<line x1="143.80" y1="82.14" x2="147.40" y2="84.94" stroke="#c8a060" stroke-width="0.7"/>
<line x1="151.00" y1="82.14" x2="147.40" y2="84.94" stroke="#7068b8" stroke-width="0.7"/>
<line x1="143.80" y1="84.80" x2="147.40" y2="87.60" stroke="#c8a060" stroke-width="0.7"/>
<line x1="151.00" y1="84.80" x2="147.40" y2="87.60" stroke="#7068b8" stroke-width="0.7"/>
<line x1="151.00" y1="66.70" x2="154.60" y2="69.50" stroke="#c8a060" stroke-width="0.7"/>
<line x1="158.20" y1="66.70" x2="154.60" y2="69.50" stroke="#7068b8" stroke-width="0.7"/>
<line x1="151.00" y1="69.49" x2="154.60" y2="72.29" stroke="#c8a060" stroke-width="0.7"/>
<line x1="158.20" y1="69.49" x2="154.60" y2="72.29" stroke="#7068b8" stroke-width="0.7"/>
<line x1="151.00" y1="72.27" x2="154.60" y2="75.07" stroke="#c8a060" stroke-width="0.7"/>
<line x1="158.20" y1="72.27" x2="154.60" y2="75.07" stroke="#7068b8" stroke-width="0.7"/>
<line x1="151.00" y1="75.06" x2="154.60" y2="77.86" stroke="#c8a060" stroke-width="0.7"/>
<line x1="158.20" y1="75.06" x2="154.60" y2="77.86" stroke="#7068b8" stroke-width="0.7"/>
<line x1="151.00" y1="77.84" x2="154.60" y2="80.64" stroke="#c8a060" stroke-width="0.7"/>
<line x1="158.20" y1="77.84" x2="154.60" y2="80.64" stroke="#7068b8" stroke-width="0.7"/>
<line x1="151.00" y1="80.63" x2="154.60" y2="83.43" stroke="#c8a060" stroke-width="0.7"/>
<line x1="158.20" y1="80.63" x2="154.60" y2="83.43" stroke="#7068b8" stroke-width="0.7"/>
<line x1="151.00" y1="83.41" x2="154.60" y2="86.21" stroke="#c8a060" stroke-width="0.7"/>
<line x1="158.20" y1="83.41" x2="154.60" y2="86.21" stroke="#7068b8" stroke-width="0.7"/>
<line x1="151.00" y1="86.20" x2="154.60" y2="89.00" stroke="#c8a060" stroke-width="0.7"/>
<line x1="158.20" y1="86.20" x2="154.60" y2="89.00" stroke="#7068b8" stroke-width="0.7"/>
<line x1="158.20" y1="70.30" x2="161.80" y2="73.10" stroke="#c8a060" stroke-width="0.7"/>
<line x1="165.40" y1="70.30" x2="161.80" y2="73.10" stroke="#7068b8" stroke-width="0.7"/>
<line x1="158.20" y1="73.05" x2="161.80" y2="75.85" stroke="#c8a060" stroke-width="0.7"/>
<line x1="165.40" y1="73.05" x2="161.80" y2="75.85" stroke="#7068b8" stroke-width="0.7"/>
<line x1="158.20" y1="75.80" x2="161.80" y2="78.60" stroke="#c8a060" stroke-width="0.7"/>
<line x1="165.40" y1="75.80" x2="161.80" y2="78.60" stroke="#7068b8" stroke-width="0.7"/>
<line x1="158.20" y1="78.55" x2="161.80" y2="81.35" stroke="#c8a060" stroke-width="0.7"/>
<line x1="165.40" y1="78.55" x2="161.80" y2="81.35" stroke="#7068b8" stroke-width="0.7"/>
<line x1="158.20" y1="81.30" x2="161.80" y2="84.10" stroke="#c8a060" stroke-width="0.7"/>
<line x1="165.40" y1="81.30" x2="161.80" y2="84.10" stroke="#7068b8" stroke-width="0.7"/>
<line x1="158.20" y1="84.05" x2="161.80" y2="86.85" stroke="#c8a060" stroke-width="0.7"/>
<line x1="165.40" y1="84.05" x2="161.80" y2="86.85" stroke="#7068b8" stroke-width="0.7"/>
<line x1="158.20" y1="86.80" x2="161.80" y2="89.60" stroke="#c8a060" stroke-width="0.7"/>
<line x1="165.40" y1="86.80" x2="161.80" y2="89.60" stroke="#7068b8" stroke-width="0.7"/>
<line x1="158.20" y1="89.55" x2="161.80" y2="92.35" stroke="#c8a060" stroke-width="0.7"/>
<line x1="165.40" y1="89.55" x2="161.80" y2="92.35" stroke="#7068b8" stroke-width="0.7"/>
<line x1="165.40" y1="73.90" x2="169.00" y2="76.70" stroke="#c8a060" stroke-width="0.7"/>
<line x1="172.60" y1="73.90" x2="169.00" y2="76.70" stroke="#7068b8" stroke-width="0.7"/>
<line x1="165.40" y1="76.61" x2="169.00" y2="79.41" stroke="#c8a060" stroke-width="0.7"/>
<line x1="172.60" y1="76.61" x2="169.00" y2="79.41" stroke="#7068b8" stroke-width="0.7"/>
<line x1="165.40" y1="79.33" x2="169.00" y2="82.13" stroke="#c8a060" stroke-width="0.7"/>
<line x1="172.60" y1="79.33" x2="169.00" y2="82.13" stroke="#7068b8" stroke-width="0.7"/>
<line x1="165.40" y1="82.04" x2="169.00" y2="84.84" stroke="#c8a060" stroke-width="0.7"/>
<line x1="172.60" y1="82.04" x2="169.00" y2="84.84" stroke="#7068b8" stroke-width="0.7"/>
<line x1="165.40" y1="84.76" x2="169.00" y2="87.56" stroke="#c8a060" stroke-width="0.7"/>
<line x1="172.60" y1="84.76" x2="169.00" y2="87.56" stroke="#7068b8" stroke-width="0.7"/>
<line x1="165.40" y1="87.47" x2="169.00" y2="90.27" stroke="#c8a060" stroke-width="0.7"/>
<line x1="172.60" y1="87.47" x2="169.00" y2="90.27" stroke="#7068b8" stroke-width="0.7"/>
<line x1="165.40" y1="90.19" x2="169.00" y2="92.99" stroke="#c8a060" stroke-width="0.7"/>
<line x1="172.60" y1="90.19" x2="169.00" y2="92.99" stroke="#7068b8" stroke-width="0.7"/>
<line x1="165.40" y1="92.90" x2="169.00" y2="95.70" stroke="#c8a060" stroke-width="0.7"/>
<line x1="172.60" y1="92.90" x2="169.00" y2="95.70" stroke="#7068b8" stroke-width="0.7"/>
<line x1="172.60" y1="77.50" x2="176.20" y2="80.30" stroke="#c8a060" stroke-width="0.7"/>
<line x1="179.80" y1="77.50" x2="176.20" y2="80.30" stroke="#7068b8" stroke-width="0.7"/>
<line x1="172.60" y1="80.18" x2="176.20" y2="82.98" stroke="#c8a060" stroke-width="0.7"/>
<line x1="179.80" y1="80.18" x2="176.20" y2="82.98" stroke="#7068b8" stroke-width="0.7"/>
<line x1="172.60" y1="82.86" x2="176.20" y2="85.66" stroke="#c8a060" stroke-width="0.7"/>
<line x1="179.80" y1="82.86" x2="176.20" y2="85.66" stroke="#7068b8" stroke-width="0.7"/>
<line x1="172.60" y1="85.54" x2="176.20" y2="88.34" stroke="#c8a060" stroke-width="0.7"/>
<line x1="179.80" y1="85.54" x2="176.20" y2="88.34" stroke="#7068b8" stroke-width="0.7"/>
<line x1="172.60" y1="88.22" x2="176.20" y2="91.02" stroke="#c8a060" stroke-width="0.7"/>
<line x1="179.80" y1="88.22" x2="176.20" y2="91.02" stroke="#7068b8" stroke-width="0.7"/>
<line x1="172.60" y1="90.90" x2="176.20" y2="93.70" stroke="#c8a060" stroke-width="0.7"/>
<line x1="179.80" y1="90.90" x2="176.20" y2="93.70" stroke="#7068b8" stroke-width="0.7"/>
<line x1="172.60" y1="93.58" x2="176.20" y2="96.38" stroke="#c8a060" stroke-width="0.7"/>
<line x1="179.80" y1="93.58" x2="176.20" y2="96.38" stroke="#7068b8" stroke-width="0.7"/>
<line x1="172.60" y1="96.26" x2="176.20" y2="99.06" stroke="#c8a060" stroke-width="0.7"/>
<line x1="179.80" y1="96.26" x2="176.20" y2="99.06" stroke="#7068b8" stroke-width="0.7"/>
<line x1="179.80" y1="81.10" x2="183.40" y2="83.90" stroke="#c8a060" stroke-width="0.7"/>
<line x1="187.00" y1="81.10" x2="183.40" y2="83.90" stroke="#7068b8" stroke-width="0.7"/>
<line x1="179.80" y1="83.74" x2="183.40" y2="86.54" stroke="#c8a060" stroke-width="0.7"/>
<line x1="187.00" y1="83.74" x2="183.40" y2="86.54" stroke="#7068b8" stroke-width="0.7"/>
<line x1="179.80" y1="86.39" x2="183.40" y2="89.19" stroke="#c8a060" stroke-width="0.7"/>
<line x1="187.00" y1="86.39" x2="183.40" y2="89.19" stroke="#7068b8" stroke-width="0.7"/>
<line x1="179.80" y1="89.03" x2="183.40" y2="91.83" stroke="#c8a060" stroke-width="0.7"/>
<line x1="187.00" y1="89.03" x2="183.40" y2="91.83" stroke="#7068b8" stroke-width="0.7"/>
<line x1="179.80" y1="91.68" x2="183.40" y2="94.48" stroke="#c8a060" stroke-width="0.7"/>
<line x1="187.00" y1="91.68" x2="183.40" y2="94.48" stroke="#7068b8" stroke-width="0.7"/>
<line x1="179.80" y1="94.32" x2="183.40" y2="97.12" stroke="#c8a060" stroke-width="0.7"/>
<line x1="187.00" y1="94.32" x2="183.40" y2="97.12" stroke="#7068b8" stroke-width="0.7"/>
<line x1="179.80" y1="96.97" x2="183.40" y2="99.77" stroke="#c8a060" stroke-width="0.7"/>
<line x1="187.00" y1="96.97" x2="183.40" y2="99.77" stroke="#7068b8" stroke-width="0.7"/>
<line x1="179.80" y1="99.61" x2="183.40" y2="102.41" stroke="#c8a060" stroke-width="0.7"/>
<line x1="187.00" y1="99.61" x2="183.40" y2="102.41" stroke="#7068b8" stroke-width="0.7"/>
<polygon points="180,99 229.5,99 229.5,112 180,112" fill="#6a64b8" opacity="0.9"/>
<line x1="79.00" y1="65.20" x2="79.00" y2="88.80" stroke="#d4aa58" stroke-width="1.4"/>
<circle cx="79.00" cy="65.20" r="1.55" fill="url(#gO)"/>
<circle cx="79.00" cy="68.47" r="1.66" fill="url(#gO)"/>
<circle cx="79.00" cy="71.73" r="1.77" fill="url(#gO)"/>
<circle cx="79.00" cy="75.00" r="1.88" fill="url(#gO)"/>
<circle cx="79.00" cy="78.27" r="1.99" fill="url(#gO)"/>
<circle cx="79.00" cy="81.53" r="2.10" fill="url(#gO)"/>
<circle cx="79.00" cy="84.80" r="2.21" fill="url(#gO)"/>
<line x1="86.20" y1="65.20" x2="86.20" y2="88.80" stroke="#d4aa58" stroke-width="1.4"/>
<circle cx="86.20" cy="65.20" r="1.55" fill="url(#gO)"/>
<circle cx="86.20" cy="68.47" r="1.66" fill="url(#gO)"/>
<circle cx="86.20" cy="71.73" r="1.77" fill="url(#gO)"/>
<circle cx="86.20" cy="75.00" r="1.88" fill="url(#gO)"/>
<circle cx="86.20" cy="78.27" r="1.99" fill="url(#gO)"/>
<circle cx="86.20" cy="81.53" r="2.10" fill="url(#gO)"/>
<circle cx="86.20" cy="84.80" r="2.21" fill="url(#gO)"/>
<line x1="93.40" y1="65.20" x2="93.40" y2="88.80" stroke="#d4aa58" stroke-width="1.4"/>
<circle cx="93.40" cy="65.20" r="1.55" fill="url(#gO)"/>
<circle cx="93.40" cy="68.47" r="1.66" fill="url(#gO)"/>
<circle cx="93.40" cy="71.73" r="1.77" fill="url(#gO)"/>
<circle cx="93.40" cy="75.00" r="1.88" fill="url(#gO)"/>
<circle cx="93.40" cy="78.27" r="1.99" fill="url(#gO)"/>
<circle cx="93.40" cy="81.53" r="2.10" fill="url(#gO)"/>
<circle cx="93.40" cy="84.80" r="2.21" fill="url(#gO)"/>
<line x1="100.60" y1="65.20" x2="100.60" y2="88.80" stroke="#d4aa58" stroke-width="1.4"/>
<circle cx="100.60" cy="65.20" r="1.55" fill="url(#gO)"/>
<circle cx="100.60" cy="68.47" r="1.66" fill="url(#gO)"/>
<circle cx="100.60" cy="71.73" r="1.77" fill="url(#gO)"/>
<circle cx="100.60" cy="75.00" r="1.88" fill="url(#gO)"/>
<circle cx="100.60" cy="78.27" r="1.99" fill="url(#gO)"/>
<circle cx="100.60" cy="81.53" r="2.10" fill="url(#gO)"/>
<circle cx="100.60" cy="84.80" r="2.21" fill="url(#gO)"/>
<line x1="107.80" y1="65.20" x2="107.80" y2="88.80" stroke="#d4aa58" stroke-width="1.4"/>
<circle cx="107.80" cy="65.20" r="1.55" fill="url(#gO)"/>
<circle cx="107.80" cy="68.47" r="1.66" fill="url(#gO)"/>
<circle cx="107.80" cy="71.73" r="1.77" fill="url(#gO)"/>
<circle cx="107.80" cy="75.00" r="1.88" fill="url(#gO)"/>
<circle cx="107.80" cy="78.27" r="1.99" fill="url(#gO)"/>
<circle cx="107.80" cy="81.53" r="2.10" fill="url(#gO)"/>
<circle cx="107.80" cy="84.80" r="2.21" fill="url(#gO)"/>
<line x1="115.00" y1="65.20" x2="115.00" y2="88.80" stroke="#d4aa58" stroke-width="1.4"/>
<circle cx="115.00" cy="65.20" r="1.55" fill="url(#gO)"/>
<circle cx="115.00" cy="68.47" r="1.66" fill="url(#gO)"/>
<circle cx="115.00" cy="71.73" r="1.77" fill="url(#gO)"/>
<circle cx="115.00" cy="75.00" r="1.88" fill="url(#gO)"/>
<circle cx="115.00" cy="78.27" r="1.99" fill="url(#gO)"/>
<circle cx="115.00" cy="81.53" r="2.10" fill="url(#gO)"/>
<circle cx="115.00" cy="84.80" r="2.21" fill="url(#gO)"/>
<line x1="122.20" y1="65.20" x2="122.20" y2="88.80" stroke="#d4aa58" stroke-width="1.4"/>
<circle cx="122.20" cy="65.20" r="1.55" fill="url(#gO)"/>
<circle cx="122.20" cy="68.47" r="1.66" fill="url(#gO)"/>
<circle cx="122.20" cy="71.73" r="1.77" fill="url(#gO)"/>
<circle cx="122.20" cy="75.00" r="1.88" fill="url(#gO)"/>
<circle cx="122.20" cy="78.27" r="1.99" fill="url(#gO)"/>
<circle cx="122.20" cy="81.53" r="2.10" fill="url(#gO)"/>
<circle cx="122.20" cy="84.80" r="2.21" fill="url(#gO)"/>
<line x1="129.40" y1="65.20" x2="129.40" y2="88.80" stroke="#d4aa58" stroke-width="1.4"/>
<circle cx="129.40" cy="65.20" r="1.55" fill="url(#gO)"/>
<circle cx="129.40" cy="68.47" r="1.66" fill="url(#gO)"/>
<circle cx="129.40" cy="71.73" r="1.77" fill="url(#gO)"/>
<circle cx="129.40" cy="75.00" r="1.88" fill="url(#gO)"/>
<circle cx="129.40" cy="78.27" r="1.99" fill="url(#gO)"/>
<circle cx="129.40" cy="81.53" r="2.10" fill="url(#gO)"/>
<circle cx="129.40" cy="84.80" r="2.21" fill="url(#gO)"/>
<line x1="136.60" y1="65.20" x2="136.60" y2="88.80" stroke="#d4aa58" stroke-width="1.4"/>
<circle cx="136.60" cy="65.20" r="1.55" fill="url(#gO)"/>
<circle cx="136.60" cy="68.47" r="1.66" fill="url(#gO)"/>
<circle cx="136.60" cy="71.73" r="1.77" fill="url(#gO)"/>
<circle cx="136.60" cy="75.00" r="1.88" fill="url(#gO)"/>
<circle cx="136.60" cy="78.27" r="1.99" fill="url(#gO)"/>
<circle cx="136.60" cy="81.53" r="2.10" fill="url(#gO)"/>
<circle cx="136.60" cy="84.80" r="2.21" fill="url(#gO)"/>
<line x1="143.80" y1="65.20" x2="143.80" y2="88.80" stroke="#d4aa58" stroke-width="1.4"/>
<circle cx="143.80" cy="65.20" r="1.55" fill="url(#gO)"/>
<circle cx="143.80" cy="68.47" r="1.66" fill="url(#gO)"/>
<circle cx="143.80" cy="71.73" r="1.77" fill="url(#gO)"/>
<circle cx="143.80" cy="75.00" r="1.88" fill="url(#gO)"/>
<circle cx="143.80" cy="78.27" r="1.99" fill="url(#gO)"/>
<circle cx="143.80" cy="81.53" r="2.10" fill="url(#gO)"/>
<circle cx="143.80" cy="84.80" r="2.21" fill="url(#gO)"/>
<line x1="151.00" y1="65.70" x2="151.00" y2="90.20" stroke="#d4aa58" stroke-width="1.4"/>
<circle cx="151.00" cy="65.70" r="1.55" fill="url(#gO)"/>
<circle cx="151.00" cy="69.12" r="1.66" fill="url(#gO)"/>
<circle cx="151.00" cy="72.53" r="1.77" fill="url(#gO)"/>
<circle cx="151.00" cy="75.95" r="1.88" fill="url(#gO)"/>
<circle cx="151.00" cy="79.36" r="1.99" fill="url(#gO)"/>
<circle cx="151.00" cy="82.78" r="2.10" fill="url(#gO)"/>
<circle cx="151.00" cy="86.20" r="2.21" fill="url(#gO)"/>
<line x1="158.20" y1="69.30" x2="158.20" y2="93.55" stroke="#d4aa58" stroke-width="1.4"/>
<circle cx="158.20" cy="69.30" r="1.55" fill="url(#gO)"/>
<circle cx="158.20" cy="72.68" r="1.66" fill="url(#gO)"/>
<circle cx="158.20" cy="76.05" r="1.77" fill="url(#gO)"/>
<circle cx="158.20" cy="79.43" r="1.88" fill="url(#gO)"/>
<circle cx="158.20" cy="82.80" r="1.99" fill="url(#gO)"/>
<circle cx="158.20" cy="86.18" r="2.10" fill="url(#gO)"/>
<circle cx="158.20" cy="89.55" r="2.21" fill="url(#gO)"/>
<line x1="165.40" y1="72.90" x2="165.40" y2="96.90" stroke="#d4aa58" stroke-width="1.4"/>
<circle cx="165.40" cy="72.90" r="1.55" fill="url(#gO)"/>
<circle cx="165.40" cy="76.23" r="1.66" fill="url(#gO)"/>
<circle cx="165.40" cy="79.57" r="1.77" fill="url(#gO)"/>
<circle cx="165.40" cy="82.90" r="1.88" fill="url(#gO)"/>
<circle cx="165.40" cy="86.24" r="1.99" fill="url(#gO)"/>
<circle cx="165.40" cy="89.57" r="2.10" fill="url(#gO)"/>
<circle cx="165.40" cy="92.90" r="2.21" fill="url(#gO)"/>
<line x1="172.60" y1="76.50" x2="172.60" y2="100.26" stroke="#d4aa58" stroke-width="1.4"/>
<circle cx="172.60" cy="76.50" r="1.55" fill="url(#gO)"/>
<circle cx="172.60" cy="79.79" r="1.66" fill="url(#gO)"/>
<circle cx="172.60" cy="83.09" r="1.77" fill="url(#gO)"/>
<circle cx="172.60" cy="86.38" r="1.88" fill="url(#gO)"/>
<circle cx="172.60" cy="89.67" r="1.99" fill="url(#gO)"/>
<circle cx="172.60" cy="92.97" r="2.10" fill="url(#gO)"/>
<circle cx="172.60" cy="96.26" r="2.21" fill="url(#gO)"/>
<line x1="179.80" y1="80.10" x2="179.80" y2="103.61" stroke="#d4aa58" stroke-width="1.4"/>
<circle cx="179.80" cy="80.10" r="1.55" fill="url(#gO)"/>
<circle cx="179.80" cy="83.35" r="1.66" fill="url(#gO)"/>
<circle cx="179.80" cy="86.60" r="1.77" fill="url(#gO)"/>
<circle cx="179.80" cy="89.86" r="1.88" fill="url(#gO)"/>
<circle cx="179.80" cy="93.11" r="1.99" fill="url(#gO)"/>
<circle cx="179.80" cy="96.36" r="2.10" fill="url(#gO)"/>
<circle cx="179.80" cy="99.61" r="2.21" fill="url(#gO)"/>
<line x1="187.00" y1="99.60" x2="187.00" y2="106.53" stroke="#d4aa58" stroke-width="1.4"/>
<circle cx="187.00" cy="99.60" r="1.90" fill="url(#gO)"/>
<circle cx="187.00" cy="102.53" r="1.90" fill="url(#gO)"/>
<line x1="194.20" y1="99.60" x2="194.20" y2="106.75" stroke="#d4aa58" stroke-width="1.4"/>
<circle cx="194.20" cy="99.60" r="1.90" fill="url(#gO)"/>
<circle cx="194.20" cy="102.75" r="1.90" fill="url(#gO)"/>
<line x1="201.40" y1="99.60" x2="201.40" y2="106.96" stroke="#d4aa58" stroke-width="1.4"/>
<circle cx="201.40" cy="99.60" r="1.90" fill="url(#gO)"/>
<circle cx="201.40" cy="102.96" r="1.90" fill="url(#gO)"/>
<line x1="208.60" y1="99.60" x2="208.60" y2="107.18" stroke="#d4aa58" stroke-width="1.4"/>
<circle cx="208.60" cy="99.60" r="1.90" fill="url(#gO)"/>
<circle cx="208.60" cy="103.18" r="1.90" fill="url(#gO)"/>
<line x1="215.80" y1="99.60" x2="215.80" y2="107.39" stroke="#d4aa58" stroke-width="1.4"/>
<circle cx="215.80" cy="99.60" r="1.90" fill="url(#gO)"/>
<circle cx="215.80" cy="103.39" r="1.90" fill="url(#gO)"/>
<line x1="223.00" y1="99.60" x2="223.00" y2="107.61" stroke="#d4aa58" stroke-width="1.4"/>
<circle cx="223.00" cy="99.60" r="1.90" fill="url(#gO)"/>
<circle cx="223.00" cy="103.61" r="1.90" fill="url(#gO)"/>
<g transform="translate(74.9,7.0) rotate(-27.4)"><polygon points="-3.25,0 3.25,0 9.75,80.00 -9.75,80.00" fill="url(#beam)" opacity="0.95" mask="url(#bmask)"/></g>
<circle cx="100.60" cy="77.50" r="2.00" fill="url(#gO)"/>
<circle cx="100.60" cy="80.50" r="2.00" fill="url(#gO)"/>
<circle cx="100.60" cy="83.50" r="2.00" fill="url(#gO)"/>
<circle cx="107.80" cy="77.50" r="2.00" fill="url(#gO)"/>
<circle cx="107.80" cy="80.50" r="2.00" fill="url(#gO)"/>
<circle cx="107.80" cy="83.50" r="2.00" fill="url(#gO)"/>
<circle cx="115.00" cy="77.50" r="2.00" fill="url(#gO)"/>
<circle cx="115.00" cy="80.50" r="2.00" fill="url(#gO)"/>
<circle cx="115.00" cy="83.50" r="2.00" fill="url(#gO)"/>
<polygon points="146.0,78.8 148.0,78.8 150.0,79.7 152.0,80.7 154.0,81.6 156.0,82.5 158.0,83.5 160.0,84.4 162.0,85.3 164.0,86.3 166.0,87.2 168.0,88.1 170.0,89.0 172.0,90.0 174.0,90.9 176.0,91.8 178.0,92.8 180.0,93.7 182.0,94.6 184.0,95.6 186.0,96.5 186.0,104.5 184.0,103.6 182.0,102.6 180.0,101.7 178.0,100.8 176.0,99.8 174.0,98.9 172.0,98.0 170.0,97.0 168.0,96.1 166.0,95.2 164.0,94.3 162.0,93.3 160.0,92.4 158.0,91.5 156.0,90.5 154.0,89.6 152.0,88.7 150.0,87.7 148.0,86.8 146.0,86.8" fill="#6a62c0" opacity="0.75"/>
<polygon points="76.0,85.2 78.0,85.2 80.0,85.2 82.0,85.2 84.0,85.2 86.0,85.2 88.0,85.2 90.0,85.2 92.0,85.2 94.0,85.2 96.0,85.2 98.0,85.2 100.0,85.2 102.0,85.2 104.0,85.2 106.0,85.2 108.0,85.2 110.0,85.2 112.0,85.2 114.0,85.2 116.0,85.2 118.0,85.2 120.0,85.2 122.0,85.2 124.0,85.2 126.0,85.2 128.0,85.2 130.0,85.2 132.0,85.2 134.0,85.2 136.0,85.2 138.0,85.2 140.0,85.2 142.0,85.2 144.0,85.2 146.0,85.2 148.0,85.2 150.0,86.1 152.0,87.1 154.0,88.0 156.0,88.9 158.0,89.9 160.0,90.8 162.0,91.7 164.0,92.7 166.0,93.6 168.0,94.5 170.0,95.4 172.0,96.4 174.0,97.3 176.0,98.2 178.0,99.2 180.0,100.1 182.0,101.0 184.0,102.0 186.0,102.9 188.0,103.0 190.0,103.0 192.0,103.1 194.0,103.1 196.0,103.2 198.0,103.3 200.0,103.3 202.0,103.4 204.0,103.4 206.0,103.5 208.0,103.6 210.0,103.6 212.0,103.7 214.0,103.7 216.0,103.8 218.0,103.9 220.0,103.9 222.0,104.0 224.0,104.0 226.0,104.1 228.0,104.2 230.0,104.2 230.0,111.4 228.0,111.4 226.0,111.3 224.0,111.2 222.0,111.2 220.0,111.1 218.0,111.1 216.0,111.0 214.0,110.9 212.0,110.9 210.0,110.8 208.0,110.8 206.0,110.7 204.0,110.6 202.0,110.6 200.0,110.5 198.0,110.5 196.0,110.4 194.0,110.3 192.0,110.3 190.0,110.2 188.0,110.2 186.0,110.1 184.0,109.2 182.0,108.2 180.0,107.3 178.0,106.4 176.0,105.4 174.0,104.5 172.0,103.6 170.0,102.6 168.0,101.7 166.0,100.8 164.0,99.9 162.0,98.9 160.0,98.0 158.0,97.1 156.0,96.1 154.0,95.2 152.0,94.3 150.0,93.3 148.0,92.4 146.0,92.4 144.0,92.4 142.0,92.4 140.0,92.4 138.0,92.4 136.0,92.4 134.0,92.4 132.0,92.4 130.0,92.4 128.0,92.4 126.0,92.4 124.0,92.4 122.0,92.4 120.0,92.4 118.0,92.4 116.0,92.4 114.0,92.4 112.0,92.4 110.0,92.4 108.0,92.4 106.0,92.4 104.0,92.4 102.0,92.4 100.0,92.4 98.0,92.4 96.0,92.4 94.0,92.4 92.0,92.4 90.0,92.4 88.0,92.4 86.0,92.4 84.0,92.4 82.0,92.4 80.0,92.4 78.0,92.4 76.0,92.4" fill="#6262c4" opacity="0.9"/>
<path d="M75.40,85.20 L82.60,92.40 M82.60,85.20 L75.40,92.40" stroke="#4040a8" stroke-width="1.1"/>
<circle cx="82.60" cy="89.10" r="2.00" fill="url(#gM)"/>
<circle cx="79.00" cy="88.80" r="2.50" fill="url(#gM)"/>
<path d="M76.80,90.80 L79.00,98.30 L81.20,90.80" stroke="#d8a040" stroke-width="1.3" fill="none"/>
<circle cx="79.00" cy="98.60" r="2.10" fill="url(#gO)"/>
<path d="M82.60,85.20 L89.80,92.40 M89.80,85.20 L82.60,92.40" stroke="#4040a8" stroke-width="1.1"/>
<circle cx="89.80" cy="89.10" r="2.00" fill="url(#gM)"/>
<circle cx="86.20" cy="88.80" r="2.50" fill="url(#gM)"/>
<path d="M84.00,90.80 L86.20,98.30 L88.40,90.80" stroke="#d8a040" stroke-width="1.3" fill="none"/>
<circle cx="86.20" cy="98.60" r="2.10" fill="url(#gO)"/>
<path d="M89.80,85.20 L97.00,92.40 M97.00,85.20 L89.80,92.40" stroke="#4040a8" stroke-width="1.1"/>
<circle cx="97.00" cy="89.10" r="2.00" fill="url(#gM)"/>
<circle cx="93.40" cy="88.80" r="2.50" fill="url(#gM)"/>
<path d="M91.20,90.80 L93.40,98.30 L95.60,90.80" stroke="#d8a040" stroke-width="1.3" fill="none"/>
<circle cx="93.40" cy="98.60" r="2.10" fill="url(#gO)"/>
<path d="M97.00,85.20 L104.20,92.40 M104.20,85.20 L97.00,92.40" stroke="#4040a8" stroke-width="1.1"/>
<circle cx="104.20" cy="89.10" r="2.00" fill="url(#gM)"/>
<circle cx="100.60" cy="88.80" r="2.50" fill="url(#gM)"/>
<path d="M98.40,90.80 L100.60,98.30 L102.80,90.80" stroke="#d8a040" stroke-width="1.3" fill="none"/>
<circle cx="100.60" cy="98.60" r="2.10" fill="url(#gO)"/>
<path d="M104.20,85.20 L111.40,92.40 M111.40,85.20 L104.20,92.40" stroke="#4040a8" stroke-width="1.1"/>
<circle cx="111.40" cy="89.10" r="2.00" fill="url(#gM)"/>
<circle cx="107.80" cy="88.80" r="2.50" fill="url(#gM)"/>
<path d="M105.60,90.80 L107.80,98.30 L110.00,90.80" stroke="#d8a040" stroke-width="1.3" fill="none"/>
<circle cx="107.80" cy="98.60" r="2.10" fill="url(#gO)"/>
<path d="M111.40,85.20 L118.60,92.40 M118.60,85.20 L111.40,92.40" stroke="#4040a8" stroke-width="1.1"/>
<circle cx="118.60" cy="89.10" r="2.00" fill="url(#gM)"/>
<circle cx="115.00" cy="88.80" r="2.50" fill="url(#gM)"/>
<path d="M112.80,90.80 L115.00,98.30 L117.20,90.80" stroke="#d8a040" stroke-width="1.3" fill="none"/>
<circle cx="115.00" cy="98.60" r="2.10" fill="url(#gO)"/>
<path d="M118.60,85.20 L125.80,92.40 M125.80,85.20 L118.60,92.40" stroke="#4040a8" stroke-width="1.1"/>
<circle cx="125.80" cy="89.10" r="2.00" fill="url(#gM)"/>
<circle cx="122.20" cy="88.80" r="2.50" fill="url(#gM)"/>
<path d="M120.00,90.80 L122.20,98.30 L124.40,90.80" stroke="#d8a040" stroke-width="1.3" fill="none"/>
<circle cx="122.20" cy="98.60" r="2.10" fill="url(#gO)"/>
<path d="M125.80,85.20 L133.00,92.40 M133.00,85.20 L125.80,92.40" stroke="#4040a8" stroke-width="1.1"/>
<circle cx="133.00" cy="89.10" r="2.00" fill="url(#gM)"/>
<circle cx="129.40" cy="88.80" r="2.50" fill="url(#gM)"/>
<path d="M127.20,90.80 L129.40,98.30 L131.60,90.80" stroke="#d8a040" stroke-width="1.3" fill="none"/>
<circle cx="129.40" cy="98.60" r="2.10" fill="url(#gO)"/>
<path d="M133.00,85.20 L140.20,92.40 M140.20,85.20 L133.00,92.40" stroke="#4040a8" stroke-width="1.1"/>
<circle cx="140.20" cy="89.10" r="2.00" fill="url(#gM)"/>
<circle cx="136.60" cy="88.80" r="2.50" fill="url(#gM)"/>
<path d="M134.40,90.80 L136.60,98.30 L138.80,90.80" stroke="#d8a040" stroke-width="1.3" fill="none"/>
<circle cx="136.60" cy="98.60" r="2.10" fill="url(#gO)"/>
<path d="M140.20,85.20 L147.40,92.40 M147.40,85.20 L140.20,92.40" stroke="#4040a8" stroke-width="1.1"/>
<circle cx="147.40" cy="89.10" r="2.00" fill="url(#gM)"/>
<circle cx="143.80" cy="88.80" r="2.50" fill="url(#gM)"/>
<path d="M141.60,90.80 L143.80,98.30 L146.00,90.80" stroke="#d8a040" stroke-width="1.3" fill="none"/>
<circle cx="143.80" cy="98.60" r="2.10" fill="url(#gO)"/>
<path d="M147.40,86.60 L154.60,93.80 M154.60,86.60 L147.40,93.80" stroke="#4040a8" stroke-width="1.1"/>
<circle cx="154.60" cy="90.50" r="2.00" fill="url(#gM)"/>
<circle cx="151.00" cy="90.20" r="2.50" fill="url(#gM)"/>
<path d="M148.80,92.20 L151.00,99.70 L153.20,92.20" stroke="#d8a040" stroke-width="1.3" fill="none"/>
<circle cx="151.00" cy="100.00" r="2.10" fill="url(#gO)"/>
<path d="M154.60,89.95 L161.80,97.15 M161.80,89.95 L154.60,97.15" stroke="#4040a8" stroke-width="1.1"/>
<circle cx="161.80" cy="93.85" r="2.00" fill="url(#gM)"/>
<circle cx="158.20" cy="93.55" r="2.50" fill="url(#gM)"/>
<path d="M156.00,95.55 L158.20,103.05 L160.40,95.55" stroke="#d8a040" stroke-width="1.3" fill="none"/>
<circle cx="158.20" cy="103.35" r="2.10" fill="url(#gO)"/>
<path d="M161.80,93.30 L169.00,100.50 M169.00,93.30 L161.80,100.50" stroke="#4040a8" stroke-width="1.1"/>
<circle cx="169.00" cy="97.20" r="2.00" fill="url(#gM)"/>
<circle cx="165.40" cy="96.90" r="2.50" fill="url(#gM)"/>
<path d="M163.20,98.90 L165.40,106.40 L167.60,98.90" stroke="#d8a040" stroke-width="1.3" fill="none"/>
<circle cx="165.40" cy="106.70" r="2.10" fill="url(#gO)"/>
<path d="M169.00,96.66 L176.20,103.86 M176.20,96.66 L169.00,103.86" stroke="#4040a8" stroke-width="1.1"/>
<circle cx="176.20" cy="100.56" r="2.00" fill="url(#gM)"/>
<circle cx="172.60" cy="100.26" r="2.50" fill="url(#gM)"/>
<path d="M170.40,102.26 L172.60,109.76 L174.80,102.26" stroke="#d8a040" stroke-width="1.3" fill="none"/>
<circle cx="172.60" cy="110.06" r="2.10" fill="url(#gO)"/>
<path d="M176.20,100.01 L183.40,107.21 M183.40,100.01 L176.20,107.21" stroke="#4040a8" stroke-width="1.1"/>
<circle cx="183.40" cy="103.91" r="2.00" fill="url(#gM)"/>
<circle cx="179.80" cy="103.61" r="2.50" fill="url(#gM)"/>
<path d="M177.60,105.61 L179.80,113.11 L182.00,105.61" stroke="#d8a040" stroke-width="1.3" fill="none"/>
<circle cx="179.80" cy="113.41" r="2.10" fill="url(#gO)"/>
<path d="M183.40,102.93 L190.60,110.13 M190.60,102.93 L183.40,110.13" stroke="#4040a8" stroke-width="1.1"/>
<circle cx="190.60" cy="106.83" r="2.00" fill="url(#gM)"/>
<circle cx="187.00" cy="106.53" r="2.50" fill="url(#gM)"/>
<path d="M184.80,108.53 L187.00,116.03 L189.20,108.53" stroke="#d8a040" stroke-width="1.3" fill="none"/>
<circle cx="187.00" cy="116.33" r="2.10" fill="url(#gO)"/>
<path d="M190.60,103.15 L197.80,110.35 M197.80,103.15 L190.60,110.35" stroke="#4040a8" stroke-width="1.1"/>
<circle cx="197.80" cy="107.05" r="2.00" fill="url(#gM)"/>
<circle cx="194.20" cy="106.75" r="2.50" fill="url(#gM)"/>
<path d="M192.00,108.75 L194.20,116.25 L196.40,108.75" stroke="#d8a040" stroke-width="1.3" fill="none"/>
<circle cx="194.20" cy="116.55" r="2.10" fill="url(#gO)"/>
<path d="M197.80,103.36 L205.00,110.56 M205.00,103.36 L197.80,110.56" stroke="#4040a8" stroke-width="1.1"/>
<circle cx="205.00" cy="107.26" r="2.00" fill="url(#gM)"/>
<circle cx="201.40" cy="106.96" r="2.50" fill="url(#gM)"/>
<path d="M199.20,108.96 L201.40,116.46 L203.60,108.96" stroke="#d8a040" stroke-width="1.3" fill="none"/>
<circle cx="201.40" cy="116.76" r="2.10" fill="url(#gO)"/>
<path d="M205.00,103.58 L212.20,110.78 M212.20,103.58 L205.00,110.78" stroke="#4040a8" stroke-width="1.1"/>
<circle cx="212.20" cy="107.48" r="2.00" fill="url(#gM)"/>
<circle cx="208.60" cy="107.18" r="2.50" fill="url(#gM)"/>
<path d="M206.40,109.18 L208.60,116.68 L210.80,109.18" stroke="#d8a040" stroke-width="1.3" fill="none"/>
<circle cx="208.60" cy="116.98" r="2.10" fill="url(#gO)"/>
<path d="M212.20,103.79 L219.40,110.99 M219.40,103.79 L212.20,110.99" stroke="#4040a8" stroke-width="1.1"/>
<circle cx="219.40" cy="107.69" r="2.00" fill="url(#gM)"/>
<circle cx="215.80" cy="107.39" r="2.50" fill="url(#gM)"/>
<path d="M213.60,109.39 L215.80,116.89 L218.00,109.39" stroke="#d8a040" stroke-width="1.3" fill="none"/>
<circle cx="215.80" cy="117.19" r="2.10" fill="url(#gO)"/>
<path d="M219.40,104.01 L226.60,111.21 M226.60,104.01 L219.40,111.21" stroke="#4040a8" stroke-width="1.1"/>
<circle cx="226.60" cy="107.91" r="2.00" fill="url(#gM)"/>
<circle cx="223.00" cy="107.61" r="2.50" fill="url(#gM)"/>
<path d="M220.80,109.61 L223.00,117.11 L225.20,109.61" stroke="#d8a040" stroke-width="1.3" fill="none"/>
<circle cx="223.00" cy="117.41" r="2.10" fill="url(#gO)"/>
<polygon points="114,92 124,92 129,106 119,106" fill="#8a64c4" opacity="0.5"/>
<ellipse cx="121" cy="99" rx="7" ry="5" fill="url(#glow)"/>
<polygon points="7.9,62.7 46.9,62.7 45.7,80.5 2.0,80.5" fill="url(#elTop)"/>
<polygon points="2.0,80.5 45.7,80.5 45.7,99.8 2.4,99.8" fill="url(#elFront)"/>
<polygon points="46.9,62.7 47.6,63 47.6,98 45.7,99.8 45.7,80.5" fill="#d89098"/>
<polygon points="181.1,62.2 218.5,62.2 229.8,80.0 188.8,80.0" fill="url(#elTop)"/>
<polygon points="181.1,62.2 188.8,80.0 188.8,99.3 181.1,95.5" fill="url(#elSide)"/>
<polygon points="188.8,80.0 229.8,80.0 229.8,99.3 188.8,99.3" fill="url(#elFront)"/>
<line x1="25.30" y1="55.30" x2="25.30" y2="72.60" stroke="#555" stroke-width="1.0" />
<circle cx="25.30" cy="53.80" r="1.60" fill="#ffffff" stroke="#555" stroke-width="0.8" />
<line x1="22.20" y1="47.40" x2="28.40" y2="47.40" stroke="#444" stroke-width="1.0" />
<line x1="205.80" y1="55.30" x2="205.80" y2="72.60" stroke="#555" stroke-width="1.0" />
<circle cx="205.80" cy="53.80" r="1.60" fill="#ffffff" stroke="#555" stroke-width="0.8" />
<line x1="203.10" y1="47.90" x2="208.50" y2="47.90" stroke="#444" stroke-width="1.0" />
<line x1="205.80" y1="45.20" x2="205.80" y2="50.60" stroke="#444" stroke-width="1.0" />
<circle cx="110.10" cy="90.00" r="3.60" fill="url(#gRed)" stroke="none" stroke-width="1" />
<circle cx="126.70" cy="90.00" r="3.60" fill="url(#gRed)" stroke="none" stroke-width="1" />
<circle cx="93.80" cy="107.60" r="3.70" fill="url(#gCy)" stroke="none" stroke-width="1" />
<circle cx="110.60" cy="107.60" r="3.70" fill="url(#gCy)" stroke="none" stroke-width="1" />
<polygon points="134.00,88.30 140.50,88.30 140.50,86.20 147.00,90.00 140.50,93.80 140.50,91.70 134.00,91.70" fill="#ffffff" stroke="#b07050" stroke-width="0.7"/>
<polygon points="86.00,106.20 77.70,106.20 77.70,104.10 71.20,107.90 77.70,111.70 77.70,109.60 86.00,109.60" fill="#ffffff" stroke="#b07050" stroke-width="0.7"/>
<g stroke="#6a2ca8" stroke-width="1.0" stroke-linecap="round">
<line x1="74.02" y1="26.23" x2="89.65" y2="17.30"/>
<line x1="72.03" y1="29.79" x2="93.73" y2="17.39"/>
<line x1="73.07" y1="31.61" x2="94.77" y2="19.21"/>
<line x1="77.15" y1="31.70" x2="92.78" y2="22.77"/>
<line x1="76.5" y1="15.4" x2="90.3" y2="35.8"/>
</g>
<polygon points="91.2,37.3 87.8,33.5 91.6,32.4" fill="#6e34a8"/>
<text x="15.4" y="112.3" font-size="10.5" font-weight="bold" fill="#ffffff">WSe<tspan font-size="7.2" dy="2.6">2</tspan></text>
<text x="193.2" y="112.8" font-size="10.5" font-weight="bold" fill="#ffffff">MoS<tspan font-size="7.2" dy="2.6">2</tspan></text>
<rect x="68.30" y="170.00" width="51.50" height="32.60" fill="#b5c4e4" stroke="none" stroke-width="1" />
<rect x="68.30" y="200.70" width="51.50" height="2.00" fill="#2c44a4" stroke="none" stroke-width="1" />
<rect x="127.10" y="173.30" width="50.80" height="64.90" fill="#f9e3d6" stroke="none" stroke-width="1" />
<rect x="127.10" y="236.30" width="50.80" height="2.00" fill="#c42026" stroke="none" stroke-width="1" />
<rect x="66.90" y="267.20" width="52.10" height="46.80" fill="#b5c4e4" stroke="none" stroke-width="1" />
<rect x="66.90" y="267.20" width="52.10" height="2.00" fill="#2c44a4" stroke="none" stroke-width="1" />
<rect x="125.80" y="307.30" width="52.10" height="19.00" fill="#f9e3d6" stroke="none" stroke-width="1" />
<rect x="125.80" y="307.30" width="52.10" height="2.00" fill="#c42026" stroke="none" stroke-width="1" />
<rect x="31.00" y="244.10" width="35.90" height="22.00" fill="url(#elecL)" stroke="none" stroke-width="1" />
<rect x="181.20" y="260.40" width="34.10" height="29.00" fill="url(#elecL)" stroke="none" stroke-width="1" />
<polyline points="31.0,245.8 19.4,245.8 19.4,349.2 128.0,349.2" fill="none" stroke="#555" stroke-width="1.0"/>
<polyline points="133.2,349.2 226.7,349.2 226.7,261.0 215.3,261.0" fill="none" stroke="#555" stroke-width="1.0"/>
<circle cx="31.00" cy="245.80" r="1.10" fill="#333" stroke="none" stroke-width="1" />
<circle cx="215.30" cy="261.00" r="1.10" fill="#333" stroke="none" stroke-width="1" />
<line x1="128.00" y1="346.20" x2="128.00" y2="354.20" stroke="#3a4ea8" stroke-width="1.6" />
<line x1="133.20" y1="342.00" x2="133.20" y2="356.40" stroke="#3a4ea8" stroke-width="1.6" />
<line x1="69.90" y1="221.50" x2="117.70" y2="221.50" stroke="#2c44a4" stroke-width="1.0" stroke-dasharray="3,1.8"/>
<line x1="69.90" y1="203.50" x2="69.90" y2="220.00" stroke="#222" stroke-width="0.8" stroke-dasharray="2.2,1.2"/>
<polygon points="69.9,202.8 68.6,205.5 71.2,205.5" fill="#222"/>
<polygon points="69.9,220.8 68.6,218.1 71.2,218.1" fill="#222"/>
<text x="62.8" y="215.4" font-size="10.5" text-anchor="end" fill="#333">Δ<tspan font-style="italic">V</tspan></text>
<line x1="89.70" y1="271.00" x2="89.70" y2="184.00" stroke="#7a52b0" stroke-width="1.3" />
<polygon points="89.7,178.8 86.7,186.4 92.7,186.4" fill="#7a52b0"/>
<circle cx="90.60" cy="173.90" r="3.50" fill="#fde4da" stroke="#e0706a" stroke-width="0.9" />
<path d="M98.5,175.4 C116,176.5 138,188 142.5,222.5" fill="none" stroke="#3a8a3a" stroke-width="1.25" stroke-dasharray="2.8,1.8"/>
<polygon points="143.2,226.2 140.2,220.6 145.0,220.0" fill="#3a8a3a"/>
<circle cx="141.30" cy="231.20" r="3.70" fill="url(#gRed)" stroke="none" stroke-width="1" />
<circle cx="155.00" cy="231.20" r="3.70" fill="url(#gRed)" stroke="none" stroke-width="1" />
<line x1="164.70" y1="232.50" x2="187.80" y2="232.50" stroke="#222" stroke-width="0.9" />
<polygon points="187.80,232.50 184.20,234.30 184.20,230.70" fill="#222"/>
<circle cx="84.50" cy="275.90" r="3.90" fill="url(#gCy)" stroke="none" stroke-width="1" />
<circle cx="96.40" cy="275.90" r="3.90" fill="url(#gCy)" stroke="none" stroke-width="1" />
<line x1="79.20" y1="274.50" x2="58.20" y2="274.50" stroke="#222" stroke-width="0.9" />
<polygon points="58.20,274.50 61.80,272.70 61.80,276.30" fill="#222"/>
<text x="94.1" y="305.0" font-size="10.5" text-anchor="middle" fill="#333">WSe<tspan font-size="7.2" dy="2.6">2</tspan></text>
<text x="151.8" y="321.2" font-size="10.5" text-anchor="middle" fill="#333">MoS<tspan font-size="7.2" dy="2.6">2</tspan></text>
</svg>
</body></html>
